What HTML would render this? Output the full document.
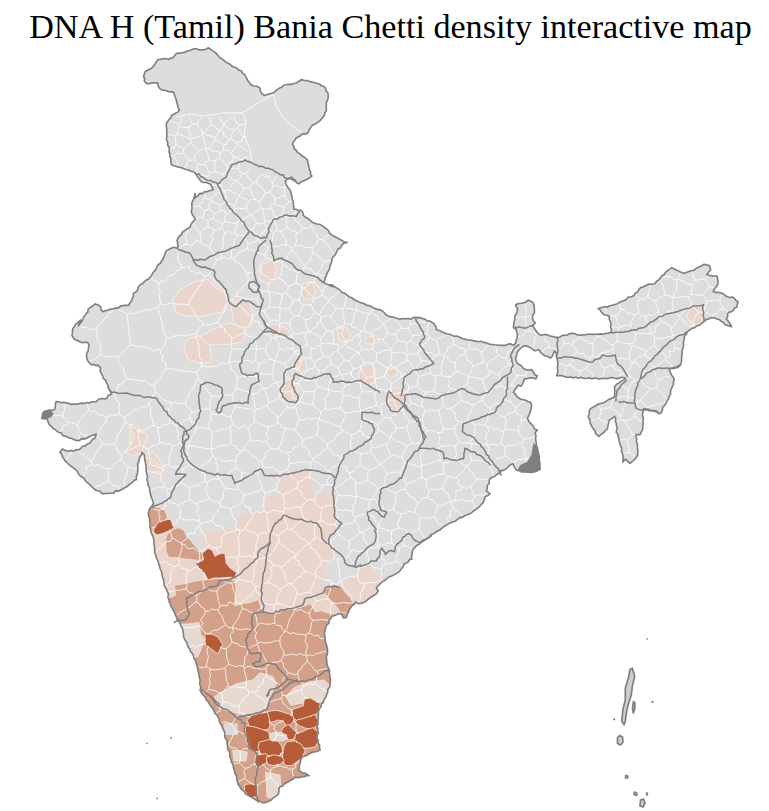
<!DOCTYPE html>
<html><head><meta charset="utf-8"><style>
html,body{margin:0;padding:0;background:#fff;width:769px;height:811px;overflow:hidden}
#t{position:absolute;left:29.2px;top:8.4px;font-family:"Liberation Serif",serif;font-size:34.13px;white-space:nowrap;color:#000;line-height:38px}
svg{position:absolute;left:0;top:0}
</style></head><body>
<div id="t">DNA H (Tamil) Bania Chetti density interactive map</div>
<svg width="769" height="811" viewBox="0 0 769 811">
<defs><clipPath id="ind"><path d="M143.5,76.4 145.1,71.7 150.3,69.1 154.7,64.7 158.1,59.5 162.5,58.7 168.5,59.5 172.9,57.7 176.3,53.5 181.5,53.0 189.8,50.4 195.5,48.6 199.7,49.9 205.9,49.4 208.0,47.8 212.7,50.9 219.7,57.7 230.1,64.2 241.3,70.7 245.7,76.4 250.9,84.7 256.9,86.3 260.0,88.1 260.6,92.0 263.9,95.1 272.5,93.3 279.5,88.1 286.0,84.7 296.4,82.9 301.7,79.5 309.5,81.6 319.9,84.2 325.6,88.1 328.2,95.9 326.4,105.0 324.5,115.4 317.3,122.7 312.1,125.3 308.2,132.3 300.4,135.7 295.9,138.3 292.5,144.0 296.4,150.5 301.7,155.7 306.9,159.1 308.9,167.4 311.9,176.1 307.6,179.0 302.6,181.3 298.7,183.9 295.3,180.0 291.4,177.1 287.5,179.0 285.2,181.0 287.5,186.8 290.5,190.7 292.0,196.6 293.4,204.4 294.0,209.2 298.3,210.6 300.6,210.2 305.1,217.0 311.9,221.9 319.7,224.3 327.1,229.3 329.9,233.6 336.3,237.5 347.0,242.4 341.6,245.3 336.9,251.2 333.0,257.0 330.4,264.8 328.5,271.1 325.2,277.5 323.6,282.4 328.5,284.7 334.3,286.7 330.0,284.7 337.8,288.6 345.6,293.8 353.4,299.0 361.2,302.9 371.6,306.8 382.0,310.7 388.5,315.9 397.6,318.5 408.0,318.5 415.8,317.2 422.3,318.5 430.1,321.1 434.0,323.7 436.6,329.7 444.4,332.8 452.2,335.4 458.7,336.7 465.2,339.3 475.6,341.1 486.0,342.7 492.5,344.5 499.1,345.3 505.6,345.4 510.3,343.8 513.4,345.4 515.7,343.1 516.9,338.4 517.3,333.7 515.7,329.0 513.4,327.5 513.8,323.5 514.6,319.6 515.0,315.7 516.9,312.6 517.7,308.7 516.1,306.8 515.7,304.8 521.2,303.3 525.1,302.5 528.2,300.1 532.9,302.5 534.1,305.6 534.5,309.5 532.5,315.7 533.7,321.2 535.3,322.8 532.9,325.1 533.7,327.5 536.8,332.1 540.7,335.3 544.6,334.5 550.0,336.0 557.0,337.4 565.3,335.3 571.6,333.2 579.9,335.3 590.3,334.3 602.8,334.3 611.1,332.2 610.6,325.4 609.3,316.3 602.8,313.7 598.1,308.5 602.8,307.2 614.5,304.6 623.6,300.7 631.4,296.8 637.9,291.6 640.5,287.7 647.0,285.1 654.8,283.8 658.7,279.9 663.9,274.7 667.8,270.3 671.7,267.7 678.2,270.8 684.7,273.4 691.2,270.8 699.0,266.9 704.2,264.3 709.4,265.6 710.7,269.5 706.8,274.7 713.3,276.0 717.2,276.0 717.8,283.8 713.3,291.6 721.1,292.9 727.6,296.8 734.1,298.1 738.1,302.0 736.8,307.2 727.6,313.7 726.3,318.9 731.5,326.7 727.6,325.4 723.7,322.8 717.2,318.9 710.7,317.6 704.2,321.5 699.0,325.4 692.5,328.0 687.3,331.9 684.7,335.8 683.4,343.6 682.1,354.0 681.6,361.8 678.3,367.3 671.1,368.2 669.2,370.0 674.3,379.1 672.0,387.3 668.9,396.4 664.7,405.5 660.1,413.7 653.8,410.6 643.7,408.8 642.8,412.8 643.4,418.3 642.8,429.2 640.1,434.6 636.1,434.6 637.4,443.7 637.9,454.7 635.6,458.3 632.8,461.0 630.1,463.4 625.5,459.2 622.8,461.9 622.8,454.7 620.1,443.7 617.9,436.5 616.4,425.5 614.6,416.4 609.2,420.1 607.3,429.2 603.7,432.8 599.1,436.5 595.5,433.7 593.7,429.2 590.0,422.8 588.2,416.4 590.0,409.2 594.6,406.4 599.1,403.7 603.7,402.8 609.2,399.1 613.7,397.3 614.6,392.8 614.6,386.4 617.3,383.7 621.9,380.9 625.5,378.2 621.9,377.3 614.6,378.2 605.5,378.6 596.4,378.2 587.3,378.2 578.2,378.2 569.1,377.3 560.0,375.5 556.6,375.8 557.6,369.5 557.6,361.2 556.6,353.9 554.5,350.8 552.4,356.0 550.3,358.1 545.1,356.0 541.0,352.9 538.9,349.8 534.7,350.8 531.6,348.7 528.5,346.6 524.3,345.6 520.2,348.7 517.0,352.9 515.5,358.1 516.5,362.2 521.2,365.4 525.4,369.5 531.6,369.5 533.7,372.7 534.7,374.7 537.3,375.8 535.8,378.9 529.5,377.9 524.3,378.9 521.2,386.2 518.1,385.1 515.0,389.3 513.4,392.4 517.0,396.6 523.3,399.7 530.0,401.8 531.6,406.0 531.0,409.2 529.2,414.6 527.4,418.3 529.2,421.9 531.9,424.6 534.6,429.2 537.4,430.1 535.0,432.8 535.6,438.3 536.5,445.6 538.3,452.8 539.2,458.3 540.1,469.2 536.5,471.1 532.8,472.0 527.4,471.4 521.9,472.0 516.4,470.1 514.6,467.4 512.8,463.8 505.5,469.2 500.1,471.1 494.6,476.5 489.1,480.2 487.3,485.6 486.4,491.1 490.0,493.8 485.5,496.5 483.4,502.4 478.2,507.6 473.0,511.5 465.2,515.4 457.4,519.3 449.6,523.2 441.8,528.4 434.0,533.6 428.8,537.5 421.0,542.7 413.2,549.2 411.9,559.1 406.4,562.8 402.8,567.3 399.1,571.9 394.6,574.6 387.3,578.2 381.8,581.9 378.2,585.5 376.4,588.3 378.2,591.0 376.4,593.7 373.7,595.5 364.9,602.1 358.7,603.7 355.5,602.1 352.4,605.3 349.3,609.9 346.2,617.7 343.1,617.7 341.5,613.8 336.8,614.6 332.1,616.2 329.0,620.9 325.9,627.1 324.3,633.3 325.1,639.6 326.7,645.8 327.5,653.6 326.7,659.9 327.5,666.1 329.0,669.2 329.8,673.9 330.6,680.0 330.1,685.8 326.2,696.2 321.0,704.0 318.4,714.4 317.1,735.2 320.2,750.1 301.9,757.4 298.3,770.1 309.2,775.6 294.7,777.4 280.1,786.5 278.3,793.8 269.2,801.1 263.7,802.9 254.6,799.2 245.5,793.8 238.2,784.7 234.6,771.9 230.9,759.2 227.3,744.6 223.7,730.1 218.2,717.3 210.9,706.4 203.6,695.5 200.0,690.0 200.2,680.0 197.6,667.3 193.7,656.9 189.8,649.1 185.9,641.2 183.3,633.4 180.7,625.6 176.8,617.8 172.9,610.0 169.0,599.6 166.4,589.2 163.8,581.4 161.2,571.0 158.6,563.2 156.0,555.4 154.7,547.6 153.4,537.2 150.8,532.0 149.5,521.6 148.2,513.8 149.5,508.6 153.4,503.4 150.8,495.6 149.5,487.8 146.9,480.0 147.0,474.4 145.7,464.0 144.4,454.9 141.8,452.3 139.2,458.8 137.9,469.2 136.6,479.6 128.8,484.8 121.0,490.0 110.6,493.2 102.8,493.9 92.4,487.4 82.0,477.0 71.6,466.6 63.8,458.8 59.9,452.3 62.5,448.9 66.4,451.0 74.2,451.0 80.7,448.4 89.8,443.2 95.0,438.0 96.3,434.1 92.4,435.4 87.2,438.0 79.4,440.6 69.0,438.0 57.3,431.5 49.5,425.0 46.9,418.5 41.7,418.5 42.5,413.3 46.9,410.7 54.7,409.4 56.0,401.6 66.4,402.9 76.8,404.2 89.8,402.9 96.3,401.6 98.9,399.0 105.4,399.0 111.9,392.5 108.0,387.3 111.0,392.8 108.9,388.7 105.8,380.3 101.1,373.1 100.6,367.9 98.5,365.3 91.2,364.7 87.6,360.6 86.5,355.4 88.1,351.2 89.1,345.0 87.6,342.4 79.8,341.8 73.5,338.2 72.0,335.6 73.0,328.3 75.6,324.2 80.8,320.0 78.2,326.0 84.7,315.6 89.9,307.8 95.1,303.9 99.0,305.2 102.9,311.7 112.0,309.1 125.0,305.2 130.2,302.6 135.4,292.2 140.6,284.4 148.4,279.2 156.2,268.8 161.4,261.0 166.6,250.6 171.8,248.0 178.3,246.7 177.0,240.2 182.2,232.4 190.0,227.2 192.6,222.0 195.2,219.4 191.3,211.6 192.6,201.2 195.2,193.4 193.7,198.6 200.2,193.4 213.2,189.5 210.6,184.3 200.2,180.4 195.0,172.6 171.6,164.8 169.0,151.8 166.4,138.8 166.4,123.2 171.6,115.4 179.4,110.2 176.8,102.4 174.3,94.3 173.3,91.7 167.6,91.2 162.4,90.2 159.8,88.6 158.2,86.0 157.7,82.9 151.4,82.9 147.8,83.9 144.2,80.8Z"/></clipPath></defs>
<path d="M143.5,76.4 145.1,71.7 150.3,69.1 154.7,64.7 158.1,59.5 162.5,58.7 168.5,59.5 172.9,57.7 176.3,53.5 181.5,53.0 189.8,50.4 195.5,48.6 199.7,49.9 205.9,49.4 208.0,47.8 212.7,50.9 219.7,57.7 230.1,64.2 241.3,70.7 245.7,76.4 250.9,84.7 256.9,86.3 260.0,88.1 260.6,92.0 263.9,95.1 272.5,93.3 279.5,88.1 286.0,84.7 296.4,82.9 301.7,79.5 309.5,81.6 319.9,84.2 325.6,88.1 328.2,95.9 326.4,105.0 324.5,115.4 317.3,122.7 312.1,125.3 308.2,132.3 300.4,135.7 295.9,138.3 292.5,144.0 296.4,150.5 301.7,155.7 306.9,159.1 308.9,167.4 311.9,176.1 307.6,179.0 302.6,181.3 298.7,183.9 295.3,180.0 291.4,177.1 287.5,179.0 285.2,181.0 287.5,186.8 290.5,190.7 292.0,196.6 293.4,204.4 294.0,209.2 298.3,210.6 300.6,210.2 305.1,217.0 311.9,221.9 319.7,224.3 327.1,229.3 329.9,233.6 336.3,237.5 347.0,242.4 341.6,245.3 336.9,251.2 333.0,257.0 330.4,264.8 328.5,271.1 325.2,277.5 323.6,282.4 328.5,284.7 334.3,286.7 330.0,284.7 337.8,288.6 345.6,293.8 353.4,299.0 361.2,302.9 371.6,306.8 382.0,310.7 388.5,315.9 397.6,318.5 408.0,318.5 415.8,317.2 422.3,318.5 430.1,321.1 434.0,323.7 436.6,329.7 444.4,332.8 452.2,335.4 458.7,336.7 465.2,339.3 475.6,341.1 486.0,342.7 492.5,344.5 499.1,345.3 505.6,345.4 510.3,343.8 513.4,345.4 515.7,343.1 516.9,338.4 517.3,333.7 515.7,329.0 513.4,327.5 513.8,323.5 514.6,319.6 515.0,315.7 516.9,312.6 517.7,308.7 516.1,306.8 515.7,304.8 521.2,303.3 525.1,302.5 528.2,300.1 532.9,302.5 534.1,305.6 534.5,309.5 532.5,315.7 533.7,321.2 535.3,322.8 532.9,325.1 533.7,327.5 536.8,332.1 540.7,335.3 544.6,334.5 550.0,336.0 557.0,337.4 565.3,335.3 571.6,333.2 579.9,335.3 590.3,334.3 602.8,334.3 611.1,332.2 610.6,325.4 609.3,316.3 602.8,313.7 598.1,308.5 602.8,307.2 614.5,304.6 623.6,300.7 631.4,296.8 637.9,291.6 640.5,287.7 647.0,285.1 654.8,283.8 658.7,279.9 663.9,274.7 667.8,270.3 671.7,267.7 678.2,270.8 684.7,273.4 691.2,270.8 699.0,266.9 704.2,264.3 709.4,265.6 710.7,269.5 706.8,274.7 713.3,276.0 717.2,276.0 717.8,283.8 713.3,291.6 721.1,292.9 727.6,296.8 734.1,298.1 738.1,302.0 736.8,307.2 727.6,313.7 726.3,318.9 731.5,326.7 727.6,325.4 723.7,322.8 717.2,318.9 710.7,317.6 704.2,321.5 699.0,325.4 692.5,328.0 687.3,331.9 684.7,335.8 683.4,343.6 682.1,354.0 681.6,361.8 678.3,367.3 671.1,368.2 669.2,370.0 674.3,379.1 672.0,387.3 668.9,396.4 664.7,405.5 660.1,413.7 653.8,410.6 643.7,408.8 642.8,412.8 643.4,418.3 642.8,429.2 640.1,434.6 636.1,434.6 637.4,443.7 637.9,454.7 635.6,458.3 632.8,461.0 630.1,463.4 625.5,459.2 622.8,461.9 622.8,454.7 620.1,443.7 617.9,436.5 616.4,425.5 614.6,416.4 609.2,420.1 607.3,429.2 603.7,432.8 599.1,436.5 595.5,433.7 593.7,429.2 590.0,422.8 588.2,416.4 590.0,409.2 594.6,406.4 599.1,403.7 603.7,402.8 609.2,399.1 613.7,397.3 614.6,392.8 614.6,386.4 617.3,383.7 621.9,380.9 625.5,378.2 621.9,377.3 614.6,378.2 605.5,378.6 596.4,378.2 587.3,378.2 578.2,378.2 569.1,377.3 560.0,375.5 556.6,375.8 557.6,369.5 557.6,361.2 556.6,353.9 554.5,350.8 552.4,356.0 550.3,358.1 545.1,356.0 541.0,352.9 538.9,349.8 534.7,350.8 531.6,348.7 528.5,346.6 524.3,345.6 520.2,348.7 517.0,352.9 515.5,358.1 516.5,362.2 521.2,365.4 525.4,369.5 531.6,369.5 533.7,372.7 534.7,374.7 537.3,375.8 535.8,378.9 529.5,377.9 524.3,378.9 521.2,386.2 518.1,385.1 515.0,389.3 513.4,392.4 517.0,396.6 523.3,399.7 530.0,401.8 531.6,406.0 531.0,409.2 529.2,414.6 527.4,418.3 529.2,421.9 531.9,424.6 534.6,429.2 537.4,430.1 535.0,432.8 535.6,438.3 536.5,445.6 538.3,452.8 539.2,458.3 540.1,469.2 536.5,471.1 532.8,472.0 527.4,471.4 521.9,472.0 516.4,470.1 514.6,467.4 512.8,463.8 505.5,469.2 500.1,471.1 494.6,476.5 489.1,480.2 487.3,485.6 486.4,491.1 490.0,493.8 485.5,496.5 483.4,502.4 478.2,507.6 473.0,511.5 465.2,515.4 457.4,519.3 449.6,523.2 441.8,528.4 434.0,533.6 428.8,537.5 421.0,542.7 413.2,549.2 411.9,559.1 406.4,562.8 402.8,567.3 399.1,571.9 394.6,574.6 387.3,578.2 381.8,581.9 378.2,585.5 376.4,588.3 378.2,591.0 376.4,593.7 373.7,595.5 364.9,602.1 358.7,603.7 355.5,602.1 352.4,605.3 349.3,609.9 346.2,617.7 343.1,617.7 341.5,613.8 336.8,614.6 332.1,616.2 329.0,620.9 325.9,627.1 324.3,633.3 325.1,639.6 326.7,645.8 327.5,653.6 326.7,659.9 327.5,666.1 329.0,669.2 329.8,673.9 330.6,680.0 330.1,685.8 326.2,696.2 321.0,704.0 318.4,714.4 317.1,735.2 320.2,750.1 301.9,757.4 298.3,770.1 309.2,775.6 294.7,777.4 280.1,786.5 278.3,793.8 269.2,801.1 263.7,802.9 254.6,799.2 245.5,793.8 238.2,784.7 234.6,771.9 230.9,759.2 227.3,744.6 223.7,730.1 218.2,717.3 210.9,706.4 203.6,695.5 200.0,690.0 200.2,680.0 197.6,667.3 193.7,656.9 189.8,649.1 185.9,641.2 183.3,633.4 180.7,625.6 176.8,617.8 172.9,610.0 169.0,599.6 166.4,589.2 163.8,581.4 161.2,571.0 158.6,563.2 156.0,555.4 154.7,547.6 153.4,537.2 150.8,532.0 149.5,521.6 148.2,513.8 149.5,508.6 153.4,503.4 150.8,495.6 149.5,487.8 146.9,480.0 147.0,474.4 145.7,464.0 144.4,454.9 141.8,452.3 139.2,458.8 137.9,469.2 136.6,479.6 128.8,484.8 121.0,490.0 110.6,493.2 102.8,493.9 92.4,487.4 82.0,477.0 71.6,466.6 63.8,458.8 59.9,452.3 62.5,448.9 66.4,451.0 74.2,451.0 80.7,448.4 89.8,443.2 95.0,438.0 96.3,434.1 92.4,435.4 87.2,438.0 79.4,440.6 69.0,438.0 57.3,431.5 49.5,425.0 46.9,418.5 41.7,418.5 42.5,413.3 46.9,410.7 54.7,409.4 56.0,401.6 66.4,402.9 76.8,404.2 89.8,402.9 96.3,401.6 98.9,399.0 105.4,399.0 111.9,392.5 108.0,387.3 111.0,392.8 108.9,388.7 105.8,380.3 101.1,373.1 100.6,367.9 98.5,365.3 91.2,364.7 87.6,360.6 86.5,355.4 88.1,351.2 89.1,345.0 87.6,342.4 79.8,341.8 73.5,338.2 72.0,335.6 73.0,328.3 75.6,324.2 80.8,320.0 78.2,326.0 84.7,315.6 89.9,307.8 95.1,303.9 99.0,305.2 102.9,311.7 112.0,309.1 125.0,305.2 130.2,302.6 135.4,292.2 140.6,284.4 148.4,279.2 156.2,268.8 161.4,261.0 166.6,250.6 171.8,248.0 178.3,246.7 177.0,240.2 182.2,232.4 190.0,227.2 192.6,222.0 195.2,219.4 191.3,211.6 192.6,201.2 195.2,193.4 193.7,198.6 200.2,193.4 213.2,189.5 210.6,184.3 200.2,180.4 195.0,172.6 171.6,164.8 169.0,151.8 166.4,138.8 166.4,123.2 171.6,115.4 179.4,110.2 176.8,102.4 174.3,94.3 173.3,91.7 167.6,91.2 162.4,90.2 159.8,88.6 158.2,86.0 157.7,82.9 151.4,82.9 147.8,83.9 144.2,80.8Z" fill="#dddddd"/>
<g clip-path="url(#ind)">
<path d="M140.0,508.0 150.0,508.0 156.8,507.5 165.2,512.6 166.9,517.6 173.7,524.4 179.6,529.5 186.3,534.5 191.4,541.3 199.0,549.7 205.8,549.7 202.4,537.9 200.7,534.5 210.9,531.1 219.3,529.5 232.5,529.3 236.6,522.0 240.8,515.8 245.0,513.7 254.3,511.6 259.5,511.6 265.8,504.3 266.8,496.0 274.1,496.0 280.3,493.9 278.3,482.5 276.7,478.3 282.4,476.2 297.1,471.1 305.5,468.6 310.6,473.7 312.3,494.0 320.7,494.0 330.9,492.3 335.1,494.8 334.2,500.7 333.4,514.2 337.6,519.3 342.7,524.4 337.6,529.5 330.9,532.8 329.2,541.3 329.4,544.6 334.6,549.8 336.6,556.0 331.4,560.2 326.2,565.4 324.2,572.7 326.2,578.9 323.1,582.0 326.2,586.2 331.4,584.1 336.6,585.1 343.9,584.1 350.2,578.9 356.4,575.8 359.5,569.5 363.7,565.4 368.9,564.3 369.1,566.4 371.8,570.0 378.2,573.7 382.8,577.3 386.0,580.0 395.0,578.0 460.0,620.0 460.0,811.0 100.0,811.0 100.0,508.0Z" fill="#e9d5cb"/>
<path d="M261.7,264.4 272.5,260.1 276.8,268.7 274.6,279.5 268.2,283.9 259.5,279.5 261.7,270.9Z" fill="#e9d5cb" stroke="#f8f0ea" stroke-width="0.9"/>
<path d="M302.7,283.9 311.3,281.7 315.7,290.3 313.5,299.0 304.9,299.0 300.6,292.5Z" fill="#e9d5cb" stroke="#f8f0ea" stroke-width="0.9"/>
<path d="M173.2,299.0 181.8,288.2 194.8,281.7 207.7,279.5 216.4,288.2 225.0,292.5 227.2,301.1 222.8,311.9 212.0,314.1 201.2,316.2 186.1,316.2 175.3,311.9Z" fill="#e9d5cb" stroke="#f8f0ea" stroke-width="0.9"/>
<path d="M231.5,307.6 240.1,299.0 248.7,301.1 253.1,314.1 250.9,327.0 240.1,327.0 233.6,322.7Z" fill="#e9d5cb" stroke="#f8f0ea" stroke-width="0.9"/>
<path d="M201.2,335.7 214.2,329.2 229.3,322.7 240.1,327.0 246.6,331.3 242.3,342.1 229.3,344.3 214.2,344.3 203.4,346.5Z" fill="#e9d5cb" stroke="#f8f0ea" stroke-width="0.9"/>
<path d="M186.1,340.0 199.1,335.7 209.9,346.5 212.0,361.6 201.2,363.7 188.3,359.4 184.0,348.6Z" fill="#e9d5cb" stroke="#f8f0ea" stroke-width="0.9"/>
<path d="M266.0,324.9 276.8,324.9 287.6,329.2 291.9,335.7 283.3,337.8 272.5,333.5 266.0,331.3Z" fill="#e9d5cb" stroke="#f8f0ea" stroke-width="0.9"/>
<path d="M337.3,329.2 345.9,327.0 350.2,335.7 345.9,342.1 339.4,340.0Z" fill="#e9d5cb" stroke="#f8f0ea" stroke-width="0.9"/>
<path d="M365.3,337.8 376.1,335.7 380.4,342.1 371.8,344.3 365.3,343.4Z" fill="#e9d5cb" stroke="#f8f0ea" stroke-width="0.9"/>
<path d="M361.0,365.9 371.8,363.7 376.1,372.4 374.0,383.2 365.3,385.3 358.8,376.7Z" fill="#e9d5cb" stroke="#f8f0ea" stroke-width="0.9"/>
<path d="M386.9,369.3 395.5,368.0 397.7,374.5 391.2,378.0 386.9,374.5Z" fill="#e9d5cb" stroke="#f8f0ea" stroke-width="0.9"/>
<path d="M386.9,389.6 397.7,387.5 406.3,394.0 402.0,409.1 393.4,411.2 389.1,404.7Z" fill="#e9d5cb" stroke="#f8f0ea" stroke-width="0.9"/>
<path d="M296.2,361.6 304.9,359.4 307.0,370.2 302.7,376.7 296.2,374.5Z" fill="#e9d5cb" stroke="#f8f0ea" stroke-width="0.9"/>
<path d="M281.1,383.2 289.8,378.8 296.2,385.3 298.4,398.3 291.9,404.7 283.3,400.4 279.0,391.8Z" fill="#e9d5cb" stroke="#f8f0ea" stroke-width="0.9"/>
<path d="M130.0,424.2 138.6,428.5 147.3,437.1 143.0,447.9 136.5,452.2 130.0,452.2Z" fill="#e9d5cb" stroke="#f8f0ea" stroke-width="0.9"/>
<path d="M145.1,454.4 153.7,452.2 164.5,467.4 160.2,473.8 149.4,471.7 145.1,463.0Z" fill="#e9d5cb" stroke="#f8f0ea" stroke-width="0.9"/>
<path d="M688.6,309.8 696.4,305.9 704.2,305.1 702.9,315.0 701.6,322.8 693.8,325.4 687.3,317.6Z" fill="#e9d5cb" stroke="#f8f0ea" stroke-width="0.9"/>
<path d="M130.1,425.0 136.6,423.7 139.2,431.5 148.3,435.4 144.4,443.2 141.8,452.3 134.0,456.2 124.9,452.3 131.4,443.2 134.0,435.4Z" fill="#e9d5cb" stroke="#f8f0ea" stroke-width="0.9"/>
<path d="M144.4,457.5 152.2,458.8 157.4,464.0 165.2,466.6 162.6,471.8 152.2,471.8 145.7,469.2Z" fill="#e9d5cb" stroke="#f8f0ea" stroke-width="0.9"/>
<path d="M140.0,506.0 149.1,508.2 154.3,506.9 159.5,507.6 164.7,510.2 166.7,514.7 167.3,518.6 155.6,526.4 152.4,531.6 140.0,531.0Z" fill="#d3a08a" stroke="#f5e4da" stroke-width="0.8"/>
<path d="M165.4,539.4 167.3,534.2 173.8,529.0 179.0,527.7 184.2,530.3 186.8,536.8 192.0,542.0 195.9,547.2 201.1,552.4 205.0,556.3 201.1,560.2 195.9,560.2 185.5,558.9 176.4,557.6 168.6,557.6 166.0,551.1Z" fill="#d3a08a" stroke="#f5e4da" stroke-width="0.8"/>
<path d="M325.8,588.6 333.4,584.4 341.0,586.9 346.1,593.7 354.5,602.1 360.0,610.0 344.4,620.0 339.3,610.6 334.2,603.8 327.5,597.0 324.1,592.0Z" fill="#d3a08a" stroke="#f5e4da" stroke-width="0.8"/>
<path d="M150.0,598.7 166.1,598.7 175.4,595.4 174.5,585.2 185.5,583.5 200.7,580.1 217.6,578.5 231.2,578.5 235.4,581.8 236.2,592.0 234.5,605.5 251.4,602.1 258.2,599.6 261.6,608.9 268.3,614.0 280.0,613.1 280.1,610.6 295.4,608.9 303.8,606.3 310.6,603.8 315.6,612.3 320.7,610.6 325.8,612.3 332.6,614.0 337.6,614.0 345.0,612.0 360.0,640.0 360.0,811.0 150.0,811.0Z" fill="#d3a08a" stroke="#f5e4da" stroke-width="0.8"/>
<path d="M160.0,622.0 178.7,624.1 187.2,624.1 199.0,622.4 200.7,634.2 204.9,639.3 201.6,647.8 198.2,656.2 194.0,657.9 188.9,649.5 184.7,639.3 181.3,632.6Z" fill="#e6d9d2" stroke="#f5e4da" stroke-width="0.8"/>
<path d="M214.6,696.4 223.7,690.9 236.4,683.7 252.8,680.0 260.1,672.7 272.8,676.4 276.5,683.7 271.0,694.6 267.4,707.3 254.6,712.8 241.9,714.6 227.3,711.0 218.2,707.3Z" fill="#e6d9d2" stroke="#f5e4da" stroke-width="0.8"/>
<path d="M285.6,696.4 294.7,687.3 309.2,681.8 323.8,680.0 332.0,687.3 330.0,701.9 318.3,707.3 309.2,701.9 298.3,703.7 291.0,705.5Z" fill="#e6d9d2" stroke="#f5e4da" stroke-width="0.8"/>
<path d="M265.5,772.0 280.0,775.0 281.0,790.0 276.0,799.0 267.0,797.0Z" fill="#e6d9d2" stroke="#f5e4da" stroke-width="0.8"/>
<path d="M232.8,750.0 247.3,752.0 246.0,761.0 234.0,761.0Z" fill="#e6d9d2" stroke="#f5e4da" stroke-width="0.8"/>
<path d="M223.6,723.0 237.9,723.5 238.0,735.0 224.0,735.0Z" fill="#dcd9d8"/>
<path d="M154.3,527.4 153.5,531.8 156.7,535.0 162.3,533.6 168.9,530.9 174.1,528.0 170.3,519.1 165.8,519.9 159.1,521.9 154.3,527.4Z" fill="#b65b38" stroke="#f3e2d8" stroke-width="0.9"/>
<path d="M202.0,553.5 203.8,559.6 200.7,561.2 195.3,563.4 198.7,567.8 204.9,574.1 208.0,580.0 213.8,578.0 222.8,578.0 230.1,577.1 235.2,578.1 236.4,572.5 230.6,568.6 226.2,563.4 225.2,554.0 220.9,553.0 214.9,556.3 212.4,550.4 208.2,548.3 202.0,553.5Z" fill="#b65b38" stroke="#f3e2d8" stroke-width="0.9"/>
<path d="M205.1,633.4 205.1,644.8 210.5,648.4 217.8,653.9 222.7,644.4 218.1,637.1 212.8,634.4 205.1,633.4Z" fill="#b65b38" stroke="#f3e2d8" stroke-width="0.9"/>
<path d="M292.0,709.4 292.6,717.2 297.2,721.2 303.4,720.0 310.5,717.5 315.3,715.2 318.4,711.4 320.4,703.6 310.3,698.1 304.4,698.8 303.2,705.9 297.2,708.0 292.0,709.4Z" fill="#b65b38" stroke="#f3e2d8" stroke-width="0.9"/>
<path d="M297.0,719.8 295.3,722.3 299.3,725.7 305.3,728.2 311.5,729.3 317.4,725.5 317.9,720.3 315.3,714.3 310.0,716.2 303.0,718.6 297.0,719.8Z" fill="#b65b38" stroke="#f3e2d8" stroke-width="0.9"/>
<path d="M267.3,711.6 268.0,719.7 271.5,722.4 277.6,720.0 282.9,721.0 286.5,725.9 290.7,724.5 294.0,720.6 293.3,716.5 289.5,714.0 284.7,712.7 280.0,711.0 275.1,710.4 267.3,711.6Z" fill="#b65b38" stroke="#f3e2d8" stroke-width="0.9"/>
<path d="M250.1,716.3 247.4,720.3 248.8,725.6 253.7,728.1 261.0,730.5 268.6,729.2 270.0,725.2 269.4,719.2 267.4,712.0 257.4,713.9 250.1,716.3Z" fill="#b65b38" stroke="#f3e2d8" stroke-width="0.9"/>
<path d="M245.1,725.5 245.7,734.6 246.3,741.7 250.0,749.0 255.0,751.6 260.5,751.6 261.7,745.5 267.4,743.3 270.0,739.4 268.7,731.6 261.3,729.1 254.2,726.8 245.1,725.5Z" fill="#b65b38" stroke="#f3e2d8" stroke-width="0.9"/>
<path d="M259.3,742.1 258.0,747.5 260.6,753.8 265.6,755.1 272.7,756.2 278.9,756.2 282.9,752.2 281.7,745.9 277.9,740.8 269.3,739.6 259.3,742.1Z" fill="#b65b38" stroke="#f3e2d8" stroke-width="0.9"/>
<path d="M282.7,728.2 281.3,732.2 284.0,737.3 289.1,739.9 295.6,738.6 297.0,733.1 292.0,728.1 288.1,724.2 282.7,728.2Z" fill="#b65b38" stroke="#f3e2d8" stroke-width="0.9"/>
<path d="M295.6,734.0 294.2,739.4 298.0,744.3 303.0,748.1 309.2,748.1 315.4,746.8 319.1,739.3 317.8,731.7 312.8,727.8 307.7,729.1 302.9,731.5 295.6,734.0Z" fill="#b65b38" stroke="#f3e2d8" stroke-width="0.9"/>
<path d="M286.3,742.1 283.8,747.2 282.6,753.1 282.6,760.4 285.2,765.6 291.7,765.6 301.5,758.4 305.2,750.9 301.4,744.5 295.1,740.8 286.3,742.1Z" fill="#b65b38" stroke="#f3e2d8" stroke-width="0.9"/>
<path d="M255.8,754.9 254.5,762.7 257.3,768.2 261.4,765.5 266.2,763.1 268.9,757.8 266.0,753.7 255.8,754.9Z" fill="#b65b38" stroke="#f3e2d8" stroke-width="0.9"/>
<path d="M266.1,757.4 267.5,764.3 272.8,765.6 280.1,764.4 284.2,760.3 281.4,756.1 273.8,754.8 266.1,757.4Z" fill="#b65b38" stroke="#f3e2d8" stroke-width="0.9"/>
<path d="M244.9,784.3 244.3,790.2 249.7,797.7 257.5,796.9 257.7,785.5 252.1,783.8 244.9,784.3Z" fill="#b65b38" stroke="#f3e2d8" stroke-width="0.9"/>
<path d="M269.3,733.3 275.1,731.5 281.0,732.1 286.8,734.5 288.0,739.2 283.3,741.5 277.5,741.5 271.6,741.5 269.8,738.0Z" fill="#e6d9d2"/>
<path d="M169.6,120.5 172.6,122.1 176.2,122.4 178.6,124.9M182.5,117.0 181.1,121.2 178.6,124.9M254.5,797.8 254.6,796.2M238.4,781.1 241.7,780.0 244.7,778.3M253.6,785.3 250.8,782.7 247.2,781.1 244.7,778.3M256.0,786.0 259.1,784.4 261.6,782.1 265.0,780.9 267.9,779.1 270.1,776.3M278.7,787.0 276.6,784.3 274.5,781.6 271.8,779.3 270.1,776.3M244.7,778.3 245.0,775.0 243.6,771.5 245.4,768.3M270.1,776.3 270.6,770.7M270.6,770.7 267.3,769.2 264.9,766.6 262.5,763.8M245.4,768.3 249.2,767.3 252.3,764.7 256.2,763.8M293.7,776.6 292.5,773.0 292.3,769.1M270.6,770.7 273.0,767.6 276.8,766.7M292.3,769.1 289.1,769.2 286.2,767.4 283.1,767.1 280.1,765.5 276.8,766.7M76.5,325.1 77.2,325.3M79.7,325.8 82.8,327.5 86.2,327.4 89.2,329.2 92.6,329.1 96.0,329.3M89.8,361.2 92.6,359.9 95.7,358.9 98.1,356.7 100.6,354.7M100.6,354.7 100.7,351.4 100.2,348.2 101.4,344.7 98.7,341.9 97.0,338.9 97.3,335.6 96.8,332.4 96.0,329.3M159.1,284.4 157.6,287.7 160.8,290.6 159.2,293.9 159.5,297.0 159.9,300.2 160.7,303.3M159.1,284.4 157.3,281.1 153.2,280.5 151.3,277.4M160.7,303.3 157.7,307.4M157.7,307.4 154.7,308.2 151.8,309.3 148.8,310.0 145.6,309.8 142.7,310.8 139.8,312.1 136.6,312.1 133.9,313.8 130.5,312.8 127.8,314.6M117.3,308.8 120.9,310.5 124.4,312.4 127.8,314.6M181.5,267.2 181.0,264.2 178.5,261.7 177.5,258.8 178.2,255.5 178.5,252.2 176.5,249.6M181.5,267.2 179.6,269.9 176.4,270.8 174.7,273.7 172.0,275.3 168.5,276.0 166.8,278.9 164.5,281.1 160.5,281.0 159.1,284.4M174.9,248.6 176.5,249.6M160.6,350.2 157.7,349.2 154.2,351.4 151.5,349.4 148.7,347.7 145.7,347.4 142.8,346.2 139.5,347.2 136.6,346.2 133.6,345.6 130.6,344.8M160.6,350.2 163.1,347.6 164.6,344.5 165.4,341.1 166.8,337.9M130.6,344.8 129.9,341.8 130.4,338.7 129.8,335.7 128.4,332.8 129.1,329.7 128.6,326.7 128.2,323.7 127.8,320.7 127.1,317.7 127.8,314.6M166.8,337.9 165.3,335.0 164.2,332.0 163.4,328.9 162.2,326.0 162.7,322.5 160.7,319.8 160.5,316.5 158.6,313.8 158.8,310.4 157.7,307.4M96.0,329.3 97.4,326.1 100.3,324.3 102.4,321.8 104.1,318.8 107.4,317.4 108.1,313.5 111.5,312.2 113.8,309.8M130.6,344.8 127.8,347.0 125.4,349.7 123.2,352.5 120.3,354.6 118.4,357.8M118.4,357.8 115.6,356.5 112.7,355.8 109.3,357.4 106.5,356.0 103.4,356.3 100.6,354.7M181.5,267.2 184.6,268.1 188.7,266.1 190.3,270.7 193.5,271.4 195.9,273.9 199.8,272.3 202.4,274.4 205.2,275.9M160.7,303.3 163.7,305.0 166.8,304.6 170.0,302.5 173.0,304.0 176.1,303.7 179.2,304.4 182.3,304.1 185.3,304.4 188.4,304.8M205.2,275.9 204.2,278.9 202.2,281.2 201.7,284.5 199.1,286.5 197.5,289.0 195.7,291.5 193.6,293.8 193.1,297.0 190.1,298.8 189.3,301.9 188.4,304.8M223.6,126.1 223.0,122.7 220.2,120.3 219.3,117.0M223.6,126.1 224.3,125.9M232.1,117.0 229.1,119.6 225.7,121.9 224.3,125.9M211.1,125.5 210.7,121.1 209.1,117.0M211.1,125.5 214.5,126.1 216.7,128.7 219.5,130.3M223.6,126.1 220.3,130.1M219.5,130.3 220.3,130.1M203.0,133.3 205.7,134.9 208.8,135.5 211.7,136.4 214.6,137.5M211.1,125.5 207.8,127.5 205.5,130.6 203.0,133.3M219.5,130.3 217.7,134.4 214.6,137.5M184.0,245.1 180.2,247.3 176.5,249.6M184.0,245.1 186.5,242.5 186.1,239.2 185.0,235.8 187.0,233.1 187.8,230.1M184.0,245.1 187.2,243.8 190.9,245.5 194.0,243.6 196.9,240.2 200.7,242.2M200.7,242.2 201.0,239.1 200.2,236.0 200.1,232.9M192.4,225.1 195.7,226.9 197.4,230.4 200.1,232.9M169.7,149.3 174.4,147.7 175.9,143.0M170.9,155.3 174.0,156.2M174.0,156.2 176.4,153.3 180.2,154.2 183.2,152.9M183.2,152.9 183.8,148.8M183.8,148.8 181.1,146.9 177.9,145.8 175.9,143.0M167.6,135.0 171.5,134.5 175.2,136.1M175.9,143.0 175.5,139.5 175.2,136.1M178.6,124.9 179.3,126.3M179.3,126.3 177.6,130.3 177.1,134.6M175.2,136.1 177.1,134.6M192.3,124.3 189.5,126.9M192.3,124.3 197.3,124.2M189.5,126.9 188.5,130.9 190.6,134.7 190.0,138.6M197.3,124.2 198.6,127.5 201.4,130.0 202.6,133.4M202.6,133.4 202.2,134.0M202.2,134.0 200.1,136.7 196.8,137.1 193.5,137.7 191.0,139.7M191.0,139.7 190.0,138.6M188.4,117.0 191.0,120.3 192.3,124.3M179.3,126.3 182.6,127.5 186.0,127.6 189.5,126.9M202.4,117.0 198.7,119.8 197.3,124.2M177.1,134.6 180.6,134.7 183.7,136.3 186.8,137.6 190.0,138.6M203.0,133.3 202.6,133.4M214.6,137.5 214.8,139.5M208.2,148.2 211.1,145.8 213.3,142.9 214.8,139.5M206.2,148.8 208.2,148.2M206.2,148.8 205.6,145.8 204.2,143.0 204.2,139.8 203.2,136.9 202.2,134.0M205.8,149.2 206.2,148.8M199.5,150.8 202.4,149.1 205.8,149.2M199.5,150.8 196.7,147.9 193.0,146.0 190.9,142.5M190.9,142.5 191.0,139.7M190.9,142.5 188.6,144.6 186.4,146.9 183.8,148.8M196.6,172.9 196.9,169.8 196.7,166.6 197.8,163.5M183.6,167.5 186.8,166.2 187.0,162.4 189.2,160.2M189.2,160.2 194.7,160.0M194.7,160.0 197.8,163.5M174.0,156.2 175.6,159.2 177.9,161.8 177.5,165.5M183.2,152.9 185.6,154.9 186.9,158.0 189.2,160.2M199.5,150.8 196.8,153.2 194.3,155.9 194.7,160.0M214.9,171.6 214.6,168.1 215.0,164.6 215.1,161.2M214.9,171.6 209.7,173.4M209.7,173.4 207.8,170.5 206.5,167.2 204.6,164.3M204.6,164.3 206.4,161.6 209.3,160.0M209.3,160.0 215.1,161.2M207.7,176.4 209.7,173.4M207.7,176.4 204.4,175.6 201.2,174.5 197.7,174.6M197.8,163.5 201.1,164.9 204.6,164.3M205.8,149.2 207.1,152.8 208.3,156.3 209.3,160.0M43.6,414.1 47.0,413.4 50.1,415.6 53.5,415.2 56.8,415.7 60.3,415.0 63.5,416.5M63.5,416.5 63.1,413.1 64.6,410.2 64.8,407.0 66.1,404.1M59.5,431.3 62.3,429.9 62.7,426.1 66.0,425.1 67.8,422.7M63.5,416.5 66.1,419.3 67.8,422.7M126.4,378.1 124.5,381.1 122.3,383.9 118.0,384.9 117.4,389.0 115.4,391.9M126.4,378.1 125.7,375.0 123.6,372.5 123.8,369.1 122.0,366.4 120.5,363.7 118.1,361.3 118.4,357.8M115.4,391.9 112.7,391.6M66.6,459.9 67.3,456.8 70.1,455.0 71.3,452.2M83.0,476.4 84.5,473.5 86.4,471.0 86.0,467.0 90.1,465.8 91.5,463.0M91.5,463.0 91.2,461.5M91.2,461.5 89.0,458.9 85.8,457.4 83.9,454.3 80.1,453.5 77.9,450.8M276.8,766.7 277.6,763.8M279.7,756.8 280.7,753.2M259.7,755.4 259.2,750.6M280.7,753.2 280.6,753.1M228.6,744.7 228.7,744.6M233.6,764.0 239.4,762.8M228.7,744.6 231.0,747.5 234.8,747.8 237.6,749.8 240.5,751.8M239.4,762.8 240.6,759.2 240.1,755.5 240.5,751.8M235.9,731.8 233.1,734.4 231.9,738.0 229.9,741.1 228.7,744.6M235.9,731.8 239.6,731.6 242.9,733.8 246.6,733.6M249.9,746.6 246.9,748.7 242.9,748.8 240.5,751.8M245.4,768.3 242.3,765.7 239.4,762.8M707.2,276.0 705.1,279.5M692.7,271.4 692.9,275.9 694.8,280.1M705.1,279.5 701.7,279.2 698.3,280.0 694.8,280.1M238.8,125.7 242.1,124.5 245.6,123.9M234.1,117.0 235.0,120.3 237.1,122.9 238.8,125.7M714.1,287.8 708.5,286.7M708.5,286.7 707.9,282.6 705.1,279.5M205.2,275.9 208.7,275.0M200.7,242.2 203.6,244.8 207.4,246.1 210.0,249.2M210.0,249.2 212.8,251.3 214.6,254.1 215.1,257.9 217.9,260.0M208.7,275.0 210.2,271.8 212.6,269.1 214.0,265.9 214.9,262.3 217.9,260.0M208.2,148.2 211.1,149.8 213.9,151.7 217.5,151.4 220.4,152.9M215.1,161.2 219.4,158.3M219.4,158.3 220.4,152.9M224.3,125.9 227.4,127.7 230.7,128.8 234.1,129.7M238.8,125.7 237.5,128.2M234.1,129.7 237.5,128.2M196.3,219.8 199.4,217.0 203.4,218.0M193.1,207.0 198.4,205.8M198.4,205.8 201.4,208.1 204.3,210.6M203.4,218.0 203.7,214.3 204.3,210.6M221.7,227.9 218.1,229.7 214.2,230.4M221.7,227.9 222.6,223.9M222.6,223.9 219.5,222.1 216.4,220.3 213.5,218.1M214.2,230.4 211.4,228.1 208.0,226.9M213.5,218.1 210.5,219.1 208.0,221.1M208.0,226.9 208.0,221.1M210.0,249.2 210.2,246.0 211.2,242.9 212.9,240.0 211.3,236.3 213.2,233.5 214.2,230.4M200.1,232.9 202.4,230.4 204.7,228.1 208.0,226.9M203.4,218.0 208.0,221.1M105.8,417.5 103.1,415.6 100.0,414.9 97.3,413.3 95.0,410.8 91.0,411.8 88.6,409.5M105.8,417.5 106.4,421.5 104.0,424.2 101.8,426.9 99.5,429.6 99.0,433.1 97.0,436.0M88.6,409.5 87.2,412.5 84.5,414.6 82.6,417.2 80.3,419.5 78.5,422.2 77.7,425.6M97.0,436.0 96.9,436.0M90.8,434.8 87.6,434.8 84.3,435.5 81.5,433.1M77.7,425.6 78.8,429.7 81.5,433.1M115.4,391.9 114.4,395.3 115.6,398.3 118.0,401.1 119.4,404.0 118.8,407.3 119.1,410.5 119.2,413.7M119.2,413.7 116.1,415.3 112.3,414.9 109.1,416.3 105.8,417.5M87.4,404.3 88.6,409.5M67.8,422.7 71.4,422.6 74.7,423.5 77.7,425.6M102.2,442.8 101.6,446.1 98.9,448.1 97.8,451.0 96.0,453.5 94.1,456.0 93.1,459.0 91.2,461.5M102.2,442.8 100.0,439.1 97.0,436.0M78.8,439.2 79.4,435.8 81.5,433.1M95.0,487.6 97.4,485.6 101.0,485.7 103.0,483.1 106.3,482.8 108.4,480.3M91.5,463.0 94.3,465.9 98.5,464.2 101.3,466.7 104.6,468.0 108.1,468.5M108.4,480.3 108.1,476.3 108.5,472.4 108.1,468.5M102.2,442.8 105.1,443.9 108.1,444.5 111.2,444.2 114.2,444.7M108.1,468.5 111.7,468.3 113.5,465.3 115.9,463.1 118.3,461.0 121.5,460.1M121.5,460.1 121.6,454.5M114.2,444.7 116.8,446.6 117.5,449.9 118.6,452.9 121.6,454.5M694.8,280.1 691.1,284.5M708.5,286.7 707.1,289.9 704.8,292.5 702.8,295.3M702.8,295.3 699.0,295.3 695.3,294.7 691.6,294.1M691.6,294.1 691.3,290.9 693.2,287.7 691.1,284.5M679.9,272.8 679.0,276.0 677.8,279.2M691.1,284.5 687.3,284.5 684.6,281.6 681.2,280.3 677.8,279.2M707.1,301.3 705.8,304.6 704.2,307.8 704.0,311.5M707.1,301.3 710.3,300.8 713.4,300.1 716.7,300.5 719.9,299.7M723.2,308.7 719.6,309.8 717.3,312.9 713.8,314.0 711.1,316.4M723.2,308.7 722.3,305.7 720.1,303.0 719.9,299.7M710.5,316.4 707.7,313.3 704.0,311.5M702.8,295.3 705.3,298.1 707.1,301.3M721.7,294.6 719.9,299.7M728.5,311.6 723.2,308.7M227.2,168.8 230.9,169.1 234.6,167.9 238.2,169.0M227.2,168.8 226.9,165.5M226.9,165.5 228.9,162.6 232.6,161.1 233.6,157.5M238.2,169.0 239.2,165.9 239.3,162.6 240.3,159.6M240.3,159.6 237.4,157.1 233.6,157.5M223.3,174.1 219.0,173.0 214.9,171.6M223.3,174.1 224.9,173.1M224.9,173.1 227.2,168.8M219.4,158.3 221.8,160.8 224.5,163.0 226.9,165.5M220.4,152.9 223.5,150.2M233.6,157.5 231.5,153.2M231.5,153.2 228.1,150.2 223.5,150.2M220.3,130.1 223.1,131.8 223.6,135.6 226.7,137.0 228.5,139.6M214.8,139.5 218.4,140.7 221.1,142.9 223.7,145.5M223.7,145.5 227.4,143.6 228.5,139.6M223.7,145.5 223.5,150.2M234.1,129.7 232.5,132.7 231.4,135.9 230.6,139.3M228.5,139.6 230.6,139.3M242.8,136.6 241.9,141.5 236.9,142.4M242.8,136.6 246.8,136.7M237.8,145.4 236.9,142.4M237.8,145.4 240.8,146.4 243.4,148.1 245.8,150.0 248.2,152.0M237.5,128.2 239.1,131.1 241.4,133.6 242.8,136.6M230.6,139.3 233.8,140.8 236.9,142.4M231.5,153.2 233.2,150.3 235.5,147.9 237.8,145.4M240.3,159.6 244.6,158.4 248.6,156.3M204.3,210.6 209.7,208.9M213.5,218.1 214.2,213.5M214.2,213.5 211.6,211.5 209.7,208.9M234.9,208.8 231.2,209.6 229.2,213.1 225.8,214.3M234.9,208.8 234.4,212.5 236.2,215.2 237.9,218.0 239.9,220.6M236.3,223.5 239.9,220.6M236.3,223.5 232.5,222.9 228.6,222.6 224.8,221.8M224.8,221.8 224.8,218.0 225.8,214.3M241.6,220.9 244.3,218.3 247.5,216.7 250.7,215.1M250.7,215.1 248.2,211.7 246.0,208.0M246.0,208.0 242.3,208.8 238.6,208.2 235.0,208.5M235.0,208.5 234.9,208.8M241.6,220.9 239.9,220.6M222.6,223.9 224.8,221.8M214.2,213.5 217.8,212.7 220.5,210.3M220.5,210.3 224.3,210.8 225.8,214.3M241.7,173.7 244.8,173.4M241.7,173.7 238.2,169.0M249.7,168.5 248.0,171.7 244.8,173.4M224.9,173.1 227.5,175.2 230.0,177.5 232.4,179.8 235.9,180.5M241.7,173.7 240.4,177.5 237.5,180.3M235.9,180.5 237.5,180.3M119.2,413.7 123.8,416.9M114.2,444.7 115.7,441.8 116.4,438.6 117.5,435.5 119.7,433.0 120.6,429.8 122.5,427.1 124.5,424.5 125.2,421.3M123.8,416.9 125.2,421.3M208.7,275.0 211.1,277.3 213.4,279.6 214.7,282.7 217.1,284.9 219.7,286.9 222.7,288.6 224.6,291.2 225.6,294.7 227.6,297.2 229.9,299.4M188.4,304.8 190.7,306.9 193.1,309.0 194.4,311.8 195.2,315.1 197.4,317.3 198.8,320.1 202.4,321.2 203.1,324.5M229.9,299.4 228.5,302.4 226.4,305.0 225.7,308.5 224.4,311.6 221.9,313.9 220.3,316.8 218.7,319.8 217.0,322.6M217.0,322.6 213.5,323.3 210.2,324.6 206.7,325.1 203.1,324.5M166.8,337.9 170.2,338.6 173.2,335.9 176.6,336.1 179.8,335.1 183.2,335.6 186.6,336.0 189.8,334.9 193.0,334.1 196.4,334.1M196.4,334.1 197.7,330.3 200.2,327.2 203.1,324.5M525.1,316.8 525.9,313.4 526.0,309.9 524.7,306.3 526.4,303.0M525.1,316.8 528.3,316.5 531.5,316.6M699.0,312.4 704.0,311.5M699.0,312.4 696.3,314.7 694.8,317.7 692.9,320.4 693.3,324.4 691.5,327.2M691.5,327.2 691.5,327.2M691.6,294.1 689.0,297.1M677.3,279.5 677.8,279.2M677.3,279.5 676.9,283.1 676.4,286.6 676.7,290.3 673.6,293.3 674.1,297.0M689.0,297.1 685.3,296.6 681.5,296.7 677.8,297.7 674.1,297.0M699.0,312.4 696.3,310.3 694.0,307.5 690.7,306.2M689.0,297.1 689.6,300.1 692.0,302.8 690.7,306.2M639.9,299.2 637.8,297.0 635.3,295.2M639.9,299.2 637.9,302.4 637.2,305.7 639.0,309.4 638.1,312.7M634.7,315.1 638.1,312.7M634.7,315.1 631.3,313.4 627.4,313.2 624.9,309.7 621.0,309.2M621.0,309.2 619.4,303.8M639.9,299.2 644.0,299.1 647.5,297.1M647.5,297.1 648.3,293.2 649.6,289.5 650.6,285.7M677.3,279.5 673.6,279.9 670.5,276.7 666.9,276.5 663.2,277.1M685.0,333.2 681.5,332.9 678.4,334.0 675.2,334.9 672.1,336.1M672.1,336.1 671.6,337.0M681.4,350.0 678.3,348.5 674.8,348.1M674.8,348.1 674.0,344.3 673.3,340.5 671.6,337.0M666.8,398.0 663.8,395.9 661.8,392.6 658.8,390.5 655.9,388.2M655.9,388.2 657.1,385.2 657.4,382.0 658.6,379.0M671.0,375.6 668.1,377.1 664.5,376.4 661.9,379.0 658.6,379.0M665.5,356.7 669.9,356.8 669.0,351.2 673.5,351.3 674.8,348.1M665.5,356.7 665.3,359.6M672.1,366.9 670.5,363.8 667.8,361.7 665.3,359.6M286.6,177.9 286.7,178.1M220.2,259.0 223.9,257.4 227.9,258.9 231.6,257.8M220.2,259.0 221.2,255.9 221.4,252.6 222.3,249.4 222.9,246.2 223.0,242.8 223.3,239.6 223.4,236.3 224.9,233.2M231.6,257.8 231.4,254.2 231.7,250.8 233.7,247.7 233.7,244.3 233.8,240.8 236.2,237.8 236.7,234.4M224.9,233.2 228.2,231.0 231.8,234.5 235.1,232.6M235.1,232.6 236.7,234.4M217.9,260.0 220.2,259.0M229.9,299.4 231.5,299.3M233.4,258.0 235.0,260.9 238.0,262.3 240.5,264.1 242.4,266.7 244.6,269.1 245.9,272.2 249.6,272.8M247.2,282.5 249.2,279.6 245.5,275.2 249.6,272.8M235.7,296.4 231.5,299.3M247.2,282.5 245.2,284.7 242.6,286.5 241.9,289.8 238.5,290.9 236.9,293.5 235.7,296.4M233.4,258.0 231.6,257.8M221.7,227.9 223.7,230.4 224.9,233.2M236.3,223.5 236.6,226.6 234.7,229.4 235.1,232.6M246.8,248.9 243.8,250.3 240.8,251.7 238.0,253.3 236.1,256.3 233.4,258.0M246.8,248.9 249.9,250.0 253.5,250.0 256.0,252.9 259.5,253.2 262.8,254.1 265.7,255.8M249.6,272.8 253.2,272.9 256.2,270.8 259.4,269.9M259.4,269.9 260.3,266.5 261.1,262.9 264.0,260.5 266.1,257.7M265.7,255.8 266.1,257.7M236.7,234.4 240.2,235.9 243.9,234.8M241.6,220.9 243.4,223.8 245.9,226.2 247.6,229.1M247.6,229.1 246.2,232.2 243.9,234.8M246.8,248.9 248.4,244.1M248.4,244.1 246.5,241.2 244.6,238.3 243.9,234.8M285.6,186.6 286.0,186.2M291.6,201.4 288.9,201.5M285.6,186.6 284.0,189.4 284.8,192.6 284.1,195.6M284.1,195.6 286.4,198.6 288.9,201.5M303.0,227.9 307.3,228.6 311.1,226.4M293.8,216.7 294.8,220.6 298.2,222.4 300.9,224.9 303.0,227.9M297.4,211.6 294.2,213.1 293.8,216.7M311.1,226.4 312.5,223.3M333.6,254.0 331.5,251.1 329.7,248.0 328.0,244.8 324.9,242.7 323.1,239.6M330.7,260.0 325.6,261.4M325.6,261.4 321.9,260.6 320.0,257.0 317.2,254.9 313.6,253.9M323.1,239.6 318.8,239.3M318.8,239.3 317.1,242.3 315.6,245.4 312.5,247.3M313.6,253.9 312.1,250.8 312.5,247.3M311.1,226.4 313.6,228.4 313.8,231.8 316.7,233.5 316.9,236.9 318.8,239.3M329.8,235.0 325.6,236.1 323.1,239.6M235.0,208.5 234.5,206.4M234.5,206.4 231.4,204.2 227.4,203.7 224.8,200.8M220.5,210.3 220.2,204.8M224.8,200.8 223.7,204.1 220.2,204.8M209.7,208.9 208.5,204.7 211.9,201.8M220.2,204.8 216.1,203.2 211.9,201.8M262.0,174.0 260.0,176.5 257.3,178.6 256.7,182.0M262.0,174.0 264.3,176.3 268.6,176.1 269.9,179.7 272.2,182.0M256.7,182.0 258.3,185.0 261.1,187.3 263.5,189.8 265.3,192.7M272.2,182.0 273.0,186.5M273.0,186.5 271.4,189.3 269.7,192.0M265.3,192.7 269.7,192.0M262.0,173.9 262.0,174.0M244.8,173.4 247.0,175.7 248.7,178.5 251.2,180.5 253.3,182.9M253.3,182.9 256.7,182.0M277.3,176.4 274.5,179.0 272.2,182.0M285.6,186.6 282.4,187.6 279.3,187.3 276.1,185.6 273.0,186.5M284.1,195.6 280.9,196.2 278.1,198.6 274.5,197.5M274.5,197.5 272.1,194.7 269.7,192.0M255.5,199.7 251.7,199.2 248.8,201.8M255.5,199.7 253.6,196.8 251.8,193.9 251.4,190.2 248.9,187.6M248.8,201.8 246.1,199.0 242.3,198.1 239.2,195.9M248.9,187.6 244.4,188.5M244.4,188.5 241.8,192.1 239.2,195.7M239.2,195.9 239.2,195.7M246.0,208.0 247.4,204.9 248.8,201.8M251.9,215.2 254.7,212.4 258.4,210.7 261.0,207.6M258.5,200.6 259.6,204.2 261.0,207.6M258.5,200.6 255.5,199.7M250.7,215.1 251.9,215.2M258.5,200.6 262.2,199.2 263.7,195.8 265.3,192.7M253.3,182.9 251.3,185.4 248.9,187.6M234.5,206.4 236.1,202.9 237.1,199.2 239.2,195.9M237.5,180.3 238.9,183.7 242.5,185.4 244.4,188.5M235.9,180.5 234.1,183.0 231.3,184.7 230.5,188.0 228.1,190.1M228.1,190.1 231.1,191.1 233.5,193.2 237.0,193.3 239.2,195.7M224.8,200.8 226.3,197.3 225.4,193.9 224.1,190.6M228.1,190.1 224.1,190.6M282.5,263.2 283.3,259.7 287.1,258.3 287.8,254.7 290.4,252.4 291.9,249.4M304.6,266.2 302.4,264.1 301.2,261.2 299.5,258.7 297.4,256.6 295.7,254.1 294.1,251.5 291.9,249.4M283.1,265.3 286.5,265.9 288.6,269.1 292.2,269.2 294.9,271.3 297.9,272.5M283.1,265.3 282.5,263.2M304.6,266.2 304.6,266.8M304.6,266.8 302.4,271.0 297.9,272.5M259.4,269.9 261.7,272.9 264.4,275.4 267.8,277.1 270.4,279.7M283.1,265.3 281.3,268.2 281.6,271.9 280.9,275.3 278.2,277.8M266.1,257.7 269.3,259.0 272.8,259.4 275.5,262.1 279.5,261.3 282.5,263.2M270.4,279.7 274.4,279.3 278.2,277.8M121.6,454.5 124.2,452.2 126.9,449.8 130.8,449.7 133.8,447.9 136.9,446.2 139.8,444.4M125.2,421.3 127.6,423.4 130.4,425.0 133.2,426.7 135.9,428.5 137.8,431.2M139.8,444.4 139.4,441.1 138.4,437.9 138.6,434.5 137.8,431.2M123.8,416.9 126.8,415.7 129.7,414.4 132.1,412.2 134.5,409.9 138.0,409.8 140.1,407.0 143.6,406.7 147.2,406.7 148.9,403.2M148.9,403.2 150.6,406.2 150.5,409.5 150.4,412.9 151.4,415.9 152.3,419.0 153.0,422.2 154.1,425.3M137.8,431.2 141.4,430.9 144.7,429.7 147.7,427.8 150.7,426.0 154.1,425.3M642.1,421.0 638.8,420.6 637.1,416.9 633.6,417.0M648.2,408.4 648.1,407.7M633.6,417.0 634.2,413.8 637.2,411.2 638.7,408.2 637.4,404.3 638.2,401.1M648.1,407.7 645.0,405.9 643.3,402.4 639.9,401.0M638.2,401.1 639.9,401.0M665.5,400.8 663.0,402.8 659.9,403.5 656.8,404.2 653.9,405.4 650.7,405.7 648.1,407.7M650.5,389.0 648.1,391.1 646.0,393.6 643.6,395.8 641.7,398.4 639.9,401.0M655.9,388.2 650.5,389.0M633.6,417.0 630.9,419.0 627.9,420.2 624.7,420.8M634.9,434.6 632.4,434.4M632.4,434.4 631.5,431.3 629.1,429.1 627.7,426.3 626.0,423.6 624.7,420.8M691.5,327.2 688.3,325.4 685.2,323.3 682.9,320.3 680.2,317.8M672.1,336.1 672.4,333.0 671.6,330.1 671.1,327.1M680.2,317.8 677.9,320.2 676.1,322.9 674.5,325.9 671.1,327.1M690.7,306.2 687.9,308.6 685.0,310.9 681.9,312.9 679.8,316.1M680.2,317.8 679.8,316.1M665.5,356.7 664.0,353.6 661.1,352.0 657.9,350.7 656.3,347.7 653.7,345.8M671.6,337.0 668.2,336.9 664.9,337.8 661.5,338.5 658.2,338.5 654.7,338.2M653.7,345.8 654.5,342.1 654.7,338.2M653.7,345.8 650.8,347.5 648.3,349.6 645.8,351.7M645.8,351.7 645.2,354.1M665.3,359.6 662.5,361.8 659.7,363.9 657.0,366.3 653.5,367.3M645.2,354.1 646.5,357.0 650.3,358.2 649.4,362.5 651.2,365.1 653.5,367.3M658.6,379.0 655.3,376.2 655.3,371.7 653.1,368.5M653.1,368.5 653.5,367.3M312.5,247.3 308.9,247.7 305.3,247.6 301.9,245.5 298.3,245.4 294.7,245.9M303.0,227.9 300.5,231.0 297.2,233.4M294.7,245.9 296.1,243.0 296.4,239.7 295.6,236.3 297.2,233.4M304.6,266.2 306.5,263.8 308.4,261.4 311.1,259.6 311.1,255.8 313.6,253.9M291.9,249.4 292.0,248.3M294.7,245.9 292.0,248.3M293.8,216.7 290.5,216.9 287.3,217.3M287.3,217.3 286.1,220.7 286.7,224.4 286.3,227.9M297.2,233.4 295.3,230.4 291.5,231.1 289.3,228.7 286.3,227.9M256.5,223.1 260.1,223.9 263.7,223.2M256.5,223.1 254.6,226.1 252.6,229.0M252.6,229.0 254.2,232.0 257.1,234.1 258.3,237.5M265.6,230.2 266.6,226.2 263.7,223.2M265.6,230.2 262.7,232.0 260.9,234.9 258.8,237.5M258.8,237.5 258.3,237.5M251.9,215.2 253.4,217.9 254.9,220.5 256.5,223.1M263.3,208.9 262.3,212.2 264.4,215.2 263.8,218.5 265.1,221.5M263.3,208.9 261.0,207.6M265.1,221.5 263.7,223.2M247.6,229.1 252.6,229.0M248.4,244.1 251.8,242.1 256.4,241.7 258.3,237.5M268.4,247.7 266.0,251.4 265.7,255.8M268.4,247.7 265.7,245.4 262.3,243.8 259.5,241.7 258.8,237.5M284.4,215.2 283.4,211.2 284.2,207.2M284.4,215.2 280.4,215.4 276.7,217.0M284.2,207.2 281.1,205.9 277.6,205.3 274.7,203.5M276.7,217.0 273.3,215.1 273.5,210.5 270.2,208.5M270.2,208.5 270.7,204.4 274.7,203.5M287.3,217.3 284.4,215.2M288.9,201.5 286.6,204.4 284.2,207.2M274.5,197.5 274.7,203.5M265.1,221.5 268.3,221.4 271.4,220.4 274.6,220.3M274.6,220.3 276.7,217.0M263.3,208.9 266.8,209.2 270.2,208.5M221.0,186.2 216.5,185.7 212.2,184.7M221.0,186.2 223.6,190.3M223.6,190.3 220.9,191.8 217.9,192.9 215.2,194.5 213.1,197.2 210.3,198.6M210.3,198.6 206.7,198.7 204.8,195.5M204.0,193.5 204.8,195.5M207.7,176.4 208.2,182.1M223.3,174.1 224.0,177.3 221.4,180.0 220.8,183.0 221.0,186.2M224.1,190.6 223.6,190.3M211.9,201.8 210.3,198.6M198.4,205.8 200.8,203.7 202.5,201.2 203.7,198.4 204.8,195.5M231.4,723.8 228.2,722.9 225.1,721.7 221.7,722.4M231.4,723.8 232.6,726.6 234.7,728.9 235.9,731.8M247.2,282.5 249.9,283.9 251.8,286.6 254.7,287.6 257.4,289.1 260.4,289.9 262.9,291.6M270.4,279.7 268.8,283.2 269.0,287.2 267.6,290.7M262.9,291.6 267.6,290.7M235.7,296.4 238.8,296.2 241.8,297.3 244.7,298.3 247.7,298.9 250.9,298.7 253.8,299.4 257.0,299.1M262.9,291.6 260.6,293.8 258.0,295.9 257.0,299.1M297.9,272.5 296.4,275.9 296.6,279.7 296.0,283.3M278.2,277.8 281.0,279.6 284.1,281.0 285.9,283.9 288.5,286.0M288.5,286.0 292.2,284.6 296.0,283.3M255.2,421.7 252.7,424.0 249.8,425.9 247.7,428.8M255.2,421.7 258.7,422.7 261.9,424.5 265.0,426.4 268.6,426.9M268.6,426.9 268.4,430.6 266.1,434.1 268.5,438.2 266.3,441.7M266.3,441.7 263.0,441.7 259.8,440.9 256.6,440.5 253.2,441.3 250.2,439.5M250.2,439.5 250.1,435.7 249.3,432.2 247.7,428.8M201.4,366.9 204.4,365.8 207.7,367.3 210.7,366.8 213.8,366.3 216.9,366.5 219.6,364.0 222.5,362.7 225.9,364.2 228.8,362.8M201.4,366.9 200.8,363.9 202.3,360.6 199.5,358.0 199.1,355.0 199.8,351.9 197.9,349.1 199.6,345.8 197.4,343.1 198.2,340.0 195.6,337.3 196.4,334.1M231.9,338.1 230.1,335.4 227.3,334.0 224.9,331.9 224.5,328.1 221.0,327.2 220.1,323.8 217.0,322.6M231.9,338.1 231.6,341.9 231.0,345.7 232.2,349.5M232.2,349.5 230.9,352.6 230.7,356.0 229.3,359.1 228.9,362.5M228.8,362.8 228.9,362.5M256.7,349.6 257.0,349.8M232.2,349.5 235.3,348.7 238.4,349.2 241.4,349.3 244.5,349.3 247.5,349.8 250.6,348.1 253.7,348.7 256.7,349.6M257.0,349.8 255.4,353.3 256.2,357.1 255.4,360.6M228.9,362.5 232.2,362.1 235.5,361.2 238.8,361.7 242.2,361.3 245.4,360.6 248.8,360.6 252.2,362.7 255.4,360.6M272.3,359.7 268.5,359.4 265.9,362.4 262.2,362.2 259.3,364.3M272.3,359.7 269.7,356.6 266.4,354.0 265.6,349.8M265.6,349.8 261.3,348.1 257.0,349.8M255.4,360.6 259.3,364.3M236.6,377.9 239.9,377.6 243.0,375.9 246.4,376.7 249.6,376.5 252.9,376.5 256.1,376.0M236.6,377.9 236.0,374.4 234.0,371.6 231.1,369.2 230.6,365.7 228.8,362.8M259.3,364.3 258.3,367.4 257.4,370.6 258.0,373.9M258.0,373.9 256.1,376.0M621.0,309.2 619.1,313.2 615.7,316.2M630.7,325.9 631.0,321.9 633.2,318.6 634.7,315.1M630.7,325.9 626.9,325.1 623.3,326.2 619.7,327.2M619.7,327.2 618.4,323.5 616.5,320.0 615.7,316.2M605.9,307.7 606.0,313.7M615.7,316.2 610.2,315.6M563.6,344.0 563.7,340.4 561.4,337.5M578.9,336.3 578.9,337.4M563.6,344.0 568.0,343.3 572.0,345.0M572.0,345.0 573.6,341.8 576.9,340.2 578.9,337.4M563.6,344.0 561.6,347.6 558.0,349.7M543.9,335.9 545.0,338.7 545.5,341.8 549.4,343.4 548.5,347.1M558.0,349.7 554.8,348.9 551.7,347.9 548.5,347.1M629.0,452.3 629.8,448.9 628.1,446.0 627.5,442.9 626.5,439.9M629.0,452.3 623.7,453.4M626.5,439.9 623.3,439.0 620.0,439.3M635.6,456.1 632.1,454.6 629.0,452.3M632.4,434.4 629.8,437.5 626.5,439.9M624.7,420.8 620.6,419.6M617.0,422.4 620.6,419.6M614.9,397.2 618.3,398.0 621.5,396.7 624.8,396.7 628.0,395.8M612.9,398.9 611.9,403.0 610.7,407.0M620.0,416.6 618.4,413.6 616.4,410.8 613.1,409.3 610.7,407.0M620.0,416.6 621.3,413.8 623.3,411.2 623.0,407.7 625.7,405.4 624.7,401.6 628.0,399.5 628.4,396.3M628.4,396.3 628.0,395.8M607.1,424.1 604.9,421.4 601.1,420.6 598.9,417.8M598.9,417.8 600.6,414.1 601.0,410.0M601.0,410.0 604.0,408.0 607.5,408.2 610.7,407.0M620.6,419.6 620.0,416.6M638.2,401.1 635.4,398.5 631.6,398.0 628.4,396.3M654.7,338.2 651.6,333.2M671.1,327.1 668.4,324.8 665.3,323.0 662.1,321.4M662.1,321.4 659.3,323.2 656.7,325.1 655.1,327.9 655.2,332.2 651.6,333.2M630.7,325.9 632.5,328.6 633.7,331.6 636.0,333.9M636.0,333.9 639.7,333.1 643.5,333.5 647.2,334.0 650.9,332.8M638.1,312.7 641.4,315.8 645.9,316.2M645.9,316.2 645.9,319.8 647.8,322.9 649.0,326.2 650.3,329.4 650.9,332.8M645.8,351.7 643.6,349.4 640.6,348.1 637.0,347.6 634.3,346.0 633.0,342.5M636.0,333.9 634.7,336.6 635.3,340.1 633.0,342.5M651.6,333.2 650.9,332.8M656.2,300.3 658.8,297.8 662.3,297.0 665.1,295.0M656.2,300.3 655.6,303.5 656.8,306.4 658.7,309.2 658.1,312.3M658.1,312.3 661.2,314.6M661.2,314.6 664.8,315.2 666.9,311.6 670.1,311.0 673.1,310.0M673.1,310.0 673.3,306.8 672.1,303.5 672.7,300.4 673.7,297.2M673.7,297.2 669.5,295.9 665.1,295.0M647.5,297.1 650.4,298.3 653.0,300.2 656.2,300.3M660.3,280.0 661.3,283.0 663.6,285.6 663.6,288.9 664.6,291.9 665.1,295.0M645.9,316.2 648.8,314.7 652.4,315.6 655.2,313.7 658.1,312.3M662.1,321.4 659.2,318.3 661.2,314.6M679.8,316.1 677.1,314.7 675.2,312.2 673.1,310.0M674.1,297.0 673.7,297.2M643.9,371.8 641.9,368.7 639.1,366.6 637.0,363.7 633.5,362.3M643.9,371.8 642.0,375.7 640.5,379.8M640.5,379.8 637.3,380.1 634.4,381.4M634.4,381.4 632.7,377.9 629.3,375.9 627.4,372.5M627.4,372.5 629.1,369.1 631.0,365.8 632.6,362.3M632.6,362.3 633.5,362.3M645.2,354.1 642.0,355.8 638.3,356.8 635.7,359.3 633.5,362.3M653.1,368.5 649.8,368.8 647.2,371.3 643.9,371.8M650.5,389.0 647.9,386.8 644.5,385.5 642.5,382.5 640.5,379.8M628.0,392.4 628.0,395.8M628.0,392.4 628.8,389.2 629.8,386.1 631.2,383.2 634.4,381.4M628.0,392.4 627.0,389.3 624.2,387.8 622.4,385.4 620.0,383.4M621.0,373.7 619.8,376.3M621.0,373.7 624.3,373.7 627.4,372.5M628.7,358.5 629.7,355.0 629.6,351.4 631.5,348.0 630.2,344.3M630.2,344.3 633.0,342.5M628.7,358.5 632.6,362.3M325.6,261.4 323.3,264.2 321.5,267.4 319.6,270.6 317.2,273.3M304.6,266.8 307.5,268.6 311.3,268.7 313.1,272.5 316.3,273.6M317.2,273.3 316.3,273.6M271.3,245.7 275.0,246.5 278.6,246.6 282.3,244.2 286.0,245.4M271.3,245.7 271.4,242.4 272.5,239.3 273.1,236.0 273.4,232.8M286.0,245.4 286.3,242.0 285.9,238.9 283.1,236.6 282.3,233.7 280.6,231.0M273.4,232.8 277.2,230.4M280.6,231.0 277.2,230.4M268.4,247.7 271.3,245.7M292.0,248.3 289.2,246.4 286.0,245.4M265.6,230.2 270.0,230.0 273.4,232.8M286.3,227.9 283.8,230.0 280.6,231.0M274.6,220.3 275.6,223.7 276.7,226.9 277.2,230.4M272.8,741.1 275.5,738.3 276.7,734.5M254.1,727.8 254.3,727.4M276.7,734.5 276.3,731.5 273.7,729.0 274.8,725.7M274.8,725.7 271.3,724.0 268.6,721.2M231.4,723.8 233.9,721.2 235.6,717.9 237.9,715.1 239.9,712.1M250.7,717.2 246.8,716.1 243.6,713.6 239.9,712.1M216.4,712.5 220.2,711.2 219.6,707.1 221.7,704.7 223.3,702.0M223.3,702.0 226.7,701.9 229.7,703.0 232.2,705.9 235.6,705.8 238.7,706.8M239.9,712.1 238.7,706.8M292.3,769.1 295.5,767.5 295.9,763.2 299.4,761.8M280.7,753.2 283.8,752.4M276.7,734.5 280.4,735.6 284.3,735.7M294.8,737.4 295.7,737.6M296.4,742.7 296.6,740.8M274.8,725.7 277.2,723.0 280.8,722.3 283.6,720.3M290.7,715.9 290.9,715.7M290.9,715.7 291.1,716.2M292.9,720.4 296.2,723.0 295.9,727.1 296.1,731.1 298.6,734.0M290.9,715.7 291.6,713.3M316.6,723.8 316.5,723.7M311.7,716.7 311.2,716.1M291.6,713.3 293.3,712.9M176.9,615.3 179.3,612.9 182.1,611.0 185.3,609.8 187.9,607.7 191.0,606.4 193.2,603.7 196.2,602.1M168.3,591.8 171.4,591.9 174.3,590.8 177.3,590.3 180.3,590.3 183.2,588.9 186.2,588.8M186.2,588.8 188.7,592.1 192.6,593.3 195.8,595.5M196.2,602.1 197.0,598.7 195.8,595.5M167.2,587.7 167.1,584.4 170.5,582.1 170.5,578.8 170.8,575.6 170.6,572.2 172.9,569.6 174.1,566.6M159.4,561.8 162.4,562.6 166.0,561.4 168.3,564.3 171.3,565.2 174.1,566.6M187.7,569.9 187.5,573.1 185.5,576.1 187.0,579.4 186.3,582.5 187.0,585.7 186.2,588.8M187.7,569.9 184.3,568.8 181.0,567.6 178.5,565.1M174.1,566.6 178.5,565.1M108.4,480.3 110.7,483.0 113.2,485.7 117.9,485.6 119.5,489.2M121.5,460.1 123.3,462.6 125.6,464.6 127.8,466.6M123.8,486.7 124.6,483.4 124.2,479.8 125.7,476.6 126.9,473.4 127.9,470.1 127.8,466.6M187.7,569.9 191.3,570.6 194.1,567.2 197.8,567.9M203.9,588.7 201.2,591.0 199.2,594.1 195.8,595.5M203.9,588.7 203.9,585.4 202.6,582.1 205.6,579.0 203.9,575.7 204.7,572.4M202.7,570.4 197.8,567.9M250.2,439.5 248.7,442.1 246.6,444.3 244.7,446.7 244.1,449.9M271.2,448.3 269.1,450.7 265.9,452.4 265.4,455.9 263.6,458.5 262.3,461.5M271.2,448.3 268.4,445.2 266.3,441.7M262.3,461.5 258.7,461.4 257.0,458.2 254.2,457.0 251.8,455.1 249.4,453.0 247.2,450.7 244.1,449.9M212.0,413.4 210.3,416.3 211.6,419.6 209.4,422.4 208.6,425.4 209.5,428.7M212.0,413.4 215.1,414.5 218.4,414.2 221.8,414.1 224.7,415.7 227.9,416.4 231.0,417.1M231.0,417.1 231.8,420.9 232.6,424.7M212.4,432.1 209.5,428.7M212.4,432.1 215.6,431.7 218.7,430.5 221.5,428.6 225.3,430.0 228.1,427.9 231.1,426.7M231.1,426.7 232.6,424.7M247.7,428.8 245.3,425.8 241.8,426.7 238.0,428.7 235.6,425.9 232.6,424.7M235.3,406.2 238.5,407.5 241.9,407.6 245.2,408.7 248.7,408.5 251.9,409.5 255.2,410.6M235.3,406.2 233.7,409.8 232.1,413.4 231.0,417.1M255.2,410.6 254.8,414.3 253.9,418.0 255.2,421.7M232.2,394.6 232.8,397.6 233.3,400.5 235.5,403.1 235.3,406.2M232.2,394.6 228.9,395.1 225.6,395.4 222.2,394.4 219.0,396.7 215.6,396.0 212.3,396.5M212.0,413.4 208.8,408.5M212.3,396.5 210.1,399.1 209.8,402.3 210.9,405.8 208.8,408.5M281.7,472.2 284.5,470.8 287.4,469.7M281.7,472.2 279.6,474.8 278.6,477.9 279.2,481.5 276.2,483.8 277.4,487.7 274.7,490.1M287.4,469.7 290.0,471.9 290.7,475.7 293.1,478.0 295.5,480.3 298.2,482.4M274.7,490.1 277.6,491.4 280.4,492.7 282.7,494.9M282.7,494.9 285.5,493.2 289.0,493.0 291.3,490.3 294.3,489.2 297.3,488.0M298.2,482.4 297.3,488.0M289.6,463.6 288.4,466.6 287.4,469.7M311.9,462.1 308.7,462.5 305.4,461.2 302.3,462.8 299.1,461.3 296.0,463.0 292.8,463.5 289.6,463.6M311.9,462.1 310.3,464.9 311.5,468.2 311.4,471.3 309.7,474.1 309.5,477.2M309.5,477.2 306.2,477.3 303.8,479.6 301.0,481.0 298.2,482.4M297.3,488.0 299.4,490.3 301.8,492.4 302.3,495.9 304.7,498.0 306.5,500.5M285.0,508.2 288.3,508.0 291.5,508.4 294.7,506.8 298.0,507.1 301.3,507.9M285.0,508.2 283.1,505.1 284.8,501.4 283.1,498.3 282.7,494.9M301.3,507.9 302.5,505.0 305.0,503.1 306.5,500.5M335.6,505.4 336.0,501.9 336.8,498.5 338.0,495.2M338.0,495.2 337.5,491.5 335.0,488.6M335.0,488.6 331.9,485.2 327.3,484.2M322.5,485.7 327.3,484.2M322.5,485.7 321.6,489.1 318.9,491.3 316.2,493.5 316.1,497.3 313.9,499.9M335.6,505.4 332.0,505.7 328.3,505.2 324.9,506.5 321.4,507.5M321.4,507.5 317.8,506.1 315.9,502.9 313.9,499.9M322.5,485.7 319.9,484.1 317.1,482.6 314.9,480.3 312.3,478.5 309.5,477.2M313.9,499.9 310.2,499.4 306.5,500.5M256.7,349.6 256.6,345.8 255.5,342.0 255.6,338.2M265.6,349.8 266.6,346.6 267.6,343.5 270.7,341.4 271.1,337.9M271.1,337.9 269.4,335.0 266.0,334.2M266.0,334.2 262.1,334.2 258.7,335.9 255.6,338.2M231.9,338.1 234.9,337.1 237.4,334.8 240.7,334.4 243.5,332.9M243.5,332.9 246.3,334.7 249.2,336.3 252.8,336.2 255.6,338.2M277.4,422.5 275.2,425.5 271.6,425.6 268.6,426.9M271.2,448.3 275.0,449.6 278.8,448.1M277.4,422.5 280.3,424.2 281.9,427.4 285.2,428.6M285.2,428.6 284.3,432.0 283.1,435.1 282.8,438.7 281.5,441.8 280.6,445.1 278.8,448.1M262.3,461.5 262.5,466.1M262.5,466.1 265.7,467.0 269.0,467.8 272.8,467.0 275.5,469.5 278.3,471.8 281.7,472.2M289.6,463.6 288.5,460.2 289.3,456.3 287.1,453.2M287.1,453.2 284.4,451.5 280.9,451.0 278.8,448.1M271.7,374.4 268.3,373.7 264.8,374.3 261.4,373.8 258.0,373.9M271.7,374.4 273.1,377.1 273.7,380.4 276.5,382.3M276.5,382.3 276.3,383.1M256.1,376.0 256.6,379.6 257.3,383.2 261.0,385.2 262.4,388.4M276.3,383.1 272.8,383.9 270.2,386.9 266.9,388.4 263.2,388.6M262.4,388.4 263.2,388.6M236.1,388.0 237.0,384.6 237.5,381.3 236.6,377.9M236.1,388.0 239.5,389.1 242.9,390.2 246.2,391.5 249.6,392.5 252.9,394.0M262.4,388.4 259.5,390.8 256.8,393.3 252.9,394.0M232.2,394.6 234.6,391.5 236.1,388.0M255.2,410.6 256.6,409.0M252.9,394.0 253.3,397.1 254.3,400.0 254.3,403.2 254.7,406.3 256.6,409.0M278.6,398.2 275.3,399.6 272.2,401.5 268.7,402.4M278.6,398.2 281.2,400.1 283.6,402.2 285.9,404.5 287.5,407.4M277.6,418.6 280.3,416.0 282.4,412.8 285.0,410.1 287.5,407.4M277.6,418.6 276.3,415.3 273.6,413.2 270.7,411.4 269.2,408.3 266.7,406.0M266.7,406.0 268.7,402.4M280.2,391.3 279.4,388.3 278.5,385.4 276.3,383.1M280.2,391.3 279.6,394.8 278.6,398.2M263.2,388.6 265.8,391.6 267.0,395.1 268.5,398.5 268.7,402.4M290.1,391.3 286.8,392.1 283.5,391.9 280.2,391.3M297.0,403.8 295.0,406.6M295.0,406.6 291.4,408.1 287.5,407.4M290.1,391.3 292.3,394.2 293.1,397.8 297.1,399.6 297.0,403.8M256.6,409.0 260.3,408.9 263.4,407.3 266.7,406.0M277.4,422.5 277.6,418.6M619.7,327.2 618.3,328.7M630.2,344.3 626.9,343.3 623.5,343.8 620.4,341.7 616.9,342.3M616.9,342.3 617.2,338.9 617.2,335.5 617.5,332.0 618.3,328.7M618.3,328.7 615.3,326.6 612.0,328.2M568.2,365.2 570.6,363.2 572.9,361.1 573.2,357.7 573.8,354.5 576.4,352.6M572.0,345.0 575.7,347.9 576.4,352.6M558.0,349.7 558.9,352.7 558.1,355.7M568.2,365.2 565.2,365.8M565.2,365.8 562.1,364.2 558.8,363.1M302.8,288.0 299.8,285.0 296.0,283.3M302.8,288.0 304.1,288.0M316.3,273.6 315.3,277.9 313.8,282.0M304.1,288.0 307.6,286.3 309.5,282.2 313.8,282.0M280.2,322.9 279.2,325.9 280.3,329.6 277.9,332.1 276.2,334.9 275.4,337.9M275.7,338.1 275.4,337.9M290.0,323.8 286.8,323.0 283.5,322.6 280.2,322.9M290.0,323.8 289.9,327.5 292.3,330.2 293.7,333.3M275.7,338.1 278.8,336.3 282.2,337.3 285.6,337.7 289.0,338.1 292.0,335.8M293.7,333.3 292.0,335.8M308.1,633.2 311.4,633.9 314.2,636.0 318.0,635.0 320.4,638.4 323.8,638.7M308.1,633.2 310.4,630.4 310.9,626.9 311.5,623.5 312.5,620.2M312.5,620.2 315.6,620.2 318.7,619.9 321.9,619.4 325.0,620.0 328.2,620.0M203.0,692.3 206.4,691.8 208.8,689.4M223.3,702.0 222.4,699.1 222.6,695.9 220.9,693.1M220.9,693.1 217.9,692.2 215.0,690.5 211.9,690.1 208.8,689.4M238.7,706.8 239.5,703.7 242.2,701.8 243.1,698.8 245.4,696.6 248.5,695.0 248.6,691.4M245.5,687.9 248.6,691.4M245.5,687.9 241.9,687.6 238.4,687.5 234.9,686.6 231.3,687.1 227.8,686.4M220.9,693.1 223.7,691.4 225.5,688.6 227.8,686.4M263.8,713.7 264.6,710.3 265.7,706.9 266.3,703.4M248.6,691.4 254.2,692.2M254.2,692.2 256.5,694.5 258.9,696.8 262.4,697.9 263.9,701.1 266.3,703.4M291.6,713.3 291.7,709.6 288.0,708.4 286.3,705.9 283.5,704.1 282.5,701.1 281.3,698.2M266.3,703.4 269.2,702.0 272.3,701.4 275.2,700.0 278.3,699.4 281.3,698.2M308.1,633.2 305.8,635.0M326.1,651.7 322.7,651.9 319.6,653.1 316.3,653.5 313.4,655.9 309.8,654.8 306.6,655.8M306.6,655.8 305.8,654.9M305.8,635.0 306.0,638.3 304.9,641.6 307.3,644.9 307.0,648.3 306.1,651.6 305.8,654.9M453.3,507.2 452.0,502.3M453.3,507.2 451.0,509.6 450.5,512.7 450.6,516.1 446.6,517.7 448.5,521.9 446.0,524.2M452.0,502.3 448.4,502.2 445.2,504.2 441.9,505.4 438.3,505.7M438.3,505.7 437.2,508.5 435.4,511.1 435.7,514.5 433.9,517.1M443.3,526.0 440.4,524.3 437.3,522.8 436.7,518.8 433.9,517.1M418.8,529.4 421.2,532.2 422.6,535.8 425.6,538.2M419.7,518.5 423.2,517.9 426.8,518.3 430.3,517.7 433.9,517.1M419.7,518.5 419.0,522.1 420.2,525.8 418.8,529.4M419.7,518.5 417.8,515.0 415.1,512.1M415.1,512.1 415.2,508.8 417.0,506.1 417.6,503.0M438.3,505.7 435.4,503.7 433.4,500.4 429.8,499.3 427.0,497.1M427.0,497.1 423.3,498.1 421.0,501.4 417.6,503.0M254.2,692.2 257.8,690.8 258.4,686.9 261.4,685.0 263.3,682.2 263.7,678.2 266.7,676.2M266.7,676.2 269.2,678.5 272.6,679.5 275.0,682.2 278.2,683.4 280.8,685.7M281.3,698.2 282.9,694.9M280.8,685.7 281.1,688.8 281.7,692.0 282.9,694.9M327.2,668.3 323.9,669.3 320.3,669.8 317.1,671.3M306.6,655.8 307.3,661.6M317.1,671.3 313.9,669.7 312.1,666.6 309.9,663.8 307.3,661.6M284.0,654.6 287.1,655.2 290.2,654.6 293.3,654.1 296.4,655.3 299.5,653.4 302.6,655.1 305.8,654.9M288.2,673.0 291.3,673.4 294.3,674.6 297.5,674.0M281.0,660.5 283.4,663.3 283.8,667.2 286.2,670.0 288.2,673.0M281.0,660.5 282.7,657.7 284.0,654.6M307.3,661.6 305.1,663.9 302.3,665.7 301.6,669.2 298.4,670.6 297.5,674.0M139.8,444.4 142.7,446.5 145.8,448.3 149.0,449.8M127.8,466.6 130.8,467.5 133.5,469.1 136.8,468.4M147.2,465.9 150.4,463.6M150.4,463.6 150.2,460.1 149.2,456.7 148.8,453.3 149.0,449.8M154.1,425.3 157.8,427.3M157.8,427.3 157.9,430.4 158.5,433.5 159.8,436.4 159.4,439.6 160.0,442.7M149.0,449.8 150.9,446.7 154.1,445.6 157.6,444.9 160.0,442.7M257.5,473.3 258.6,476.5 258.8,479.9 261.3,482.8 261.9,486.1 261.4,489.6M262.5,466.1 260.6,470.1 257.5,473.3M274.7,490.1 271.2,490.7 267.9,492.4 264.3,491.6M264.3,491.6 261.4,489.6M288.5,286.0 287.8,289.3 286.1,292.1M302.8,288.0 301.9,291.1 301.3,294.4 299.7,297.4 299.3,300.7M299.3,300.7 296.0,299.4 293.0,301.3M286.1,292.1 287.9,295.5 291.6,297.5 293.0,301.3M267.6,290.7 268.8,292.1M268.8,292.1 272.3,291.7 275.3,293.5 278.8,293.4 282.0,294.7M286.1,292.1 282.0,294.7M299.3,300.7 300.7,303.5 303.5,305.0M297.7,315.7 299.2,313.0 301.0,310.6 301.9,307.6 303.5,305.0M294.1,316.4 292.9,313.5 290.4,311.6 288.6,309.1M294.1,316.4 297.7,315.7M293.0,301.3 290.9,305.3 288.6,309.1M268.8,292.1 269.6,295.7 270.4,299.4 269.7,303.1 269.7,306.8M282.0,294.7 282.1,298.1 281.3,301.4 280.2,304.6 279.2,307.9M269.7,306.8 272.8,307.4 276.0,307.7 279.2,307.9M280.2,322.9 278.8,321.5M288.6,309.1 285.5,308.7 282.5,308.0 279.4,308.1M294.1,316.4 290.6,319.3 290.0,323.8M278.8,321.5 280.1,318.2 279.2,314.8 281.2,311.5 279.4,308.1M279.4,308.1 279.2,307.9M201.4,366.9 199.4,369.8 196.6,371.9M212.3,396.5 210.5,393.9 207.7,392.0 206.7,388.5 203.7,386.8 202.0,384.0 201.1,380.5 197.9,379.0M196.6,371.9 197.9,375.3 197.9,379.0M160.6,350.2 160.4,353.7 163.2,356.2 161.5,360.2 165.0,362.5 165.8,365.6 166.2,368.9M196.6,371.9 193.5,372.6 190.6,371.2 187.4,371.9 184.5,370.8 181.4,370.9 178.4,369.9 175.3,369.9 172.4,368.3 169.3,368.9 166.2,368.9M126.4,378.1 129.3,379.4 132.7,379.1 135.7,380.5 139.1,379.9 142.0,381.2 145.4,381.2 148.2,383.1 151.0,384.9 154.3,385.1M166.2,368.9 164.0,371.4 162.4,374.4 160.8,377.4 158.5,379.9 155.9,382.1 154.3,385.1M148.9,403.2 151.1,400.8 152.7,398.0 153.2,394.5 155.4,392.1M154.3,385.1 154.7,388.6 155.4,392.1M190.6,418.5 189.3,415.0 191.9,412.3M190.6,418.5 187.4,419.4 184.5,420.8 181.6,422.2 179.2,424.6 176.1,425.5M191.9,412.3 190.2,408.9 186.5,406.7 185.4,402.8M185.4,402.8 182.1,404.0 178.9,403.4 175.7,402.7 172.4,402.9 169.2,402.4M169.2,402.4 172.0,405.6 168.1,409.1 169.3,412.4 169.3,415.7 169.5,419.0 170.3,422.3M176.1,425.5 173.3,423.8 170.3,422.3M196.3,427.6 199.6,428.1 203.0,427.6 206.2,428.9 209.5,428.7M196.3,427.6 196.7,423.1 191.5,422.2 190.6,418.5M208.8,408.5 205.4,409.1 201.9,409.3 198.6,410.3 195.4,411.7 191.9,412.3M196.3,427.6 195.4,430.8 194.2,433.8 192.1,436.5 190.4,439.4 189.5,442.5 188.9,445.9M188.9,445.9 188.4,446.1M188.4,446.1 185.1,446.2 182.6,443.9 179.4,443.5M179.4,443.5 179.0,440.5 177.4,437.7 178.9,434.3 177.4,431.5 176.5,428.6 176.1,425.5M197.9,379.0 195.7,381.7 194.8,385.0 193.4,388.0 191.8,391.0 189.0,393.3 188.5,396.9 186.2,399.5 185.4,402.8M155.4,392.1 158.4,393.9 160.6,396.7 162.8,399.5 166.1,400.8 169.2,402.4M157.8,427.3 161.5,427.4 163.9,424.3 167.5,424.2 170.3,422.3M179.4,443.5 175.8,445.0 172.3,446.5M160.0,442.7 163.3,443.0 166.1,444.7 169.8,443.5 172.3,446.5M311.9,462.1 313.4,460.5M327.3,484.2 326.6,480.7 328.8,477.8 331.1,474.8 329.8,471.2M329.8,471.2 326.6,470.2 324.6,467.1 321.8,465.5 319.4,463.3 316.2,462.1 313.4,460.5M287.1,453.2 290.1,452.1 292.8,450.6 294.2,447.3 297.6,446.7 299.8,444.5 302.0,442.3M302.0,442.3 302.3,446.2 305.9,447.9 308.6,450.2 308.9,454.1 311.2,456.7 313.6,459.2M313.4,460.5 313.6,459.2M285.2,428.6 288.4,428.6 291.7,429.9 294.9,428.7M302.0,442.3 302.4,440.4M302.4,440.4 301.4,436.9 298.7,434.5 296.4,431.9 294.9,428.7M295.0,406.6 296.4,409.8 297.0,413.3 298.6,416.5 300.3,419.6M294.9,428.7 297.1,425.9 297.3,422.0 300.3,419.6M565.2,365.8 566.3,369.0 564.9,372.1 565.1,375.3M568.2,365.2 571.5,365.8 574.1,367.7 576.6,369.9 579.7,370.9M579.7,370.9 581.1,374.4 578.4,377.0M601.0,410.0 598.4,405.5M621.0,373.7 619.3,370.2 614.6,369.5 613.5,365.5M628.7,358.5 624.9,359.4 621.0,358.1 617.2,358.4M613.5,365.5 616.5,362.6 617.2,358.4M313.8,282.0 316.1,284.2 318.4,286.3 319.9,289.2 322.2,291.3M317.2,273.3 320.8,274.9 324.2,276.8M322.2,291.3 324.2,287.8 327.5,285.5M524.7,317.2 525.1,316.8M524.7,317.2 520.3,317.0 516.0,318.1M304.9,319.5 308.7,319.7 311.2,318.0 312.9,314.8 315.4,313.0M297.7,315.7 301.8,316.6 304.9,319.5M303.5,305.0 307.2,304.8 311.0,305.1M315.4,313.0 313.1,309.1 311.0,305.1M339.9,291.5 336.7,293.1 334.6,296.4 330.9,297.4 328.4,300.1M322.2,291.3 322.1,295.1M328.4,300.1 325.6,297.2 322.1,295.1M304.1,288.0 306.7,290.6 308.5,293.8 311.6,295.8 314.0,298.5M322.1,295.1 318.2,297.2 314.0,298.5M314.0,298.5 313.0,302.0 311.0,305.1M548.5,347.1 544.9,349.2 542.1,352.2M381.0,581.0 381.0,581.0M381.0,581.0 381.3,577.2 381.4,573.4 381.2,569.5M396.7,561.6 399.7,563.5 402.2,566.2M396.7,561.6 393.3,562.5 390.0,563.8 386.3,563.7M381.2,569.5 382.6,565.6 386.3,563.7M364.2,583.5 363.9,586.9 363.0,590.0 360.4,592.6 360.4,596.0 360.2,599.4 358.6,602.3M364.2,583.5 367.5,582.8 370.9,582.6 374.3,582.6 377.6,581.1 381.0,581.0M462.7,515.3 460.0,513.7 457.7,511.6 454.9,510.2 453.3,507.2M412.1,548.7 409.3,547.5 406.6,546.0 403.4,546.2M396.7,561.6 396.0,557.9 397.7,554.7 399.2,551.5 399.6,548.1M399.6,548.1 403.4,546.2M418.8,529.4 415.9,530.3 412.9,531.2 410.5,533.6 407.2,533.4M403.4,546.2 402.6,542.5 404.4,539.5 406.1,536.5 407.2,533.4M400.9,513.6 400.6,517.1 399.0,520.4 397.5,523.8 398.9,527.5M415.1,512.1 411.5,512.1 407.8,511.0 404.5,513.6 400.9,513.6M398.9,527.5 402.2,528.7 405.5,529.9 407.2,533.4M266.7,676.2 266.5,672.0 265.7,667.9M245.5,687.9 246.2,684.5 246.6,681.1 246.4,677.8 245.4,674.5 244.2,671.2 244.4,667.8M265.7,667.9 262.7,669.4 259.6,668.8 256.6,668.2 253.5,668.2 250.5,666.4 247.5,666.5 244.4,667.8M281.0,660.5 277.6,662.1 273.6,662.0 270.4,663.7 267.2,665.7M288.2,673.0 285.6,675.7 283.2,678.5 283.2,682.8 280.8,685.7M265.7,667.9 267.2,665.7M227.8,686.4 228.0,683.2 226.0,680.4 226.3,677.2 225.5,674.2 225.9,671.0 224.4,668.1M208.8,689.4 208.9,686.0 210.2,682.7 209.3,679.3 210.7,675.9 209.9,672.5 210.0,669.1M224.4,668.1 220.9,669.2 217.3,669.5 213.7,670.0 210.0,669.1M244.4,667.8 243.1,666.4M243.1,666.4 239.5,665.5 235.7,666.7 232.2,665.6 228.7,664.4M224.4,668.1 228.7,664.4M198.8,667.0 202.5,667.9 206.2,666.5M206.2,666.5 210.0,669.1M301.5,690.0 303.7,686.5M301.5,690.0 302.2,693.5 304.9,696.1 305.4,699.7M303.7,686.5 306.4,685.1 309.2,683.6 312.5,684.7 315.4,683.6M315.9,702.3 319.3,700.5 322.9,699.1M326.5,692.0 324.3,689.2 320.6,688.3 318.3,685.5 315.4,683.6M282.9,694.9 286.5,696.1 289.3,694.1 292.5,693.5 295.3,691.9 298.3,690.5 301.5,690.0M297.5,674.0 298.5,677.4 299.5,680.8 302.8,683.0 303.7,686.5M317.1,671.3 318.3,674.6 316.5,677.5 316.6,680.7 315.4,683.6M236.8,468.0 233.7,469.6 230.4,471.0 228.5,474.4 224.8,475.2 221.5,476.4 219.1,479.3M219.1,479.3 221.9,481.9 222.7,485.9 225.8,488.3M241.8,472.8 241.2,476.0 241.2,479.3 240.5,482.4 237.3,485.0 238.3,488.5M241.8,472.8 239.6,470.2 236.8,468.0M225.8,488.3 228.9,488.5 232.0,488.8 235.1,490.5 238.3,488.5M261.4,489.6 258.6,491.0 255.5,491.5 252.9,493.3 249.7,493.3 246.8,494.4 243.8,495.2M257.5,473.3 254.4,473.3 251.2,474.5 248.0,474.3 244.9,472.5 241.8,472.8M238.3,488.5 241.6,491.4 243.8,495.2M172.3,446.5 171.8,449.6 170.9,452.6 170.0,455.6 169.2,458.6 169.3,461.8 168.1,464.7M188.4,446.1 187.8,449.4 187.3,452.6 188.4,455.9 188.8,459.1 188.3,462.4 188.5,465.7M188.5,465.7 185.3,467.2 182.9,469.9M182.9,469.9 180.2,468.1 177.5,466.4 173.7,467.8 170.8,466.6 168.1,464.7M150.4,463.6 152.9,465.3 156.0,465.9 158.7,467.3 161.7,468.0M161.7,468.0 164.5,465.5 168.1,464.7M182.9,469.9 181.9,473.1 181.8,476.4 182.9,479.7 182.0,482.9M182.0,482.9 185.0,484.1 186.9,486.8 189.6,488.3M188.5,465.7 191.9,467.0 195.4,468.2 199.0,469.0M199.0,469.0 201.0,471.9 204.5,474.1 205.0,477.8 205.0,481.7M189.6,488.3 192.5,486.6 195.8,485.7 199.1,484.9 201.8,482.7 205.0,481.7M161.7,468.0 162.8,471.0 161.1,474.3 160.9,477.5 160.8,480.6 164.9,483.4 163.4,486.7M150.9,489.0 154.2,489.4 156.9,486.5 160.4,488.1 163.4,486.7M182.0,482.9 179.2,484.6 176.3,486.0 173.2,486.9 170.4,488.5 167.2,489.3M163.4,486.7 167.2,489.3M309.4,613.8 306.6,612.6 303.7,611.4 301.1,609.4 297.6,610.8 294.7,609.6M312.5,620.2 310.1,617.4 309.4,613.8M305.8,635.0 302.8,634.5 299.7,634.3 296.7,634.1 293.8,632.6 290.5,634.0 287.7,632.2 284.8,631.1M284.8,631.1 287.1,628.5 287.8,625.1 288.8,621.8 289.9,618.6 292.1,615.9 293.6,612.8 294.7,609.6M212.8,455.2 211.3,452.2 211.5,449.0M212.8,455.2 215.5,458.0M215.5,458.0 218.9,458.2 221.8,461.3 225.4,461.1 228.9,460.8 232.6,460.0 235.7,462.2M211.8,448.5 211.5,449.0M211.8,448.5 215.1,448.3 217.9,446.1 221.1,445.3 224.4,445.2 227.8,445.3 230.6,443.3M230.6,443.3 232.9,445.6 236.4,446.4 237.8,449.8 240.8,451.2M240.8,451.2 239.6,454.0 236.4,455.8 236.5,459.3 235.7,462.2M188.9,445.9 192.2,446.2 195.5,445.9 198.6,447.4 201.8,447.6 205.0,448.7 208.3,448.4 211.5,449.0M199.0,469.0 200.7,466.1 204.1,464.9 205.9,462.1 209.8,461.3 210.9,457.9 212.8,455.2M205.0,481.7 206.6,482.3M218.0,479.0 213.8,478.7 210.1,480.1 206.6,482.3M218.0,479.0 217.8,475.9 218.2,472.9 217.1,469.9 218.1,466.8 216.4,464.0 216.1,460.9 215.5,458.0M236.8,468.0 235.7,462.2M219.1,479.3 218.0,479.0M212.4,432.1 211.5,435.4 212.2,438.7 211.4,441.9 211.4,445.2 211.8,448.5M231.1,426.7 229.8,430.0 231.4,433.4 230.6,436.7 230.9,440.0 230.6,443.3M244.1,449.9 240.8,451.2M242.2,501.6 243.0,498.4 243.8,495.2M242.2,501.6 244.5,503.8 245.8,507.1 249.9,507.7 250.1,511.9 252.9,513.7M264.3,491.6 265.2,494.8 263.7,497.9 263.7,501.1 263.6,504.2 263.9,507.4 264.0,510.6M252.9,513.7 256.3,511.7 260.6,512.8 264.0,510.6M261.9,311.0 263.6,310.9M261.9,311.0 257.7,311.3 255.3,314.6 252.3,316.9M263.6,310.9 265.1,313.7 267.6,315.7 269.4,318.3 270.5,321.3M252.3,316.9 252.1,319.2M252.1,319.2 255.0,321.1 258.8,321.8 259.8,326.0 262.9,327.7 265.3,330.2M265.3,330.2 268.6,328.2 267.7,323.6 270.5,321.3M257.0,299.1 257.6,302.4 259.2,305.2 259.7,308.4 261.9,311.0M269.7,306.8 266.9,309.2 263.6,310.9M231.5,299.3 233.9,301.0 235.5,303.9 237.8,305.8 241.3,306.4 242.9,309.3 245.4,311.0 246.8,314.0 250.6,314.1 252.3,316.9M278.8,321.5 274.7,319.9 270.5,321.3M243.5,332.9 245.1,330.1 247.7,327.9 248.8,324.8 250.4,322.0 252.1,319.2M266.0,334.2 265.3,330.2M271.1,337.9 275.4,337.9M319.6,521.3 323.0,520.9 325.9,522.5 328.5,525.0 332.0,524.0 335.1,524.8M321.4,507.5 322.1,511.1 320.4,514.4 321.4,518.0 319.6,521.3M335.6,505.4 338.2,509.1M335.1,524.8 336.4,521.8 337.8,518.8 337.7,515.6 335.6,511.9 338.2,509.1M356.2,496.3 356.4,496.6M356.4,496.6 355.5,499.6 355.4,502.8 352.9,505.2 353.9,508.7 352.2,511.5M338.0,495.2 341.0,495.8 344.0,495.7 347.1,495.5 350.1,495.7 353.1,497.1 356.2,496.3M338.2,509.1 341.6,510.6 345.2,510.1 348.8,510.0 352.2,511.5M394.0,509.3 393.2,505.9 395.8,502.9 395.3,499.5 396.6,496.4 396.1,493.0M400.9,513.6 396.7,512.7 394.0,509.3M417.6,503.0 416.0,500.2 414.0,497.8 410.4,496.9 408.0,494.8 407.0,491.5 405.1,489.1M396.1,493.0 398.9,491.3 401.7,489.6 405.1,489.1M377.8,489.1 376.4,492.5 373.9,495.3 372.8,498.9M377.8,489.1 380.7,487.4 383.9,486.6M394.0,509.3 390.8,510.0 387.7,511.1M383.9,486.6 386.6,488.9 389.6,490.6 392.8,491.9 396.1,493.0M372.8,498.9 376.0,500.1 377.2,503.6 379.8,505.6 383.0,506.7 384.1,510.4 387.7,511.1M340.1,463.7 340.8,460.3 340.4,456.9M340.1,463.7 337.5,465.5 334.2,466.4 331.6,468.3 329.8,471.2M313.6,459.2 315.5,456.7 318.2,455.3 320.9,453.7 322.3,450.8 325.4,449.7 327.5,447.6M340.4,456.9 337.9,454.9 334.0,454.9 331.9,452.4 330.6,448.8 327.5,447.6M302.4,440.4 305.3,439.0 308.1,437.8 311.3,437.2 314.5,436.7 317.0,434.4M317.0,434.4 319.4,437.0 322.3,439.1 324.7,441.8 327.2,444.3M327.2,444.3 327.5,447.6M340.4,456.9 342.4,454.1 346.0,453.4 348.5,451.2 351.2,449.2M351.2,449.2 350.3,445.6 350.7,441.9 352.1,438.2 350.7,434.6M327.2,444.3 329.9,442.1 333.4,440.6 335.6,437.8 336.7,434.0 340.7,433.1 342.0,429.4M342.0,429.4 344.5,431.7 347.8,432.7 350.7,434.6M576.4,352.6 579.9,353.5 583.8,353.6 586.5,357.2 590.4,357.0M579.7,370.9 583.0,370.5 585.4,368.2M590.4,357.0 590.1,360.2 589.1,363.1 588.1,366.0 585.4,368.2M585.4,368.2 588.1,371.1 591.7,373.2 593.4,377.0M613.5,365.5 609.3,366.3 605.4,368.1M602.6,377.3 603.8,374.3 604.3,371.1 605.4,368.1M344.5,306.8 347.1,308.6 350.3,308.4 353.2,309.4 356.1,310.0M344.5,306.8 342.6,308.3M342.6,308.3 342.3,311.6 343.4,314.8 343.8,318.0 344.7,321.2 344.7,324.5M356.7,310.7 356.1,310.0M356.7,310.7 354.4,313.8 353.7,317.5 353.1,321.3 350.9,324.4M350.9,324.4 347.8,323.8 344.7,324.5M345.9,295.4 346.3,299.3 344.8,303.0 344.5,306.8M357.7,302.5 356.6,306.2 356.1,310.0M369.3,313.6 371.1,312.5M373.0,308.6 371.1,312.5M369.3,313.6 366.1,312.9 362.6,313.7 360.0,310.7 356.7,310.7M369.3,313.6 367.5,316.1 366.9,319.1 366.0,322.0 364.6,324.7 365.0,328.0 363.3,330.6M363.3,330.6 361.1,331.3M361.1,331.3 358.4,329.7 356.1,327.7 352.7,327.3 350.9,324.4M428.0,321.7 424.5,322.0 420.8,321.6 417.9,325.1 414.1,323.6 410.7,324.6M410.1,319.4 410.7,324.6M293.7,333.3 296.9,333.6 300.0,333.6 303.1,332.5 306.2,333.0M304.9,319.5 305.8,322.6 306.4,325.7 307.8,328.7 307.3,332.1M306.2,333.0 307.3,332.1M331.0,316.9 332.5,313.8 334.9,311.3 336.5,308.3M331.0,316.9 327.7,315.7 324.4,316.3 321.2,317.3M321.2,317.3 319.5,314.9M319.5,314.9 321.0,311.8 322.8,308.9 324.0,305.7 327.2,303.7 328.5,300.4M336.5,308.3 333.7,305.9 330.6,303.6 328.5,300.4M315.4,313.0 319.5,314.9M328.4,300.1 328.5,300.4M342.6,308.3 339.6,308.5 336.5,308.3M293.0,349.4 294.6,351.3M293.0,349.4 289.9,348.4 286.9,347.9 283.8,350.4 280.7,349.1M280.7,349.1 277.7,351.1 277.4,354.7 276.1,357.7 274.2,360.4M294.6,351.3 294.8,353.0M294.8,353.0 293.0,355.4 290.8,357.4 289.5,360.3 286.5,361.7 285.1,364.5M285.1,364.5 281.7,362.6 277.8,362.0 274.2,360.4M274.2,360.4 274.2,360.4M292.0,335.8 292.8,339.1 292.5,342.6 293.7,345.9 293.0,349.4M307.3,344.8 304.1,346.5 301.2,348.6 298.3,350.8 294.6,351.3M306.2,333.0 304.5,337.1 306.9,340.9 307.3,344.8M275.7,338.1 276.7,341.0 278.9,343.3 279.2,346.5 280.7,349.1M272.3,359.7 274.2,360.4M271.7,374.4 273.4,371.1 273.1,367.5 273.9,364.0 274.2,360.4M344.7,324.5 341.1,326.7M331.0,316.9 332.3,320.1 335.0,322.1 337.3,324.5 339.8,326.7M339.8,326.7 341.1,326.7M360.8,367.3 363.6,362.5M360.8,367.3 362.0,371.2 364.4,374.4 366.7,377.6M366.7,377.6 369.8,376.8 373.1,376.9M373.1,376.9 374.1,373.4 373.6,369.8 373.1,366.2 374.5,362.7M363.6,362.5 367.2,362.3 370.9,362.9 374.5,362.7M518.2,337.3 521.1,336.1 523.8,334.7 525.6,331.7 528.9,331.2M517.1,342.5 521.2,346.4M532.5,347.8 534.1,344.6 534.5,340.9 535.0,337.2 537.6,334.3M528.9,331.2 533.0,332.4 537.1,333.9M524.7,317.2 525.5,320.8 526.3,324.3 530.2,327.0 528.9,331.2M529.3,470.4 528.4,466.5 526.4,463.0 526.2,458.9M537.8,456.9 533.8,456.7 530.0,458.0 526.2,458.9M427.0,497.1 428.5,494.0 429.0,490.6M406.9,484.7 405.1,489.1M422.9,477.5 424.4,478.6M422.9,477.5 419.2,477.8 416.6,480.5 413.3,481.7 410.0,483.0 406.9,484.7M429.0,490.6 426.7,488.0 426.5,484.7 426.3,481.3 424.4,478.6M377.5,546.6 374.1,547.9 370.5,547.9M370.5,547.9 367.8,550.9M377.5,546.6 378.8,549.5 381.9,551.5 381.9,555.2 381.7,558.9 385.4,560.6 386.3,563.7M381.2,569.5 377.9,568.0 374.0,567.9 371.2,564.9 367.6,564.1M367.8,550.9 366.5,554.2 368.5,557.5 368.8,560.8 367.6,564.1M357.4,574.9 358.7,569.5M364.2,583.5 359.4,582.6 358.2,579.0 357.4,574.9M367.6,564.1 364.9,566.3 361.4,567.2 358.7,569.5M360.4,532.6 357.2,534.3 355.2,537.4 352.0,538.9 349.5,541.4M370.5,547.9 368.6,545.5 366.5,543.2 364.5,540.9 363.7,537.7 363.9,534.0 360.4,532.6M367.8,550.9 364.4,551.0 360.9,550.9 357.6,552.0 354.1,549.6 350.7,551.5M349.5,541.4 349.9,544.7 348.7,548.3 350.7,551.5M358.7,569.5 356.1,567.2 354.1,564.3 352.0,561.6 350.1,558.8 347.9,556.2M350.7,551.5 347.9,556.2M349.5,541.4 346.1,540.3 343.3,538.2 340.8,535.6 337.4,534.5M330.9,540.9 333.8,539.5 335.5,536.9 337.4,534.5M347.9,556.2 344.9,558.4 341.2,558.0 337.9,559.3M330.9,540.9 330.8,544.4 333.0,547.5 332.5,551.1 334.4,554.3 334.1,557.8M334.1,557.8 337.9,559.3M398.9,527.5 395.3,529.6 391.4,531.0M399.6,548.1 396.1,547.8 394.2,545.1 392.0,543.0M391.4,531.0 391.6,535.0 391.4,539.0 392.0,543.0M377.5,546.6 377.6,546.5M377.6,546.5 380.9,544.4 384.6,544.2 388.2,543.0 392.0,543.0M243.1,666.4 244.5,663.6 244.4,660.2 244.8,657.0 247.2,654.5 247.5,651.3 249.2,648.6M267.2,665.7 266.7,662.2 265.1,659.2 263.7,656.2 262.1,653.2 259.3,650.8 258.8,647.3 257.2,644.3M257.2,644.3 254.5,645.6 251.4,646.4 249.2,648.6M252.9,513.7 252.5,517.3 250.5,520.0 248.2,522.5 246.3,525.3 245.1,528.5M239.0,529.7 242.4,530.6 245.1,528.5M239.0,529.7 238.0,529.4M242.2,501.6 239.3,503.4 237.1,506.4 233.3,506.8 230.6,508.9M230.6,508.9 231.4,511.9 232.5,514.8 232.9,518.0 235.8,520.2 236.8,523.2 234.6,527.3 238.0,529.4M177.8,505.8 175.3,503.5 171.8,503.1 169.2,501.1M177.8,505.8 180.5,509.3 180.3,513.4 180.1,517.5M169.2,501.1 165.8,502.5 165.2,507.0 162.3,509.0 158.8,510.3M158.8,510.3 158.7,513.4 160.0,516.3 159.2,519.6 161.0,522.4M180.1,517.5 177.4,520.3 175.1,523.4 172.1,525.9M190.3,499.4 189.2,495.7 189.8,492.0 189.6,488.3M190.3,499.4 187.0,500.6 183.8,502.1 180.9,504.1 177.8,505.8M167.2,489.3 168.0,493.2 167.9,497.2 169.2,501.1M151.7,507.6 154.9,509.7 158.8,510.3M151.5,528.2 156.2,526.8M156.6,551.4 158.7,548.7 161.3,546.4 164.0,544.3 166.2,541.6 170.5,541.3 172.0,537.8M172.0,537.8 171.1,533.5 169.0,529.7M303.6,518.8 307.1,519.0 309.3,522.1 312.7,522.6 315.4,524.5M303.6,518.8 301.3,521.1 298.0,522.4 295.9,525.0 293.8,527.5 291.0,529.3M291.0,529.3 293.6,531.2 296.0,533.4 298.4,535.6 300.6,538.0 303.9,539.2 306.3,541.4 308.5,543.8M315.4,524.5 314.4,527.4 314.6,530.4 314.4,533.4 314.3,536.4 313.9,539.4M313.9,539.4 309.6,543.6M309.6,543.6 308.5,543.8M301.3,507.9 301.2,511.7 302.7,515.1 303.6,518.8M319.6,521.3 315.4,524.5M335.1,524.8 337.3,527.9M337.3,527.9 337.6,531.2 337.4,534.5M330.9,540.9 327.3,542.9 324.1,540.1 320.6,540.2 317.5,537.2 313.9,539.4M321.5,561.8 324.5,560.2 328.4,561.7 331.3,559.8 334.1,557.8M321.5,561.8 320.0,559.1 319.5,555.7 316.6,553.9 315.9,550.6 312.2,549.3 310.8,546.5 309.6,543.6M321.5,561.8 320.6,565.3 317.7,567.6 315.9,570.6 315.2,574.1M305.4,571.8 309.0,571.3 311.7,574.4 315.2,574.1M305.4,571.8 303.6,569.4 302.0,566.7 299.0,565.2 299.3,561.2 295.9,559.9 294.8,556.9M294.9,556.5 294.8,556.9M294.9,556.5 297.4,554.6 298.7,551.5 301.9,550.4 303.3,547.3 305.9,545.5 308.5,543.8M238.6,578.9 241.6,580.2 244.8,580.3 247.8,581.7 251.1,581.3M238.6,578.9 238.0,575.9 238.7,572.8 238.0,569.8 239.1,566.6 237.0,563.7 237.6,560.6 236.7,557.6M251.1,581.3 253.2,578.7 253.8,575.8 254.1,572.7 253.8,569.5 254.0,566.4 256.6,564.0 256.0,560.7 257.6,558.0M236.7,557.6 239.8,555.7M239.8,555.7 243.0,556.9 246.3,556.4 249.5,555.8 252.7,557.1 255.9,556.7M257.6,558.0 255.9,556.7M239.0,529.7 240.0,532.9 238.7,536.2 237.8,539.5 239.2,542.7 239.4,545.9 238.3,549.2 239.4,552.4 239.8,555.7M217.0,547.7 221.2,546.1 221.9,542.3 221.2,537.8 223.9,535.3 226.0,532.4M220.7,554.2 217.5,551.8 217.0,547.7M238.0,529.4 235.2,530.6 232.2,531.4 229.3,532.6 226.0,532.4M224.5,556.7 227.5,557.8 230.6,557.2 233.6,557.2 236.7,557.6M245.1,528.5 247.8,530.8 251.3,531.7 254.4,533.1 257.2,535.2M257.2,535.2 258.3,538.3 257.5,541.4 255.7,544.3 256.2,547.4 255.9,550.5 254.1,553.5 255.9,556.7M220.0,606.7 223.0,604.9 226.9,606.1 229.0,601.5 233.3,603.9 236.2,601.7M220.0,606.7 219.6,603.5 218.1,600.6 218.1,597.4 217.1,594.4 217.1,591.1M236.2,601.7 235.1,598.7 235.7,595.2 234.6,592.2 233.0,589.3 233.0,586.0 231.3,583.1M217.1,591.1 218.5,588.1 221.4,586.6 224.1,584.9 226.2,582.6M226.2,582.6 231.3,583.1M255.8,589.5 256.0,586.6M256.0,586.6 253.1,584.3 251.1,581.3M240.7,603.9 236.2,601.7M240.7,603.9 242.8,601.1 246.1,599.5 247.8,596.2 251.6,595.2 253.1,591.7 255.8,589.5M238.6,578.9 235.7,582.3 231.3,583.1M222.1,577.0 223.8,580.0 226.2,582.6M203.9,588.7 207.4,588.1 210.3,591.0 213.7,591.0 217.1,591.1M267.4,582.3 270.6,583.6 273.5,585.4 276.9,586.2 279.5,588.6M267.4,582.3 269.6,579.3 270.9,576.0 272.2,572.7 270.8,568.5 273.0,565.5M273.0,565.5 277.3,565.0 281.3,566.6M281.3,566.6 282.2,569.6 284.4,572.0 285.1,575.1 285.1,578.5 286.8,581.2 289.0,583.6M289.0,583.6 285.9,585.5 283.1,587.7 279.5,588.6M264.8,603.6 267.9,604.3 271.0,604.4 274.1,605.1M264.8,603.6 262.5,601.1 260.6,598.4 260.0,594.8 257.0,592.7 255.8,589.5M276.7,603.4 274.1,605.1M256.0,586.6 259.1,586.1 261.5,584.0 264.6,583.5 267.4,582.3M276.7,603.4 276.6,600.4 276.7,597.3 278.5,594.6 280.6,591.9 279.5,588.6M266.8,559.2 263.9,556.9 260.5,559.3 257.6,558.0M266.8,559.2 271.0,561.2 273.0,565.5M294.9,556.5 294.4,552.5 290.8,551.5 287.9,549.8 285.6,547.6 283.0,545.6 280.3,543.8 279.0,540.5M266.8,559.2 268.3,556.3 271.0,554.3 272.9,551.7 274.9,549.2 276.3,546.3 277.1,543.0 279.0,540.5M294.8,556.9 291.3,557.7 289.5,560.9 286.2,562.0 284.6,565.5 281.3,566.6M290.3,583.9 293.6,582.8 295.6,580.2 297.4,577.3 300.9,576.5 302.6,573.4 305.4,571.8M290.3,583.9 289.0,583.6M297.4,593.5 295.6,589.9 293.9,586.2 290.3,583.9M293.3,607.4 289.9,607.2 286.6,606.1 283.5,604.6 280.1,604.1 276.7,603.4M297.4,593.5 296.0,596.8 295.2,600.4 293.2,603.6 293.3,607.4M199.6,526.3 196.7,527.7 195.2,530.6 193.9,533.8 189.2,533.2 187.7,536.2 186.3,539.2 183.5,540.8 181.3,543.0M199.6,526.3 200.9,529.1 201.5,532.2 204.3,534.3 205.9,536.9 205.5,540.6 207.6,543.0 209.1,545.7M199.2,551.5 202.8,550.1 206.0,547.9 209.1,545.7M199.2,551.5 196.3,550.3 193.9,548.0 190.3,548.4 186.9,548.2 185.0,544.7 181.8,544.1M181.8,544.1 181.3,543.0M197.8,567.9 198.0,565.3M198.2,563.3 199.7,559.4 199.7,555.5 199.2,551.5M217.0,547.7 212.7,547.9 209.1,545.7M178.5,565.1 180.0,562.3 177.8,558.9 179.6,556.1 180.7,553.2 181.2,550.2 182.2,547.2 181.8,544.1M172.0,537.8 175.1,539.5 178.1,541.4 181.3,543.0M278.6,536.0 280.7,532.8 284.0,531.0 287.2,529.2M278.6,536.0 275.4,534.6 272.3,533.3 269.1,531.9M269.1,531.9 268.3,528.8 267.3,525.6 268.3,522.2 267.2,519.0 266.5,515.8 266.6,512.5M287.2,529.2 287.6,525.9 285.6,523.1 285.5,520.0 284.2,517.1 284.0,513.9 283.1,510.9M283.1,510.9 279.9,512.2 276.4,510.4 273.0,510.5 269.9,512.3 266.6,512.5M279.0,540.5 278.6,536.0M291.0,529.3 287.2,529.2M257.2,535.2 260.0,533.7 262.9,532.6 266.3,533.1 269.1,531.9M264.0,510.6 266.6,512.5M285.0,508.2 283.1,510.9M380.6,464.7 382.9,462.1 385.7,460.2 388.1,457.8 391.1,456.1M380.6,464.7 383.3,467.5 385.7,470.5 386.7,474.4M386.7,474.4 390.0,473.1 393.4,472.5 396.9,472.0 400.4,472.3M391.1,456.1 395.0,454.7 398.4,457.1 402.2,457.3M400.4,472.3 402.1,469.1 403.6,465.8 404.6,462.3M404.6,462.3 402.2,457.3M386.4,444.1 382.8,444.7 379.3,445.9 376.1,448.1 372.1,447.0M370.6,450.2 372.1,447.0M386.4,444.1 386.6,447.5 388.4,450.2 389.7,453.2 391.1,456.1M370.6,450.2 371.8,453.4 374.1,455.9 375.7,458.9 378.1,461.3 379.5,464.4M379.5,464.4 380.6,464.7M383.9,486.6 385.4,483.8 384.8,480.4 385.1,477.3 386.7,474.4M406.9,484.7 404.8,481.8 405.2,477.7 401.7,475.5 400.4,472.3M386.4,444.1 389.3,441.2 390.1,437.3M391.0,436.9 390.1,437.3M391.0,436.9 393.4,438.9 395.7,441.1 398.8,441.8 401.8,442.8 404.0,445.1 407.0,445.9M407.0,445.9 406.2,449.0 404.3,451.5 402.7,454.2 402.2,457.3M421.1,466.3 417.6,466.4 414.5,465.0 411.2,464.2 407.8,463.7 404.6,462.3M422.9,477.5 421.4,473.9 421.7,470.0 421.1,466.3M379.0,523.9 376.3,522.2 374.5,519.6 373.5,516.0 369.6,515.7 367.4,513.4M379.0,523.9 379.0,525.0M379.0,525.0 378.5,525.7M378.5,525.7 375.7,527.2 372.5,527.9 369.2,528.2 366.4,529.7 363.7,531.7 360.5,532.1M367.4,513.4 364.3,513.6 361.5,515.2 358.4,515.3 355.7,517.0M360.5,532.1 358.2,529.9 358.7,526.2 357.2,523.5 354.9,521.3M355.7,517.0 354.9,521.3M371.5,499.5 372.8,498.9M371.5,499.5 368.9,502.5 369.4,506.4 369.0,510.1 367.4,513.4M387.7,511.1 386.1,513.7 383.8,515.9 382.5,518.8 380.6,521.2 379.0,523.9M391.4,531.0 387.7,530.7 384.7,529.1 381.1,528.6 379.0,525.0M377.6,546.5 378.0,543.0 377.8,539.6 377.8,536.1 377.8,532.6 378.0,529.1 378.5,525.7M360.4,532.6 360.5,532.1M356.4,496.6 359.5,496.8 362.4,498.4 365.4,498.6 368.3,499.8 371.5,499.5M352.2,511.5 352.9,514.9 355.7,517.0M337.3,527.9 340.0,526.0 343.4,526.3 345.6,523.3 349.3,524.1 352.0,522.5 354.9,521.3M367.7,480.1 364.0,481.6 360.4,483.4 356.3,483.0M367.7,480.1 367.8,476.7 367.6,473.2 369.5,470.1M369.5,470.1 366.4,468.8 363.1,467.7 360.4,465.5M360.4,465.5 357.3,466.8 355.3,469.5 353.0,471.9 349.8,472.8M356.3,483.0 354.4,479.2 350.5,477.7M350.5,477.7 349.8,472.8M356.2,496.3 356.1,493.0 355.4,489.6 355.0,486.3 356.3,483.0M377.8,489.1 375.8,486.3 373.2,484.1 370.1,482.6 367.7,480.1M379.5,464.4 376.6,467.1 373.1,468.7 369.5,470.1M360.0,453.2 361.1,456.3 359.9,459.4 360.0,462.5 360.4,465.5M360.0,453.2 363.9,453.6 367.5,452.8 370.6,450.2M360.0,453.2 356.9,452.2 353.8,451.2 351.2,449.2M340.1,463.7 342.6,465.9 346.2,466.9 346.7,471.3 349.8,472.8M335.0,488.6 337.4,486.6 340.5,485.4 343.0,483.6 344.8,480.6 347.9,479.5 350.5,477.7M366.7,377.6 364.7,381.5 360.7,383.3M353.4,368.5 351.5,372.2M353.4,368.5 357.1,368.0 360.8,367.3M360.7,383.3 356.0,381.8M351.5,372.2 351.6,376.0 354.8,378.5 356.0,381.8M342.0,429.4 341.4,428.0M317.0,434.4 317.2,431.3 318.8,428.4 317.9,425.1 317.6,422.0 319.5,419.2M341.4,428.0 338.4,426.4 335.1,425.7 332.2,423.7 329.3,422.0 325.7,422.0 322.5,420.9 319.5,419.2M343.3,394.4 346.1,396.1 349.5,395.0 352.2,397.3 355.2,397.8 358.4,397.7M343.3,394.4 342.5,397.7 342.5,401.2 340.9,404.4 340.9,407.9M361.5,410.5 358.3,411.5 354.8,410.6 351.9,413.0 348.5,412.5 345.2,413.1M358.4,397.7 359.9,400.7 358.9,404.4 359.6,407.6 361.5,410.5M340.9,407.9 342.7,410.8 345.2,413.1M300.3,419.6 303.5,420.4 306.6,417.4 309.8,419.3 313.0,418.9 316.2,417.9 319.4,418.9M319.5,419.2 319.4,418.9M357.9,431.6 360.7,428.9 360.7,424.8 362.8,421.8 364.1,418.3M357.9,431.6 361.9,431.2 363.5,435.5 366.6,436.7 369.9,437.6M364.1,418.3 366.7,420.0 369.4,421.3 372.9,421.0 375.1,423.4 377.9,424.6M369.9,437.6 373.0,435.0 376.6,433.0 378.3,429.1M377.9,424.6 378.3,429.1M362.2,411.0 363.1,414.7 364.1,418.3M362.2,411.0 361.5,410.5M350.7,434.6 354.6,434.0 357.9,431.6M341.4,428.0 340.7,424.7 343.2,422.2 343.2,419.0 345.7,416.4 345.2,413.1M372.1,447.0 371.1,444.0 371.3,440.6 369.9,437.6M390.1,437.3 387.0,435.4 384.2,433.2 381.2,431.2 378.3,429.1M396.1,428.3 395.6,431.9 391.6,433.4 391.0,436.9M390.7,418.4 387.5,417.2 384.1,417.7M390.7,418.4 392.4,421.8 394.7,424.8 396.1,428.3M384.1,417.7 382.6,420.5 379.7,422.1 377.9,424.6M290.1,391.3 293.4,389.9 293.0,386.0 295.2,383.8M276.5,382.3 280.2,382.2 282.5,379.6 284.9,377.4M284.9,377.4 288.3,377.7 290.3,380.2 292.1,383.0 295.2,383.8M285.1,364.5 287.6,369.1M284.9,377.4 286.2,373.2 287.6,369.1M297.0,403.8 299.0,402.7M299.0,402.7 300.7,399.3 302.2,395.9 303.7,392.4M303.7,392.4 302.1,389.3 299.5,386.7 298.7,383.2M295.2,383.8 298.7,383.2M591.9,356.2 595.9,357.4M591.9,356.2 593.8,353.2 592.6,350.0 593.4,346.9 592.8,343.7M595.9,357.4 598.6,355.9 600.6,352.8 604.0,352.7 607.0,351.7 610.0,350.8 612.6,349.0M592.8,343.7 593.7,340.3 595.7,337.7 599.2,336.6M599.2,336.6 602.3,337.7 604.7,340.1 607.9,341.2 609.8,344.4 613.2,345.1M613.2,345.1 612.6,349.0M590.4,357.0 591.9,356.2M605.4,368.1 601.8,366.5 600.2,363.2 599.4,359.2 595.9,357.4M578.9,337.4 581.9,338.0 584.2,340.5 587.4,340.7 589.7,343.2 592.8,343.7M617.2,358.4 614.8,355.7 613.3,352.5 612.6,349.0M599.2,335.5 599.2,336.6M616.9,342.3 613.2,345.1M376.6,353.3 372.8,348.8M374.5,340.1 373.2,344.4 372.8,348.8M390.5,350.3 386.8,350.2 383.3,350.6 380.1,352.4 376.6,353.3M390.5,350.3 390.6,349.7M374.5,340.1 378.9,339.3 383.4,338.9M383.4,338.9 384.2,342.3 386.2,344.8 388.7,347.1 390.6,349.7M395.7,319.2 397.1,322.4 400.2,324.5 401.1,328.0M391.0,317.9 388.5,319.9 386.0,321.9 383.2,323.6M383.2,323.6 383.1,324.3M383.1,324.3 385.3,326.6 386.3,329.6 387.3,332.6M387.3,332.6 391.5,334.7 396.2,334.0M401.1,328.0 398.1,330.6 396.2,334.0M408.4,328.0 410.7,324.6M408.4,328.0 404.7,328.4 401.1,328.0M371.1,312.5 373.7,314.6 377.0,315.8 378.6,318.9 381.1,321.1 383.2,323.6M363.3,330.6 366.3,332.4 369.7,333.2M369.7,333.2 372.6,331.8 374.9,329.3 378.5,329.0 380.5,326.1 383.1,324.3M383.4,338.9 386.5,336.5 387.3,332.6M369.7,333.2 372.9,336.2 374.5,340.1M397.6,340.2 395.1,343.2 392.7,346.3 390.6,349.7M397.6,340.2 396.6,337.2 396.2,334.0M294.8,353.0 299.0,354.5 300.4,358.6M310.8,347.6 307.3,344.8M310.8,347.6 311.5,351.2 310.2,354.9 310.8,358.5M300.4,358.6 303.9,357.0 307.3,358.1 310.8,358.5M287.6,369.1 291.4,369.0 295.2,368.4 298.8,369.9M300.4,358.6 300.9,362.5 299.6,366.2 298.8,369.9M323.4,355.6 321.1,358.6 317.6,360.0 314.7,362.2M323.4,355.6 321.8,352.5 320.4,349.2 320.0,345.6M320.0,345.6 316.9,346.1 314.3,349.2 310.8,347.6M314.7,362.2 310.8,358.5M320.0,345.6 321.6,343.1M329.8,356.6 326.4,357.1 323.4,355.6M329.8,356.6 332.0,353.8 334.8,351.7 337.9,350.0M321.6,343.1 324.5,344.1 327.7,343.1 330.7,343.7 333.7,344.2M333.7,344.2 338.0,344.4 338.2,348.7M337.9,350.0 338.2,348.7M337.9,350.0 339.6,353.7 342.5,356.5 344.5,360.0M344.5,360.0 342.2,362.6 339.7,365.0 338.6,368.4M329.8,356.6 330.3,360.6 331.1,364.4M331.1,364.4 335.1,366.0 338.6,368.4M512.5,346.3 512.1,350.0 507.6,351.4 507.3,355.2 505.6,358.1M494.3,345.9 496.9,348.5 496.4,352.6 498.7,355.4M505.6,358.1 501.9,357.4 498.7,355.4M362.4,391.6 360.5,387.7 360.7,383.3M373.1,376.9 375.5,378.4M362.4,391.6 365.4,392.1 368.6,391.7 371.9,391.3 374.7,393.4M375.5,378.4 375.6,381.5 376.1,384.6 376.3,387.8 377.0,390.8M374.7,393.4 377.0,390.8M362.4,391.6 360.3,394.6 358.4,397.7M362.2,411.0 365.3,408.8 368.8,407.7 372.7,407.2 375.9,405.3M374.7,393.4 375.0,396.3 375.0,399.4 376.5,402.2 375.9,405.3M384.1,417.7 381.8,414.4 381.4,410.5 379.8,406.9M375.9,405.3 379.8,406.9M375.7,361.7 374.5,362.7M375.7,361.7 379.4,362.3 382.4,364.9 385.4,367.3 389.5,367.0M375.5,378.4 378.6,378.4 381.5,377.0 384.5,376.6M389.5,367.0 386.8,369.7 385.0,372.8 384.5,376.6M485.9,494.8 482.2,495.1 478.5,494.8 475.0,496.6M474.6,508.8 474.0,504.7 472.5,500.8M475.0,496.6 472.5,500.8M526.2,458.9 525.2,458.2M513.1,462.6 513.1,462.5M525.2,458.2 522.4,459.9 518.8,459.3 516.0,460.9 513.1,462.5M379.8,406.9 382.2,403.9 385.7,402.7 388.5,400.3 392.4,399.9M390.7,418.4 392.0,415.5 395.6,414.8 396.1,411.0 399.3,409.9M399.3,409.9 397.4,407.5 395.2,405.3 394.9,401.9 392.4,399.9M429.4,322.1 427.7,325.7 427.7,329.5 427.7,333.4M408.4,328.0 409.6,332.2 412.5,335.4M412.5,335.4 415.6,335.5 418.7,335.4 421.5,333.5 424.7,334.2 427.7,333.4M447.3,335.0 444.4,336.2 441.7,337.6 438.7,338.3 436.3,340.4M436.3,340.4 432.3,339.3 429.1,336.6M427.7,333.4 429.1,336.6M297.4,593.5 300.7,594.3 303.8,593.0 307.0,592.3 310.3,592.5M315.2,574.1 315.6,574.9M315.6,574.9 315.9,578.2 313.9,580.8 313.7,584.0 312.3,586.7 310.4,589.4 310.3,592.5M309.4,613.8 310.6,610.2 312.7,607.2 313.9,603.7 316.0,600.6M294.7,609.6 293.3,607.4M310.3,592.5 313.1,594.5 314.4,597.7 316.0,600.6M257.2,644.3 257.7,643.4M284.0,654.6 283.6,651.1 281.6,648.0 280.2,644.7 279.9,641.1M257.7,643.4 260.8,642.0 264.1,643.1 267.3,642.7 270.5,642.7 273.5,641.2 276.7,640.7 279.9,641.1M284.8,631.1 284.6,631.2M274.1,605.1 273.8,608.7 274.6,612.2 275.1,615.7 274.6,619.3 274.8,622.9M274.8,622.9 276.9,625.4 281.0,625.5 282.3,629.0 284.6,631.2M279.9,641.1 280.2,637.2 282.7,634.4 284.6,631.2M228.7,664.4 228.3,661.2 226.8,658.2 226.6,654.9 226.3,651.7 226.3,648.4M206.2,666.5 206.8,663.1 207.7,659.8 208.4,656.4 207.2,652.8 207.1,649.3 208.8,646.1M226.3,648.4 223.1,648.5 220.1,647.2M249.2,648.6 246.5,647.1 243.4,646.7 240.3,646.1 237.9,644.0 234.9,643.2 232.0,642.2M226.3,648.4 229.7,645.8 232.0,642.2M190.2,647.3 193.2,645.7 196.9,647.3 199.7,645.0 202.9,644.3 206.1,643.8M255.1,614.3 256.4,617.6 256.8,621.2 257.6,624.7M255.1,614.3 252.1,612.7 248.9,611.4 246.1,609.2 242.6,608.6M242.6,608.6 241.0,611.2 239.8,614.0 238.9,617.1 237.2,619.7 235.7,622.3 233.7,624.7 232.5,627.6M232.5,627.6 235.6,628.6 238.7,629.2 241.9,629.8 245.2,628.6 248.3,629.2 251.5,629.5 254.7,629.9M257.6,624.7 254.7,629.9M264.8,603.6 262.9,606.7 259.7,608.7 257.4,611.5 255.1,614.3M274.8,622.9 271.4,623.9 268.0,624.2 264.5,624.0 260.9,622.9 257.6,624.7M240.7,603.9 242.6,608.6M232.4,627.6 233.3,631.3 230.2,634.9 231.0,638.5 232.0,642.2M257.7,643.4 256.5,640.1 254.8,637.0 256.6,633.0 254.7,629.9M232.4,627.6 232.5,627.6M220.2,504.5 221.0,506.1M220.2,504.5 217.6,502.3 214.3,501.6 211.4,499.8 208.5,498.2M221.0,506.1 218.8,508.7 217.4,511.9 214.9,514.4 213.1,517.3 211.8,520.5M208.5,498.2 205.8,500.0 202.7,500.9 199.6,501.9 197.1,504.1M197.1,504.1 198.5,507.5 196.2,511.3 197.5,514.7 200.2,518.0 199.0,521.7M211.8,520.5 208.0,521.5 204.1,522.3 200.3,523.1M199.0,521.7 200.3,523.1M225.8,488.3 223.8,491.2 222.9,494.5 223.2,498.3 219.7,500.7 220.2,504.5M230.6,508.9 227.4,507.9 224.2,506.9 221.0,506.1M206.6,482.3 207.7,485.4 205.0,488.9 206.4,492.0 207.9,495.0 208.5,498.2M226.0,532.4 223.7,530.3 222.3,527.2 219.1,526.1 215.8,525.3 213.8,522.9 211.8,520.5M190.3,499.4 193.3,502.3 197.1,504.1M180.1,517.5 183.0,519.3 186.1,520.2 189.5,519.7 192.8,519.7 196.0,520.2 199.0,521.7M199.6,526.3 200.3,523.1M303.7,392.4 307.2,391.4 310.8,391.8 314.3,391.0M299.0,402.7 302.2,402.2 305.2,403.1 308.2,404.0 311.2,404.3 314.2,405.2M314.3,391.0 313.8,394.5 314.2,398.1 312.7,401.6 314.2,405.2M319.4,418.9 320.0,415.4 320.9,411.8M314.2,405.2 316.0,407.8 318.5,409.7 320.9,411.8M340.9,407.9 337.7,408.0 334.5,408.1 331.3,408.8 328.2,409.8 324.9,408.6M320.9,411.8 324.9,408.6M315.7,382.3 316.7,379.4 318.7,376.8 318.6,373.6 319.0,370.5M315.7,382.3 312.6,380.3 308.9,380.6 305.2,380.6 302.2,378.4M302.2,378.4 301.8,373.1M301.8,373.1 304.1,371.0 307.6,371.0 309.7,368.6 313.1,368.4 315.0,365.7M319.0,370.5 316.7,368.4 315.0,365.7M317.9,387.2 314.3,391.0M298.7,383.2 302.2,378.4M317.9,387.2 315.7,382.3M298.8,369.9 301.8,373.1M314.7,362.2 315.0,365.7M331.1,364.4 328.2,365.9 326.2,368.4 324.0,370.7M324.0,370.7 319.0,370.5M308.9,331.9 312.0,333.1 315.1,334.0 318.0,335.5 320.6,337.6M308.9,331.9 311.6,330.2 314.0,328.2 317.1,327.1 317.3,322.5 320.7,321.6M320.6,337.6 323.3,336.1 324.8,333.3 326.7,330.9M320.7,321.6 322.6,324.8 324.5,327.9 326.7,330.9M307.3,332.1 308.9,331.9M321.6,343.1 320.6,337.6M321.2,317.3 320.7,321.6M332.5,331.6 332.2,334.8 334.1,337.8 332.8,341.1 333.7,344.2M332.5,331.6 326.7,330.9M339.8,326.7 335.5,328.2 332.5,331.6M345.8,342.9 345.3,344.2M345.8,342.9 348.3,340.8 351.8,340.4 353.5,336.9 356.2,335.1 359.6,334.3M345.3,344.2 347.3,346.6 349.7,348.4 353.0,348.9 355.3,351.0 357.8,352.6M359.6,334.3 360.0,337.5 361.5,340.7 358.6,344.2 361.2,347.2 361.3,350.4M361.3,350.4 359.3,352.5M359.3,352.5 357.8,352.6M341.1,326.7 343.6,329.5 341.3,333.6 343.1,336.6 344.7,339.7 345.8,342.9M338.2,348.7 341.8,346.6 345.3,344.2M361.1,331.3 359.6,334.3M344.5,360.0 348.9,360.7M348.9,360.7 351.0,358.6 352.6,355.8 355.9,354.9 357.8,352.6M372.8,348.8 369.2,350.7 365.0,348.6 361.3,350.4M363.6,362.5 363.0,358.8 359.8,356.2 359.3,352.5M375.7,361.7 376.6,357.5 376.6,353.3M353.4,368.5 351.6,366.1 350.4,363.3 348.9,360.7M331.1,378.1 333.7,376.0 337.6,376.4 339.9,373.6M331.1,378.1 330.2,381.9 328.5,385.5 328.2,389.5M341.3,374.5 343.1,377.3 342.5,380.8 343.6,383.8 344.8,386.7M341.3,374.5 339.9,373.6M328.3,389.6 328.2,389.5M328.3,389.6 331.6,390.8 335.1,391.5 338.7,391.5 342.2,392.3M342.2,392.3 343.0,389.3 344.8,386.7M324.0,370.7 326.5,373.0 330.5,374.0 331.1,378.1M338.6,368.4 339.9,373.6M317.9,387.2 321.5,387.2 324.7,388.8 328.2,389.5M351.5,372.2 348.3,374.0 344.8,374.2 341.3,374.5M356.0,381.8 352.1,380.7 350.3,384.2 347.2,384.7 344.8,386.7M324.9,408.6 325.8,405.5 325.6,402.2 324.0,398.6 327.3,395.9 328.8,393.0 328.3,389.6M343.3,394.4 342.2,392.3M470.7,341.5 469.3,344.4 469.7,347.7M489.4,344.9 486.1,346.4 484.4,350.1 481.2,351.8M481.2,351.8 478.6,350.0 475.8,348.7 472.2,349.7 469.7,347.7M499.1,375.0 500.7,371.4 502.7,368.2 506.5,366.6 509.3,364.2M499.1,375.0 500.1,378.6 500.7,382.3 501.8,385.9M511.9,385.9 512.2,381.7 515.9,379.2 516.9,375.3M511.9,385.9 508.1,386.0 504.9,388.0M516.9,375.3 514.4,373.0 512.7,370.1 511.4,367.1 509.7,364.3M501.8,385.9 504.9,388.0M509.7,364.3 509.3,364.2M528.0,370.7 525.3,375.3M515.3,362.2 509.7,364.3M525.3,375.3 521.1,375.6 516.9,375.3M505.6,358.1 508.1,360.7 509.3,364.2M525.3,375.3 526.3,377.3M511.9,385.9 514.9,387.4M390.5,350.3 391.4,351.5M389.5,367.0 391.3,366.2M391.4,351.5 392.0,355.2 391.1,358.9 390.2,362.5 391.3,366.2M439.9,460.1 440.3,456.5 438.8,453.3 438.1,450.0M439.9,460.1 443.4,463.2M443.4,463.2 446.5,462.2 449.9,461.9 452.7,460.1 455.4,458.3M440.8,446.0 438.1,450.0M440.8,446.0 443.8,446.2 446.9,445.7 449.9,444.9 453.0,446.2 456.0,445.1M456.0,445.1 455.0,448.4 456.3,451.8 456.4,455.1 455.4,458.3M421.5,465.8 421.3,462.8 420.6,459.7 420.5,456.7 420.8,453.7 424.1,450.9 422.3,447.8M421.5,465.8 424.6,464.9 427.7,464.0 430.8,463.1 433.7,461.7 436.8,460.8 439.9,460.1M422.3,447.8 425.7,447.1 428.6,448.9 431.8,449.2 434.9,449.9 438.1,450.0M421.1,466.3 421.5,465.8M424.4,478.6 428.1,479.1 431.0,476.6 434.3,475.5 437.6,474.7 441.1,474.4 444.4,473.7M444.4,473.7 443.0,470.3 444.0,466.7 443.4,463.2M429.0,490.6 432.4,489.0 436.2,490.1 439.7,489.1 443.3,488.8M444.4,473.7 447.0,476.5M447.0,476.5 446.4,479.7 444.1,482.3 443.0,485.4 443.3,488.8M452.0,502.3 452.2,501.8M443.3,488.8 444.2,492.0 448.1,493.1 448.8,496.5 450.0,499.5 452.2,501.8M472.5,500.8 469.4,501.0 466.3,501.3 463.2,499.6 460.1,499.7 457.1,500.3 454.0,500.6M452.2,501.8 454.0,500.6M504.9,455.9 508.2,457.5 510.5,460.2 513.1,462.5M504.9,455.9 502.2,457.7 498.7,458.0 496.0,459.8 493.8,462.5 490.8,463.7M493.3,475.9 492.9,472.8 491.2,470.0 490.3,467.0 490.8,463.7M504.9,455.9 505.1,451.5 505.0,447.2M525.2,458.2 524.7,455.1 525.3,451.8 524.0,448.8 521.8,446.0 522.6,442.6M522.6,442.6 519.3,441.9 516.9,444.7 513.9,445.1 510.8,445.5 507.7,445.3 505.0,447.2M456.0,445.1 459.1,442.0M440.8,446.0 437.9,443.1 439.8,439.2 439.3,435.8 437.9,432.6M437.9,432.6 442.1,432.5 443.0,428.4M443.0,428.4 446.8,429.2 450.7,429.2 454.5,428.4M459.1,442.0 457.5,438.7 456.4,435.3 455.1,432.0 454.5,428.4M377.0,390.8 380.7,388.5 384.3,390.2 387.8,391.5 391.5,391.4M392.4,399.9 392.5,396.8 393.3,393.9M391.5,391.4 393.3,393.9M384.5,376.6 386.2,379.8 390.4,381.1 391.3,384.9M391.5,391.4 390.7,388.2 391.3,384.9M332.0,583.5 330.1,586.4 330.6,589.9 329.2,593.0 327.8,596.1 328.2,599.6M332.0,583.5 337.0,584.3 340.3,580.5M340.6,580.5 340.3,580.5M340.6,580.5 341.9,583.5 342.9,586.6 345.0,589.0 347.7,591.1 348.6,594.2 352.2,595.8 351.4,600.0 353.5,602.5M353.3,602.7 350.1,603.1 347.0,603.1 343.8,602.4 340.7,602.9 337.6,603.4 334.4,603.1 331.3,602.8M331.3,602.8 328.2,599.6M315.6,574.9 317.8,577.5 320.9,578.0 323.4,579.9 327.0,579.8 330.1,580.3 332.0,583.5M316.0,600.6 319.1,600.9 322.1,599.6 325.1,598.8 328.2,599.6M337.9,559.3 337.3,562.5 339.0,565.3 338.7,568.4 339.4,571.4 339.5,574.4 339.9,577.4 340.3,580.5M357.4,574.9 354.4,577.1 350.2,575.8 347.2,577.8 343.8,578.9 340.6,580.5M330.6,616.3 330.6,612.9 329.8,609.5 331.5,606.2 331.3,602.8M225.9,624.7 223.0,626.5 220.1,628.4 217.2,630.2 213.3,630.1 210.9,632.8 207.8,634.1M225.9,624.7 223.9,621.9 223.2,618.5 221.5,615.5 219.1,612.9 218.2,609.6M205.2,610.9 208.5,611.4 211.5,609.0 214.9,609.9 218.2,609.6M205.2,610.9 204.8,614.1 203.0,616.9 200.4,619.4 203.1,623.6 200.6,626.1M200.6,626.1 202.2,629.5 204.6,632.2 207.8,634.1M232.4,627.6 228.4,627.8 225.9,624.7M207.8,634.8 207.8,634.1M220.0,606.7 218.2,609.6M196.2,602.1 199.1,603.5 200.6,606.6 203.5,608.1 205.2,610.9M182.8,628.0 186.4,627.8 189.9,627.7 193.5,627.1 197.0,626.1 200.6,626.1M521.2,420.3 526.6,419.3M521.2,420.3 521.5,424.1 517.8,427.0 518.7,430.9M524.0,439.4 521.7,436.9 519.5,434.4 518.7,430.9M524.0,439.4 527.5,438.8 530.9,438.2 534.3,437.0M522.6,442.6 524.0,439.4M598.9,417.8 595.0,419.9 590.6,420.5M461.0,486.0 458.2,483.8 458.7,479.7 455.9,477.5M461.0,486.0 464.1,487.7 467.3,488.5 470.6,486.3M455.9,477.5 458.2,475.2 460.8,473.2 463.5,471.2 464.8,468.0 467.0,465.6M470.6,486.3 472.5,483.9 475.1,482.0 476.0,478.8M476.0,478.8 474.1,476.3 473.3,473.1 469.9,471.5 468.8,468.4 467.5,465.6M467.0,465.6 467.5,465.6M447.0,476.5 450.0,476.6 452.9,477.8 455.9,477.5M454.0,500.6 455.8,497.9 456.1,494.5 455.8,490.7 461.6,489.9 461.0,486.0M475.0,496.6 473.0,493.4 471.9,489.8 470.6,486.3M455.4,458.3 458.1,460.5 460.8,462.6 463.6,464.5 467.0,465.6M488.6,479.1 485.4,479.2 482.3,479.8 479.1,478.9 476.0,478.8M488.1,461.1 484.8,460.6 481.5,461.0 478.1,460.1 474.8,460.1 471.5,461.4M471.5,461.4 467.5,465.6M490.8,463.7 488.1,461.1M470.8,444.1 472.0,447.5 471.2,451.0 470.0,454.6 471.2,458.0 471.5,461.4M459.1,442.0 462.7,443.2 466.6,442.7 470.3,443.6M470.8,444.1 470.3,443.6M470.3,443.6 470.9,440.5 472.8,437.7 474.9,435.0 474.6,431.6 474.6,428.3 475.5,425.3M454.5,428.4 456.6,424.8 459.4,421.7M475.5,425.3 473.0,423.6 470.5,421.8 467.8,420.2M467.8,420.2 463.9,422.2 459.4,421.7M396.1,428.3 399.6,428.1 403.1,427.9 406.5,426.6M407.0,445.9 412.1,442.8M406.5,426.6 407.3,429.9 408.4,433.2 409.7,436.4 410.6,439.7 412.1,442.8M437.9,432.6 434.4,431.1 430.8,430.1 426.9,431.2M422.3,447.8 420.1,445.7 418.6,443.1M426.9,431.2 424.5,433.9 422.0,436.6 420.6,440.0 418.6,443.1M412.1,442.8 415.3,444.0 418.6,443.1M472.6,365.8 476.5,365.5 479.7,363.5 483.2,362.2M472.6,365.8 471.8,369.6 470.7,373.2 468.2,376.3M468.2,376.3 468.4,376.6M468.4,376.6 471.3,377.2 474.3,377.5 477.3,377.7 480.2,379.2 483.3,378.8M483.3,378.8 486.0,376.8 489.0,375.2 489.7,371.5M489.7,371.5 487.1,368.3 487.2,364.3M487.2,364.3 483.2,362.2M487.0,390.5 486.1,393.6 484.2,396.0 482.2,398.3M487.0,390.5 484.4,388.1 484.6,384.8 482.9,382.1 483.3,378.8M482.2,398.3 480.8,394.8 476.9,394.1 475.2,390.8 472.3,389.1 469.1,387.5 467.3,384.4M467.3,384.4 467.9,380.5 468.4,376.6M501.8,385.9 498.8,386.6 495.8,387.5 492.4,387.0 490.9,392.5 487.0,390.5M499.1,375.0 495.9,373.9 493.2,371.7 489.7,371.5M498.7,355.4 495.7,357.5 492.6,359.4 489.3,361.1 487.2,364.3M481.2,351.8 481.6,355.3 483.4,358.6 483.2,362.2M504.2,416.7 500.8,415.6 497.8,413.6 494.5,412.3 491.1,411.2M504.2,416.7 506.9,415.3 508.9,412.5 512.5,412.9 515.1,411.1M505.2,398.2 503.0,401.2 500.2,403.5 495.6,403.2 492.8,405.5 490.5,408.5M505.2,398.2 507.3,401.0 511.3,401.8 512.9,405.2 515.8,407.2M490.5,408.5 491.1,411.2M515.8,407.2 515.1,411.1M505.0,429.7 505.1,426.4 505.8,423.1 506.3,419.8 504.2,416.7M505.0,429.7 508.4,429.8 511.9,429.7 515.2,431.0 518.7,430.9M521.2,420.3 521.5,415.7 517.0,414.2 515.1,411.1M482.2,400.3 482.2,398.3M504.9,388.0 505.1,391.4 505.3,394.8 505.2,398.2M482.2,400.3 484.7,403.2 486.9,406.6 490.5,408.5M524.0,401.2 521.0,402.8 518.8,405.6 515.8,407.2M485.1,424.5 486.8,421.2 488.0,417.8 488.2,413.9 491.1,411.2M475.5,425.3 478.6,423.8 481.9,425.3 485.1,424.5M482.2,400.3 478.5,401.5 475.5,403.9 471.9,405.3M471.9,405.3 472.2,408.6 471.0,411.5 468.8,414.1 468.1,417.1 467.8,420.2M501.3,443.5 502.0,440.5 501.9,437.4 503.7,434.6 502.9,431.4M501.3,443.5 498.0,445.0 494.5,444.7 491.0,444.4 487.7,445.4M502.9,431.4 499.8,430.3 497.0,428.2 493.3,429.8 490.8,426.6 487.3,427.5M487.3,427.5 489.2,430.9 486.6,434.3 485.5,437.7 487.3,441.1 486.8,444.6M487.7,445.4 486.8,444.6M505.0,447.2 501.3,443.5M505.0,429.7 502.9,431.4M488.1,461.1 488.7,457.9 487.8,454.8 488.4,451.7 489.1,448.5 487.7,445.4M485.1,424.5 487.3,427.5M470.8,444.1 474.0,444.0 477.2,444.1 480.4,444.9 483.6,444.3 486.8,444.6M395.5,367.5 397.4,370.2 400.5,372.1 401.1,375.7M391.3,366.2 395.5,367.5M391.3,384.9 393.8,382.7 396.0,380.3 399.1,378.9 401.0,376.2M401.1,375.7 401.0,376.2M456.8,371.9 455.5,368.6 455.0,365.1 455.2,361.6M456.8,371.9 460.2,371.6 462.3,374.6 465.6,374.5 468.2,376.3M472.6,365.8 471.2,362.5 467.5,360.5 466.6,356.8 465.0,353.5M455.2,361.6 457.4,359.3 459.1,356.4 462.0,354.9 465.0,353.5M469.7,347.7 465.4,351.4M451.7,336.5 453.9,340.0 453.0,344.1M453.0,344.1 456.4,345.5 459.1,348.0 463.1,348.2 465.4,351.4M465.4,351.4 465.0,353.5M391.4,351.5 394.8,353.1 398.6,352.3 402.4,351.9 405.8,353.9M395.5,367.5 398.2,365.5 400.8,363.4 404.4,362.7 406.6,360.1M406.6,360.1 407.0,355.6M405.8,353.9 407.0,355.6M397.6,340.2 400.7,341.5 404.3,341.2 407.1,343.5M405.8,353.9 407.5,350.6 406.1,346.9 407.1,343.5M412.5,335.4 411.2,340.6M407.1,343.5 411.2,340.6M436.3,340.4 437.4,343.7 438.2,347.2 439.1,350.6 439.3,354.1M453.0,344.1 451.2,346.6 447.7,347.5 447.2,351.2 444.9,353.2 442.8,355.5M439.3,354.1 442.8,355.5M455.2,361.6 451.2,362.3 448.7,360.1 446.8,356.4 443.3,356.2M448.2,376.8 451.7,376.2 453.4,372.6 456.8,371.9M448.2,376.8 444.3,376.3 440.8,374.4M440.8,374.4 442.0,371.4 440.9,368.2 441.8,365.2 442.3,362.2 443.9,359.4 443.3,356.2M442.8,355.5 443.3,356.2M460.4,390.9 456.8,391.1 453.7,389.2 450.3,388.6M460.4,390.9 459.2,394.4 460.9,397.4 461.7,400.6M461.7,400.6 458.9,402.2 456.8,404.8 454.1,406.5 451.2,408.0M450.3,388.6 448.4,391.9 445.5,394.0 442.3,395.9M442.3,395.9 442.6,399.2 442.8,402.6 443.3,405.9M443.3,405.9 446.8,408.7 451.2,408.0M467.3,384.4 464.6,386.1 461.6,387.6 460.4,390.9M448.2,376.8 448.0,379.9 450.8,382.4 447.8,386.0 450.3,388.6M471.9,405.3 468.9,402.9 465.3,401.7 461.7,400.6M459.4,421.7 456.1,420.0 455.3,416.7 455.3,413.0 452.3,411.1 451.2,408.0M438.1,410.2 439.7,413.0 439.7,416.3 441.0,419.2 441.0,422.4 443.1,425.1 443.0,428.4M438.1,410.2 440.8,408.2 443.3,405.9M399.3,409.9 402.1,410.4M406.5,426.6 409.4,422.2M402.1,410.4 404.0,413.3 405.2,416.6 408.1,418.9 409.4,422.2M426.9,431.2 425.7,428.3 422.9,426.1 423.3,422.5 421.8,419.8M409.4,422.2 412.5,421.8 415.7,421.4 418.6,419.9 421.8,419.8M438.1,410.2 435.0,411.2 431.7,409.8 428.6,411.0 425.5,411.5M425.5,411.5 423.8,414.0 423.1,417.0 421.8,419.8M442.3,395.9 439.7,393.9 436.0,393.3 434.1,390.1M440.8,374.4 436.2,375.8M434.1,390.1 435.2,386.6 435.2,382.9 435.1,379.3 436.2,375.8M406.6,360.1 409.6,361.5 411.0,364.2 412.8,366.7 414.3,369.3M401.1,375.7 404.4,374.4 408.3,374.8 411.3,372.6 414.4,370.9M414.3,369.3 414.4,370.9M418.1,353.5 421.0,348.6M418.1,353.5 419.9,357.1 421.1,360.9M421.1,360.9 425.2,360.7 429.1,362.0M422.4,348.0 421.0,348.6M422.4,348.0 424.8,350.9 427.8,352.8 432.2,352.5 434.5,355.6M434.5,355.6 432.6,359.5 429.1,362.0M407.0,355.6 410.4,353.4 414.4,354.4 418.1,353.5M411.2,340.6 413.3,343.0 415.5,345.2 419.4,345.4 421.0,348.6M414.3,369.3 417.0,366.8 419.3,364.0 421.1,360.9M414.4,370.9 417.0,373.6 419.2,376.6M419.2,376.6 423.0,375.3 426.8,374.2 430.7,373.3M430.7,373.3 430.3,369.5 430.5,365.7 429.1,362.0M429.1,336.6 428.4,340.0 426.8,342.9 422.8,344.4 422.4,348.0M439.3,354.1 434.5,355.6M436.2,375.8 433.2,375.2 430.7,373.3M421.9,405.9 418.0,406.2 414.8,403.7 411.1,403.4M421.9,405.9 422.2,402.4 422.6,398.9 424.1,395.6 424.9,392.1M411.1,403.4 410.0,400.4 409.8,397.1 408.5,394.2 406.8,391.4M424.9,392.1 422.3,390.0 418.9,388.7 417.6,385.2M417.6,385.2 414.9,387.1 411.1,386.5 408.6,388.9M406.8,391.4 408.6,388.9M402.1,410.4 405.8,409.0 408.2,405.8 411.1,403.4M425.5,411.5 424.2,408.4 421.9,405.9M434.1,390.1 431.1,391.1 428.2,392.2 424.9,392.1M393.3,393.9 396.7,393.5 400.0,392.5 403.5,392.5 406.8,391.4M419.2,376.6 417.2,380.7 417.6,385.2M401.0,376.2 404.5,378.5 405.2,382.3 408.4,384.7 408.6,388.9M175.8,117.0 190.0,114.0 205.0,116.0 222.0,113.0 242.4,112.8 258.0,103.0 273.6,94.1M273.6,94.1 276.0,105.0 282.0,116.0 288.1,123.2 298.0,130.0 308.9,135.7 313.0,150.0 318.0,162.0M242.4,112.8 246.0,122.0 244.0,135.0 250.0,150.0 252.0,165.0" fill="none" stroke="#ffffff" stroke-opacity="0.9" stroke-width="0.9"/>
</g>
<g fill="none" stroke="#7f7f7f" stroke-width="1.5" stroke-linejoin="round"><path d="M194.9,172.6 196.4,174.6 199.4,174.1 200.6,176.5 202.8,177.3 204.8,178.6 206.6,180.0 208.7,180.6 211.1,180.5 213.0,181.9 215.2,182.3 217.2,183.3 219.9,183.2 221.0,180.7 222.7,179.2 224.6,177.8 226.5,176.6 227.2,174.2 228.1,171.8 229.3,169.6 230.7,167.4 231.5,165.0 233.7,164.1 236.1,163.7 238.1,162.4 240.4,161.7 242.8,161.5 244.8,160.0 247.0,161.2 249.6,161.8 251.9,162.9 254.1,164.2 256.5,165.0 258.6,166.5 261.3,166.3 263.6,167.0 265.9,168.3 268.5,168.2 270.8,169.2 273.1,170.0 274.8,171.5 276.8,172.6 278.8,173.6 280.6,175.0 283.3,174.8 284.3,177.5 286.5,178.3 289.1,178.7 291.7,179.2 293.9,180.9 296.4,181.6"/><path d="M217.2,183.3 217.9,185.6 219.4,187.7 220.6,189.8 221.2,192.2 222.2,194.4 223.2,196.6 223.8,198.9 225.1,200.7 226.5,202.5 227.2,204.6 228.9,206.3 229.9,208.3 231.9,209.7 233.0,211.8 234.7,213.5 236.6,214.9 238.2,216.6 240.1,218.5 241.4,220.8 244.0,222.1 244.8,224.9 246.2,227.6 248.2,229.9 249.7,231.7 252.1,232.7 253.2,234.9 255.3,235.8 257.5,236.1 259.3,237.7 261.5,238.2 264.0,237.3 266.5,238.2"/><path d="M266.5,238.2 266.8,235.8 268.1,233.6 269.0,231.4 268.2,228.7 269.8,226.6 270.7,224.3 272.1,222.2 273.1,219.9 275.2,218.8 277.8,218.9 279.6,216.9 282.1,216.7 284.1,215.3 286.5,214.9 288.9,215.9 291.5,215.7 294.0,216.0 296.4,216.6 297.5,213.7 299.8,211.6"/><path d="M176.6,248.2 178.6,249.7 180.9,250.2 183.1,251.0 185.3,252.0 187.6,252.5 189.9,253.2 191.3,255.3 192.4,257.5 193.2,259.9 195.5,259.5 197.9,260.5 200.2,259.2 202.6,259.6 204.9,259.9 207.3,258.1 209.9,256.5 212.2,255.8 214.4,255.1 216.4,253.5 218.5,252.4 221.0,252.3 223.2,251.5 225.5,251.2 227.5,250.2 229.5,249.1 231.5,248.1 233.7,247.5 235.7,246.4 237.9,246.1 239.9,244.9 240.8,242.8 242.3,241.1 243.4,239.2 244.9,237.4 245.9,235.5 248.0,234.1 248.2,231.6"/><path d="M193.2,259.9 194.9,263.2 197.0,265.4 199.9,266.5 202.0,267.7 204.6,266.7 206.6,268.0 208.8,268.4 210.9,269.5 213.2,269.8 215.0,272.0 214.4,275.0 215.3,277.5 216.6,279.8 218.7,281.1 220.2,282.8 221.8,284.5 223.2,286.5 224.6,288.3 226.5,289.8 226.2,292.2 227.7,294.2 227.9,296.5 228.7,298.7 228.6,301.1 229.9,303.1 231.9,304.5 234.0,305.9 236.5,306.5 237.8,304.5 239.8,303.1 241.3,301.2 243.2,299.8 245.2,301.0 247.5,301.2 249.8,301.5 252.1,303.1 254.4,304.7 256.5,306.5 259.0,306.7 261.5,306.5"/><path d="M269.9,240.0 270.9,242.5 271.6,245.1 271.6,247.9 272.5,250.4 271.7,253.1 273.3,255.6 273.7,258.2 273.8,260.8 276.2,259.4 278.8,258.5 281.6,258.2 283.6,259.5 285.6,260.6 287.8,261.3 289.9,262.5 292.0,263.4 293.9,266.0 295.9,268.6 298.1,270.0 300.8,270.6 302.8,272.3 305.0,273.8 307.2,274.5 309.4,274.8 311.6,275.5 313.8,276.0 315.9,276.9 318.0,277.7 319.5,279.7 321.6,281.0 323.2,282.9"/><path d="M266.0,240.0 264.5,241.6 262.6,242.9 261.1,244.5 259.2,245.7 258.2,247.8 258.3,250.2 256.3,251.8 256.1,254.1 255.0,256.1 254.3,258.2 253.9,260.8 253.8,263.4 253.8,266.0 254.3,268.6 254.6,271.2 254.2,273.9 255.4,276.4 255.6,279.0 256.5,281.1 257.0,283.5 258.2,285.5 258.9,287.6 258.1,290.0 259.5,292.0 260.4,294.8 261.2,297.6 263.4,299.8 262.5,302.4 261.8,305.1 260.8,307.6 260.3,310.2 259.6,312.7 259.5,315.4"/><path d="M249.1,282.9 251.6,282.0 254.3,281.6 256.8,283.7 259.5,285.5 259.1,287.7 257.9,289.7 258.2,292.0 255.6,292.3 253.0,292.0 251.4,289.7 249.1,288.1 248.8,285.5 249.1,282.9"/><path d="M259.5,315.4 261.2,317.3 262.4,319.4 263.9,321.4 264.6,323.8 266.0,325.8 267.7,327.5 269.9,328.5 271.7,329.9 273.8,331.0 277.7,332.6"/><path d="M415.6,318.0 416.2,320.9 418.1,323.3 419.5,325.8 420.5,327.9 421.7,329.9 423.3,331.7 423.4,334.3 424.7,336.2 424.1,338.6 421.9,339.9 420.8,342.1 419.5,344.0 420.4,346.3 422.1,348.1 423.7,350.0 424.6,352.4 426.0,354.4 427.8,356.1 429.2,358.0 430.7,359.9 432.3,361.6 433.8,363.5 431.6,364.6 429.4,365.8 427.0,366.5 424.7,367.4 422.8,369.0 420.4,368.8 418.4,369.9 415.9,369.5 413.7,370.1 411.7,371.3 410.3,373.6 407.7,374.5 405.8,376.2 403.8,377.8 404.0,380.2 403.0,382.5 403.2,384.8 403.6,387.2 402.5,389.5 402.2,391.7 401.7,393.8 401.2,396.0"/><path d="M388.2,390.8 389.7,392.4 391.7,393.5 392.7,395.7 394.2,397.3 396.0,398.6 398.4,399.7 400.3,401.5 402.3,403.3 404.5,404.6 406.4,406.4 407.1,408.9 409.0,410.6 410.7,412.5 412.0,414.6 413.0,416.9 415.2,418.6 416.7,421.2 419.5,422.1 420.2,424.7 420.7,427.3 421.2,430.0 422.1,432.5 423.0,435.0 422.9,437.8 424.7,440.0"/><path d="M263.2,320.0 264.7,322.5 265.5,325.3 267.1,327.8 265.1,329.7 263.2,331.7 265.8,332.0 268.4,331.2 271.0,331.7 273.4,333.1 276.2,332.9 278.8,333.7 281.4,334.3 283.7,335.0 285.7,336.1 287.5,337.6 289.5,338.9 291.8,339.5 293.7,341.4 295.7,343.2 297.9,344.6 300.2,346.0 300.7,348.6 300.8,351.3 301.7,353.8 299.9,355.8 298.6,358.2 297.0,360.3 295.8,362.3 294.7,364.4 294.4,366.8 291.8,367.6 289.3,368.7 286.6,369.4 285.4,371.4 284.1,373.4 284.0,375.9 284.1,378.5 284.0,381.1 284.0,383.7 282.1,386.3 280.1,388.9 280.4,391.7 282.6,393.8 282.7,396.7 284.8,398.6 286.7,400.6 289.2,401.9 292.5,401.9 295.7,402.7 297.6,400.0 298.3,396.7 297.2,394.4 295.5,392.5 294.4,390.2 293.8,387.9 292.4,385.8 292.2,383.4 291.8,381.1 293.8,378.9 294.0,375.7 295.7,373.3 297.9,375.3 300.9,375.9 303.5,377.2 306.0,378.3 308.7,378.6 311.3,379.3 313.6,377.5 316.5,377.7 318.6,376.4 320.9,375.7 323.0,374.6 325.4,373.9 327.8,373.7 330.3,374.1 330.9,376.2 332.1,378.1 333.3,380.1 333.4,382.4 335.6,381.8 338.0,382.1 340.2,381.2 342.5,381.1 344.7,381.8 347.0,382.4 349.4,382.1 351.7,382.4 353.9,381.4 356.1,380.8 358.5,380.8 360.8,380.3 362.5,381.9 364.6,383.0 366.5,384.4 368.7,385.3 370.5,386.9 372.5,388.1 374.5,389.1 376.3,390.3 378.4,391.1 380.0,392.8"/><path d="M263.2,331.7 262.1,333.8 260.2,335.0 258.9,336.7 257.3,338.2 255.4,339.5 253.7,341.0 252.5,342.9 250.0,343.6 249.1,345.9 248.2,348.0 246.2,349.3 245.0,351.2 244.0,353.3 243.6,355.6 241.9,357.5 241.9,360.0 241.9,362.5 239.8,364.2 239.9,366.9 240.9,369.4 241.1,372.0 242.9,373.9 245.6,374.3 247.6,375.9 250.1,374.7 253.0,375.3 255.3,373.5 258.0,373.3 258.3,375.9 258.2,378.6 259.3,381.1 256.7,382.4 254.1,383.7 251.5,385.0 250.8,387.6 249.8,390.1 249.9,392.9 248.9,395.4 248.4,398.0 248.1,400.6 248.1,403.2 245.9,402.1 243.6,403.2 241.3,403.4 239.1,402.5 236.8,403.0 234.6,402.7 232.2,403.2 229.9,403.9 227.4,404.1 225.3,405.5 222.9,405.8 221.6,408.3 221.3,411.2 219.0,413.1 217.2,411.7 215.9,409.7 217.5,408.0 217.6,405.5 218.6,403.4 219.4,401.3 221.1,399.6 222.0,397.5 222.9,395.4 221.9,392.9 222.3,390.2 221.6,387.6 219.4,386.5 217.2,385.3 214.7,384.9 212.5,383.7 208.6,382.4 205.8,382.5 203.3,384.0 200.8,385.0 200.4,387.6 200.2,390.2 199.6,392.8 198.7,395.3 198.7,398.0 199.2,400.6 199.1,403.3 199.7,405.8 199.8,408.5 200.8,411.0 199.6,413.0 199.1,415.3 199.0,417.8 197.2,419.6 196.1,421.7 195.6,424.0 193.8,425.7 192.0,427.3 190.4,429.2 188.3,430.3 186.1,431.1 183.9,431.8 184.0,434.5 182.6,436.9 182.9,439.6 182.6,442.2 183.3,444.3 184.1,446.4 184.0,448.7 183.7,451.0 184.6,453.1 185.2,455.2 186.8,456.8 187.3,459.2 188.6,461.0 190.0,462.7 191.7,464.3 193.6,465.9 195.6,467.3 197.8,468.4 199.8,469.8 202.1,470.8 204.8,471.3 207.1,473.0 209.9,473.3 212.5,474.0 214.9,475.1 217.4,473.5 219.8,474.9 222.2,475.2 224.7,474.8 227.1,475.3 229.5,475.6 232.0,475.5 232.6,478.2 234.0,480.6 234.6,483.3 236.9,482.0 239.5,481.3 241.9,480.2 244.0,478.5 246.3,477.3 248.4,476.1 250.4,474.9 252.7,474.1 254.2,472.0 256.2,470.7 258.6,470.1 260.6,468.8 262.3,470.8 263.4,473.1 264.5,475.5 266.9,475.6 269.3,475.9 271.7,475.3 274.0,476.2 276.4,475.1 278.8,476.0 281.1,475.8 283.1,474.4 285.4,474.1 287.8,474.5 289.9,473.6 292.1,473.0 294.4,472.9 296.7,472.0 299.1,471.7 301.4,470.8 303.8,470.2 306.1,469.5 308.6,470.3 311.3,469.9 313.9,470.4 316.5,470.8 319.1,471.4 321.3,472.4 323.7,472.9 326.0,473.5 328.5,473.5 330.8,474.0 332.6,475.3 334.0,477.0 336.0,478.1 336.5,475.6 337.7,473.2 338.3,470.8 338.6,468.2 339.2,465.9 340.3,463.9 341.2,461.7 342.8,459.8 344.0,457.8 343.8,455.2 345.9,454.1 348.0,453.1 349.6,451.2 352.2,451.1 354.3,450.0 356.6,448.6 358.6,446.7 361.3,446.0 363.4,444.3 364.9,442.2 367.2,441.2 369.3,439.8 371.2,438.3 371.5,435.8 373.2,433.9 374.1,431.6 374.5,429.2 372.9,426.8 372.5,424.0 370.2,423.6 368.5,421.9 366.3,421.2 364.0,420.7 362.1,419.3 362.0,417.0 362.1,414.6 362.1,412.3 364.7,412.2 367.3,412.7 369.9,412.5 372.5,412.3 374.9,413.5 377.4,413.8 380.0,413.6"/><path d="M388.1,392.4 387.5,395.0 387.0,397.5 386.5,400.1 386.8,402.8 387.8,405.5 389.9,407.8 390.7,410.6 392.8,411.4 395.0,411.5 397.2,411.9 399.3,410.8 400.5,408.7 402.2,407.2 403.7,405.4 404.2,402.8 405.1,400.3 404.8,397.6 405.0,395.0"/><path d="M405.0,395.0 407.6,394.6 410.2,394.5 412.8,393.8 415.4,393.7 417.5,394.5 419.6,395.3 421.6,396.2 423.4,397.6 425.8,397.6 428.4,397.7 431.0,398.3 433.6,398.5 436.2,398.9 438.9,397.9 441.2,395.8 444.0,395.0 446.5,394.0 449.2,393.7 451.9,393.3 454.4,392.4 457.0,391.1 459.5,389.6 462.2,388.5 464.5,389.2 466.3,390.8 468.1,392.2 470.5,392.8 472.6,393.7 475.2,394.2 477.8,394.8 480.4,395.0 482.9,393.7 485.6,393.1 488.2,392.4 489.7,390.5 491.4,388.8 492.9,386.9 494.0,384.8 496.0,383.3 498.3,382.1 500.4,380.6 501.8,378.3 503.8,376.8 506.1,375.7 508.3,374.3 510.4,372.9 511.4,370.7 511.1,368.2 513.0,366.3 513.0,363.8 511.9,361.3 511.8,358.4 510.4,356.0 511.7,353.4 512.8,350.7 514.3,348.2 516.9,346.2 519.5,344.3"/><path d="M507.8,376.8 507.2,379.0 507.8,381.4 507.4,383.6 507.3,385.9 507.7,388.2 506.2,390.4 506.3,392.7 506.4,395.0 505.1,397.1 503.4,398.9 502.9,401.5 501.2,403.3 499.9,405.4 497.8,406.4 496.5,408.2 495.9,410.8 494.7,412.7 492.1,413.2 490.2,414.4 487.7,414.4 485.8,415.8 483.7,416.5 481.4,417.0 479.6,418.4 477.3,418.8 475.2,419.7 472.7,420.1 470.5,421.1 468.1,421.9 465.9,423.1 463.5,423.6 462.8,426.2 462.8,428.8 462.2,431.4 464.5,433.2 466.9,435.0 470.0,435.3 472.0,436.6 474.1,437.6 475.3,439.7 476.8,441.5 478.4,443.2 480.4,444.4 481.3,446.6 483.3,448.1 484.6,450.1 485.6,452.2 486.4,454.5 488.6,455.8 489.1,458.3 490.8,460.0 492.4,461.8 493.7,463.9 495.2,465.7 496.8,467.5 498.6,469.1 499.1,471.4 500.7,473.3 501.2,475.6"/><path d="M403.7,405.4 405.5,408.1 407.6,410.6 409.7,412.2 411.7,413.8 413.5,415.7 416.0,416.7 418.0,418.4 418.7,420.9 419.2,423.5 419.3,426.2 420.7,428.2 421.6,430.5 423.5,432.2 424.1,434.8 425.8,436.6 424.6,438.5 423.7,440.5 423.1,442.7 421.4,444.3 420.1,446.2 419.3,448.3 418.2,450.5 415.7,451.2 413.9,452.7 412.8,454.8 411.4,456.8 410.0,458.8 408.0,460.5 407.1,462.8 406.3,465.2 405.9,467.4 404.7,469.4 404.0,471.5 403.2,473.5 402.4,475.6 401.6,477.9 399.0,478.5 397.9,480.5 396.1,481.8 394.6,483.4 392.5,484.3 390.1,484.8 388.1,486.1 386.1,487.2 383.7,487.5 381.6,488.6 380.5,490.7 380.9,493.0 379.7,495.0 379.8,497.3 379.7,499.6 379.0,501.7 378.8,504.4 380.2,506.8 380.3,509.5 382.3,510.8 384.7,511.0 386.8,512.1 385.3,514.6 384.2,517.3 381.8,516.2 379.8,514.5 378.2,512.2 375.9,511.0 373.8,509.5 371.6,510.4 369.5,511.4 367.3,512.1 367.5,514.7 368.8,517.2 368.6,519.9 370.6,521.6 371.8,523.9 373.6,525.7 375.1,527.8 376.4,530.0"/><path d="M419.3,448.3 421.7,448.3 424.1,448.2 426.5,448.2 428.8,449.0 431.2,448.8 433.6,448.3 435.7,449.8 438.2,450.2 440.5,451.0 442.7,452.2 443.8,454.2 443.7,456.5 444.0,458.7 446.7,458.1 449.2,459.1 451.8,460.0 454.4,460.0 456.8,460.4 459.0,459.8 461.2,458.6 463.5,458.7 464.0,456.1 463.8,453.5 464.8,450.9 464.8,448.3 466.9,449.0 468.8,450.2 470.6,451.7 473.0,451.8 475.2,452.2 476.6,454.4 479.1,454.9 481.1,456.0 483.0,457.4 484.1,459.4 485.6,461.1 487.9,461.9 489.2,463.7 490.8,465.2"/><path d="M111.9,392.5 114.4,392.0 116.7,392.8 119.1,393.5 121.6,393.2 124.0,393.2 126.4,393.0 128.8,393.8 130.9,394.4 133.1,395.0 135.2,395.4 137.4,395.6 139.7,395.4 141.8,396.4 144.3,397.4 147.0,396.9 149.6,397.1 152.2,397.8 154.8,397.7 157.1,398.9 157.9,401.3 159.5,403.1 160.9,405.1 162.6,406.8 163.4,409.1 165.0,410.8 167.2,412.2 167.8,414.6 169.5,416.1 170.9,417.8 172.4,419.3 174.4,420.4 175.6,422.4 178.0,423.1 179.4,425.2 181.4,426.4 183.4,427.6 184.7,429.5 186.6,431.1 186.6,433.9 188.6,435.4 188.7,438.1 186.7,439.6 184.6,441.2 184.5,443.8 183.4,445.8 182.0,448.4 180.8,451.0 182.0,453.5 181.5,456.3 183.3,458.7 183.4,461.4 182.0,463.3 180.7,465.3 179.9,467.5 178.2,469.2 176.5,471.6 175.6,474.4 178.2,473.8 180.8,474.1 183.4,474.4 186.0,474.4 184.4,476.3 182.4,477.7 180.8,479.6 178.8,481.0 177.4,483.2 175.6,484.8 174.5,487.5 173.2,490.1 171.7,492.6 171.2,495.2 170.4,497.8 168.2,498.8 166.6,500.5 164.4,501.5 162.6,503.0 160.0,503.9 157.5,505.1 154.8,505.6 152.2,508.2"/><path d="M335.2,479.0 334.4,481.1 334.8,483.4 333.9,485.5 332.8,487.5 333.5,489.9 332.6,492.0 332.9,494.6 333.8,497.1 333.6,499.8 334.3,502.3 333.9,505.0 334.3,507.6 334.7,510.2 334.6,512.8 334.2,515.5 335.2,518.0 337.3,519.8 339.3,521.7 341.7,523.2 339.8,525.8 337.8,528.4 336.3,530.0 334.9,531.8 333.7,533.7 331.5,534.6 330.0,536.2 328.8,538.7 328.9,541.4 328.7,544.0 330.5,545.5 331.4,547.8 333.7,548.7 335.2,550.5 337.3,551.9 339.4,553.3 341.3,555.0 343.0,557.0 344.4,559.6 344.8,562.6 346.9,564.8 349.2,565.4 351.6,565.7 353.8,566.5 356.0,567.4 358.6,566.0 361.2,564.8"/><path d="M283.2,515.4 286.0,515.5 288.4,517.2 291.0,518.0 293.1,518.7 295.3,519.0 297.4,519.6 299.8,519.2 302.0,519.4 304.0,520.6 306.1,521.6 308.2,521.9 310.6,521.2 312.6,522.4 314.8,522.8 317.0,523.2 318.8,525.9 320.9,528.4 321.1,531.0 321.8,533.6 321.8,536.2 322.2,538.8 323.9,540.6 325.7,542.3 327.4,544.0"/><path d="M283.2,515.4 282.2,517.5 281.0,519.5 278.8,520.3 277.5,522.2 275.4,523.2 274.3,525.2 273.0,527.2 272.2,529.4 271.4,531.6 270.2,533.6 270.2,536.2 269.7,538.8 270.2,541.4"/><path d="M270.2,541.4 270.0,543.6 268.7,545.6 268.2,547.8 268.0,550.0 267.3,552.5 266.3,554.9 266.7,557.6 265.8,560.0"/><path d="M354.3,566.4 355.5,564.5 355.6,562.1 356.5,560.0 357.2,557.9 358.5,556.0 360.4,554.8 361.7,552.9 363.7,551.8 365.4,550.1 366.8,548.0 368.9,546.6 371.3,545.2 373.6,543.8 375.1,541.4 375.7,538.8 376.2,536.2 375.9,532.9 374.1,530.0"/><path d="M360.0,566.4 362.8,565.7 365.5,564.6 368.8,563.6 370.9,560.9 373.6,560.9 376.4,560.9 377.2,558.7 379.1,557.3 380.2,554.2 380.0,550.9 381.8,548.2 383.1,550.3 384.7,552.2 385.5,554.6 387.1,552.5 389.1,550.9 392.0,550.6 394.6,551.8 395.0,549.1 395.5,546.4 397.5,543.8 400.1,541.8 402.0,539.9 402.8,537.3 405.1,536.3 406.7,534.2 409.2,533.6 411.5,535.5 412.8,538.2 415.5,540.9 417.9,541.6 420.1,542.7 422.4,540.6 425.5,540.0 427.6,538.5 429.8,537.0 432.0,535.5"/><path d="M270.2,541.4 268.6,543.7 266.5,545.5 264.8,547.0 262.7,548.0 260.6,549.0 259.2,550.9 257.9,553.2 258.0,555.8 257.4,558.2 255.1,559.7 253.5,562.1 251.1,563.5 249.2,565.5 247.3,567.6 244.7,568.8 242.8,570.9 241.4,572.9 239.5,574.4 237.4,575.7 235.6,577.3 232.8,578.0 230.1,579.1 228.0,580.1 225.8,580.1 223.5,580.2 221.4,580.5 219.2,581.0 218.7,583.4 217.4,585.5 215.3,586.1 213.2,586.8 210.8,586.7 208.8,587.7 206.9,589.2 204.6,589.2 202.9,591.2 200.2,591.3 197.8,592.0 195.8,593.4 193.7,594.6 191.1,595.5 188.9,597.3 186.4,598.3 187.2,600.5 186.5,602.9 187.0,605.1 187.3,607.4 187.6,609.9 189.1,612.0 189.1,614.6 187.2,617.3 185.5,620.1 182.3,620.4 179.1,620.1 176.2,621.1 173.7,622.8"/><path d="M265.8,560.0 265.8,562.9 265.5,565.8 264.9,568.6 264.6,571.0 263.2,573.1 263.2,575.5 262.7,578.1 262.6,580.8 262.3,583.4 261.4,585.9 261.9,588.2 260.7,590.5 262.2,592.8 261.8,595.1 261.1,597.4 261.4,599.7 262.2,602.5 264.0,604.9 263.8,607.2 263.1,609.5 263.2,611.8 260.8,611.9 258.4,612.2 256.1,613.1 253.7,613.5 252.1,615.9 251.9,618.7 252.0,621.3 251.7,624.0 253.1,626.5 252.8,629.1 250.8,630.5 249.7,632.9 247.6,634.2 247.7,636.7 246.2,638.7 245.9,641.1 246.8,643.3 246.8,645.8 247.6,648.1 249.3,650.4 250.2,653.2 252.4,653.9 254.7,653.2 256.9,652.7 259.2,653.3 261.4,653.2 260.6,655.3 260.9,657.6 259.9,659.7 259.7,661.9 257.2,661.6 255.0,662.6 252.8,663.6 254.5,665.3 256.3,667.0 258.5,666.2 261.0,666.1 263.2,665.3 265.3,664.1 267.5,662.9 270.1,663.6 272.5,663.9 274.8,664.3 277.0,665.3 278.0,668.3 280.4,670.5 282.1,672.3 283.9,674.0 285.9,676.3 287.3,679.1 286.0,681.2 283.7,682.4 282.2,684.3 279.8,686.3 277.0,687.8 274.8,688.6 272.4,688.9 270.1,689.5 268.9,691.8 267.7,694.1 266.6,696.4"/><path d="M263.2,611.8 266.1,612.4 268.8,613.5 271.8,613.5 274.2,613.4 275.8,611.1 278.7,612.1 280.4,610.1 282.8,609.8 285.3,610.0 287.6,608.7 290.1,608.8 292.5,608.3 295.1,607.6 297.7,606.7 300.4,606.1 302.9,604.9 304.1,601.9 304.6,598.8 306.6,597.8 308.9,597.5 311.2,597.3 313.2,596.3 315.9,595.7 318.4,594.4 321.0,593.6 323.6,592.8 324.4,590.2 325.3,587.6 327.4,586.7 329.5,586.2 332.0,587.1 334.0,585.9 337.0,586.6 340.0,587.6"/><path d="M287.3,679.1 289.5,679.6 291.7,679.7 293.7,681.1 296.0,680.9 298.6,681.7 301.1,680.8 303.7,681.2 306.3,680.9 308.6,679.6 311.5,679.6 313.7,678.2 315.8,676.4 318.4,675.7 321.1,674.4 323.1,672.4 325.3,670.5 327.9,670.7 330.5,670.5"/><path d="M201.5,689.4 203.5,691.3 206.0,692.7 208.0,694.6 210.7,696.4 213.2,698.5 214.6,700.3 216.4,701.8 218.4,703.1 219.7,705.0"/><path d="M266.6,696.4 268.6,694.7 268.8,692.1 270.0,690.0"/><path d="M210.0,696.2 211.8,698.1 213.5,700.0 214.6,702.4 216.5,704.2 218.3,705.8 220.4,706.8 222.3,708.2 224.5,709.1 227.0,709.6 228.9,711.1 231.0,712.3 233.0,714.1 234.8,716.1 236.7,718.0 238.6,719.4 241.2,719.6 242.0,722.8 244.7,722.8 245.1,725.0 244.5,727.2 244.3,729.5 244.7,731.7 245.4,734.1 246.8,736.1 248.0,738.2 249.5,740.5 248.9,743.0 248.2,745.5 248.8,747.9 251.0,749.2 253.1,750.7 255.4,751.9 256.8,754.3 256.7,756.8 257.4,759.2 258.5,761.5 258.5,764.0 258.0,766.7 257.4,769.4 256.8,772.1 256.5,775.4 255.2,778.5 255.6,781.2 255.6,783.9 256.0,786.6 255.9,789.0 255.8,791.5 256.6,793.9 256.8,796.3 257.6,798.4 257.7,800.7 258.5,802.8"/><path d="M236.7,718.0 239.0,717.1 241.4,716.1 244.1,716.5 246.3,715.2 248.8,714.7 251.2,714.4 253.7,714.2 256.0,713.0 258.5,713.1 260.6,712.4 262.6,711.3 264.5,710.1 266.5,709.1 267.8,706.5 268.4,703.6 269.8,701.0 270.2,698.5 272.1,696.9 273.1,694.7 274.6,692.9 277.4,692.2 280.0,690.9 282.7,689.7 284.2,687.9 286.0,686.5 288.0,685.3 289.2,683.2 292.1,682.6 294.6,681.2 297.2,680.0"/><path d="M610.6,332.7 613.2,332.7 615.8,332.3 618.4,332.2 621.0,332.3 623.6,331.9 626.2,331.5 628.8,331.3 631.3,330.3 633.9,329.7 636.6,330.1 638.4,328.5 640.7,328.0 643.1,327.8 645.1,326.8 647.0,325.4 648.8,323.6 650.8,321.9 653.4,321.3 655.4,319.7 657.4,318.1 659.4,316.5 662.2,316.3 664.3,314.9 666.5,313.7 669.0,313.8 671.2,312.9 673.6,312.7 675.9,312.0 678.2,311.4 680.3,310.3 682.7,309.9 684.9,308.9 687.3,308.5 689.7,308.2 691.7,306.8 693.9,305.9 696.4,305.9 698.9,305.8 701.4,305.5 703.7,304.6 702.8,307.1 702.8,309.8 703.8,312.5 702.9,315.0 703.6,317.1 704.0,319.3 704.2,321.5"/><path d="M687.3,331.9 685.0,332.9 683.1,334.7 680.5,334.8 678.2,335.8 676.0,337.3 674.3,339.3 671.9,340.4 669.6,341.6 667.8,343.6 666.2,345.1 664.3,346.4 662.8,348.0 661.4,349.7 660.0,351.4 658.3,352.8 657.0,354.6 654.9,355.7 653.9,357.8 652.2,359.2 650.7,361.2 648.5,362.4 647.0,364.4 646.0,366.5 644.2,368.2 642.7,370.0 641.8,372.2 641.3,374.4 640.9,376.5 640.5,378.7"/><path d="M640.5,378.7 642.7,377.5 644.6,375.9 645.9,373.6 647.9,372.2 650.6,371.6 652.2,369.6 654.8,369.5 657.3,368.0 659.9,368.0 662.6,368.3 664.9,368.3 667.2,367.9 669.4,368.5 671.7,368.3 674.1,367.5 676.6,366.9 678.8,365.3 681.4,365.0"/><path d="M640.5,378.7 639.3,380.9 637.7,382.9 637.9,385.7 636.6,387.8 635.6,389.8 635.3,392.0 635.0,394.2 634.9,396.5 634.9,398.7 634.0,400.8 635.2,403.3 635.4,406.1 636.6,408.6 639.1,409.4 641.7,409.8 644.3,410.0 647.0,409.9 649.2,410.8 651.7,410.8 654.1,410.9 656.3,412.1 658.7,412.5"/><path d="M558.0,358.0 560.4,358.0 562.7,357.5 565.0,356.6 567.4,357.0 569.9,357.2 572.5,357.2 574.9,358.3 577.5,358.2 579.9,359.1 582.5,359.8 585.1,360.8 587.7,361.5 590.3,362.2 592.6,362.0 594.3,360.2 596.2,359.0 598.6,359.1 601.0,357.3 602.8,354.9 605.5,355.9 608.3,356.2 611.1,355.9 615.2,354.9 615.8,357.7 616.4,360.5 617.3,363.2 618.8,364.8 620.9,365.9 622.2,367.8 623.6,369.5 624.8,372.0 626.5,374.2 627.7,376.8"/><path d="M514.3,326.8 516.5,327.9 519.1,326.7 521.4,327.4 523.7,327.9 526.4,327.9 528.8,326.6 531.4,325.8 534.1,325.8"/><path d="M557.0,337.2 557.8,339.4 557.6,341.7 556.8,344.0 557.5,346.2 557.6,348.5 558.0,350.7 557.7,353.2 556.6,355.5 556.5,358.0"/><path d="M615.8,401.4 616.1,399.2 615.9,397.0 616.4,394.8 616.9,392.6 617.1,390.4 619.5,388.1 621.0,385.2 622.9,383.5 625.0,381.9 626.7,380.0"/><path d="M618.4,401.4 620.5,402.6 622.9,401.6 625.2,401.7 627.3,403.0 629.5,403.0 631.8,403.1 634.0,403.4"/></g>
<path d="M143.5,76.4 144.4,74.1 145.1,71.7 147.6,70.3 150.3,69.1 152.7,67.1 154.7,64.7 156.3,62.0 158.1,59.5 160.4,59.5 162.5,58.7 165.6,58.6 168.5,59.5 170.6,58.3 172.9,57.7 174.7,55.6 176.3,53.5 178.9,53.1 181.5,53.0 184.4,52.4 187.0,51.3 189.8,50.4 192.6,49.3 195.5,48.6 199.7,49.9 202.8,49.8 205.9,49.4 208.0,47.8 210.5,49.2 212.7,50.9 214.9,52.1 216.5,53.9 218.2,55.8 219.7,57.7 221.9,58.8 223.8,60.4 225.7,62.0 227.9,63.1 230.1,64.2 231.9,66.2 234.3,67.3 236.9,68.0 238.7,70.1 241.3,70.7 242.3,72.9 244.4,74.4 245.7,76.4 246.9,78.6 247.9,80.8 249.5,82.7 250.9,84.7 253.8,86.0 256.9,86.3 260.0,88.1 260.6,92.0 262.1,93.7 263.9,95.1 266.8,94.8 269.6,93.8 272.5,93.3 274.9,91.7 277.1,89.7 279.5,88.1 281.8,87.3 283.5,85.2 286.0,84.7 288.6,84.4 291.3,84.4 293.8,83.6 296.4,82.9 299.1,81.2 301.7,79.5 304.2,80.5 307.0,80.6 309.5,81.6 312.2,81.9 314.7,82.8 317.3,83.5 319.9,84.2 321.5,85.9 323.9,86.5 325.6,88.1 326.0,90.8 328.0,93.1 328.2,95.9 328.1,98.2 327.3,100.4 326.3,102.6 326.4,105.0 326.2,107.6 326.4,110.4 324.8,112.8 324.5,115.4 322.7,117.2 321.2,119.4 319.4,121.2 317.3,122.7 314.8,124.3 312.1,125.3 310.7,127.6 309.2,129.8 308.2,132.3 305.9,134.0 302.6,133.6 300.4,135.7 298.1,137.0 295.9,138.3 294.9,140.3 293.4,141.9 292.5,144.0 293.7,146.2 294.2,148.9 296.4,150.5 297.8,152.6 300.0,153.9 301.7,155.7 304.4,157.3 306.9,159.1 307.8,161.8 308.4,164.6 308.9,167.4 309.3,169.7 310.7,171.7 310.4,174.2 311.9,176.1 309.8,177.6 307.6,179.0 305.1,180.2 302.6,181.3 300.4,182.2 298.7,183.9 296.3,182.5 295.3,180.0 293.1,178.9 291.4,177.1 287.5,179.0 285.2,181.0 286.1,184.0 287.5,186.8 289.0,188.8 290.5,190.7 291.2,193.7 292.0,196.6 292.3,199.2 293.2,201.8 293.4,204.4 293.8,206.8 294.0,209.2 296.3,209.3 298.3,210.6 300.6,210.2 302.8,212.0 303.1,215.1 305.1,217.0 307.6,218.3 309.8,220.0 311.9,221.9 314.3,223.3 317.0,224.0 319.7,224.3 321.7,225.4 323.5,226.6 325.3,228.0 327.1,229.3 328.8,231.2 329.9,233.6 331.9,235.1 334.1,236.3 336.3,237.5 338.4,238.5 340.4,239.8 342.6,240.8 344.5,242.2 347.0,242.4 344.0,243.2 341.6,245.3 340.6,247.7 338.1,249.0 336.9,251.2 336.0,253.4 334.8,255.4 333.0,257.0 331.8,259.5 331.6,262.3 330.4,264.8 329.6,268.0 328.5,271.1 327.0,273.0 326.5,275.5 325.2,277.5 324.8,280.1 323.6,282.4 326.0,283.7 328.5,284.7 331.2,286.2 334.3,286.7 332.3,285.5 330.0,284.7 332.9,285.4 335.3,287.1 337.8,288.6 339.8,289.9 341.2,291.9 343.4,292.8 345.6,293.8 347.3,295.4 349.2,296.9 351.5,297.6 353.4,299.0 355.9,300.5 358.5,301.8 361.2,302.9 363.4,303.3 365.4,304.5 367.3,305.5 369.7,305.6 371.6,306.8 373.5,307.9 375.6,308.7 377.7,309.6 380.0,309.6 382.0,310.7 384.1,312.5 385.9,314.7 388.5,315.9 390.7,316.9 393.1,316.9 395.3,318.0 397.6,318.5 400.2,319.2 402.8,318.5 405.4,318.7 408.0,318.5 410.8,319.2 413.2,317.6 415.8,317.2 418.0,317.6 420.2,317.6 422.3,318.5 425.0,319.1 427.3,320.9 430.1,321.1 432.1,322.4 434.0,323.7 435.8,326.5 436.6,329.7 439.3,330.4 441.8,331.8 444.4,332.8 446.9,334.0 449.7,334.2 452.2,335.4 454.3,336.2 456.6,336.1 458.7,336.7 460.8,337.7 462.9,338.7 465.2,339.3 467.8,340.0 470.4,340.0 473.0,340.6 475.6,341.1 478.2,341.7 480.9,341.3 483.4,342.4 486.0,342.7 488.1,343.5 490.2,344.4 492.5,344.5 494.7,344.8 496.9,345.0 499.1,345.3 502.3,345.4 505.6,345.4 507.8,344.3 510.3,343.8 513.4,345.4 515.7,343.1 516.2,340.7 516.9,338.4 517.3,336.1 517.3,333.7 516.6,331.3 515.7,329.0 513.4,327.5 513.8,323.5 514.6,319.6 515.0,315.7 516.9,312.6 517.7,308.7 516.1,306.8 515.7,304.8 518.3,303.6 521.2,303.3 525.1,302.5 528.2,300.1 530.6,301.2 532.9,302.5 534.1,305.6 534.5,309.5 534.4,312.9 532.5,315.7 532.7,318.5 533.7,321.2 535.3,322.8 532.9,325.1 533.7,327.5 535.4,329.7 536.8,332.1 538.7,333.8 540.7,335.3 544.6,334.5 547.4,334.8 550.0,336.0 552.3,336.4 554.6,337.1 557.0,337.4 559.9,337.1 562.4,335.4 565.3,335.3 567.5,335.0 569.5,333.8 571.6,333.2 574.5,333.6 577.1,334.8 579.9,335.3 582.5,334.9 585.1,334.7 587.7,334.2 590.3,334.3 592.8,334.4 595.3,334.3 597.8,334.2 600.3,333.9 602.8,334.3 605.5,333.4 608.4,333.1 611.1,332.2 611.5,329.9 610.7,327.7 610.6,325.4 610.9,323.0 609.9,320.9 609.1,318.6 609.3,316.3 607.2,315.2 604.8,315.0 602.8,313.7 601.4,311.9 600.0,309.9 598.1,308.5 600.4,307.7 602.8,307.2 605.1,306.6 607.7,307.2 609.8,305.7 612.2,305.2 614.5,304.6 616.9,303.9 619.0,302.6 621.3,301.6 623.6,300.7 626.3,299.5 628.3,297.1 631.4,296.8 634.0,295.6 635.4,293.0 637.9,291.6 638.8,289.4 640.5,287.7 642.8,287.1 644.8,286.0 647.0,285.1 649.5,284.1 652.2,284.3 654.8,283.8 656.4,281.5 658.7,279.9 660.2,277.9 661.7,276.0 663.9,274.7 665.6,272.2 667.8,270.3 669.8,269.1 671.7,267.7 673.8,268.8 676.0,269.9 678.2,270.8 680.2,272.0 682.5,272.5 684.7,273.4 686.8,272.3 689.0,271.5 691.2,270.8 694.1,270.2 696.4,268.2 699.0,266.9 701.7,265.7 704.2,264.3 706.8,264.9 709.4,265.6 710.7,269.5 708.7,272.0 706.8,274.7 708.9,275.3 711.1,275.6 713.3,276.0 717.2,276.0 717.5,278.6 718.0,281.2 717.8,283.8 717.0,285.9 715.4,287.6 714.1,289.5 713.3,291.6 715.8,292.4 718.5,292.5 721.1,292.9 723.5,293.9 725.3,295.7 727.6,296.8 729.7,297.5 732.1,297.0 734.1,298.1 735.9,300.3 738.1,302.0 737.2,304.5 736.8,307.2 734.5,307.9 733.4,310.2 731.6,311.6 729.2,312.1 727.6,313.7 727.7,316.5 726.3,318.9 727.9,320.7 729.3,322.5 730.6,324.5 731.5,326.7 727.6,325.4 725.2,324.8 723.7,322.8 721.5,321.6 719.6,319.8 717.2,318.9 715.1,318.3 712.9,317.8 710.7,317.6 708.6,319.0 706.0,319.6 704.2,321.5 701.5,323.3 699.0,325.4 696.7,325.8 694.9,327.8 692.5,328.0 689.8,329.8 687.3,331.9 686.4,334.1 684.7,335.8 684.1,338.4 683.7,341.0 683.4,343.6 683.6,346.3 682.7,348.8 681.9,351.3 682.1,354.0 681.7,356.6 681.5,359.2 681.6,361.8 680.3,364.8 678.3,367.3 675.9,367.9 673.6,368.4 671.1,368.2 669.2,370.0 670.4,372.3 671.3,374.8 672.9,376.9 674.3,379.1 673.5,381.8 673.3,384.7 672.0,387.3 671.0,389.5 670.6,391.9 670.5,394.4 668.9,396.4 668.6,399.0 666.9,401.0 666.1,403.4 664.7,405.5 662.9,407.2 662.4,409.6 661.7,411.9 660.1,413.7 657.9,412.9 656.2,411.0 653.8,410.6 651.2,410.6 648.8,409.4 646.3,409.1 643.7,408.8 642.8,412.8 642.4,415.6 643.4,418.3 643.0,421.0 643.3,423.8 642.7,426.5 642.8,429.2 641.4,431.9 640.1,434.6 636.1,434.6 636.0,436.9 636.8,439.1 636.2,441.6 637.4,443.7 637.5,445.9 637.4,448.1 638.0,450.3 637.7,452.5 637.9,454.7 635.6,458.3 632.8,461.0 630.1,463.4 627.8,461.3 625.5,459.2 622.8,461.9 622.9,459.5 623.2,457.1 622.8,454.7 622.0,452.6 621.4,450.4 621.7,448.0 620.5,445.9 620.1,443.7 619.1,441.4 619.1,438.7 617.9,436.5 618.0,434.3 616.1,432.3 616.8,429.9 617.1,427.7 616.4,425.5 616.3,423.2 615.3,421.0 615.7,418.5 614.6,416.4 612.1,418.5 609.2,420.1 608.8,422.4 608.2,424.6 607.8,426.9 607.3,429.2 605.2,430.7 603.7,432.8 601.1,434.3 599.1,436.5 597.3,435.1 595.5,433.7 595.2,431.2 593.7,429.2 592.2,427.2 591.2,425.0 590.0,422.8 590.2,420.5 588.9,418.5 588.2,416.4 589.3,414.1 589.2,411.6 590.0,409.2 592.2,407.7 594.6,406.4 596.8,405.0 599.1,403.7 601.4,403.3 603.7,402.8 605.5,401.5 607.4,400.4 609.2,399.1 611.6,398.5 613.7,397.3 614.7,395.2 614.6,392.8 614.7,389.6 614.6,386.4 617.3,383.7 619.8,382.6 621.9,380.9 624.0,379.9 625.5,378.2 621.9,377.3 619.5,378.1 617.1,378.6 614.6,378.2 612.3,377.6 610.0,377.8 607.8,378.5 605.5,378.6 603.2,378.3 600.9,378.8 598.6,378.9 596.4,378.2 594.1,378.0 591.8,378.9 589.6,377.8 587.3,378.2 585.0,378.5 582.8,378.1 580.5,377.3 578.2,378.2 576.0,377.1 573.6,377.9 571.4,377.0 569.1,377.3 566.7,377.3 564.5,376.6 562.3,375.8 560.0,375.5 556.6,375.8 557.7,372.7 557.6,369.5 557.4,366.7 557.9,364.0 557.6,361.2 557.3,358.8 556.4,356.4 556.6,353.9 554.5,350.8 553.5,353.4 552.4,356.0 550.3,358.1 548.0,356.4 545.1,356.0 543.0,354.5 541.0,352.9 538.9,349.8 534.7,350.8 531.6,348.7 528.5,346.6 524.3,345.6 522.1,347.0 520.2,348.7 518.3,350.6 517.0,352.9 516.6,355.6 515.5,358.1 516.5,362.2 518.5,364.3 521.2,365.4 522.8,367.9 525.4,369.5 528.5,370.2 531.6,369.5 533.7,372.7 534.7,374.7 537.3,375.8 535.8,378.9 532.7,377.8 529.5,377.9 526.9,378.6 524.3,378.9 523.5,381.4 522.5,383.9 521.2,386.2 518.1,385.1 516.9,387.4 515.0,389.3 513.4,392.4 515.5,394.3 517.0,396.6 518.9,398.0 520.9,399.3 523.3,399.7 525.6,400.1 527.7,401.5 530.0,401.8 531.3,403.7 531.6,406.0 531.0,409.2 530.2,411.9 529.2,414.6 527.4,418.3 529.2,421.9 531.9,424.6 533.6,426.7 534.6,429.2 537.4,430.1 535.0,432.8 536.0,435.5 535.6,438.3 535.9,440.7 536.2,443.2 536.5,445.6 537.3,448.0 537.9,450.3 538.3,452.8 539.2,455.5 539.2,458.3 539.5,461.0 539.9,463.7 539.8,466.5 540.1,469.2 536.5,471.1 532.8,472.0 530.0,472.2 527.4,471.4 524.6,471.6 521.9,472.0 519.2,470.8 516.4,470.1 514.6,467.4 512.8,463.8 510.6,464.7 508.9,466.1 507.3,467.8 505.5,469.2 502.9,470.4 500.1,471.1 498.8,473.5 496.4,474.7 494.6,476.5 492.4,477.2 490.5,478.3 489.1,480.2 489.3,483.3 487.3,485.6 487.2,488.4 486.4,491.1 488.3,492.3 490.0,493.8 488.0,495.5 485.5,496.5 484.4,499.4 483.4,502.4 481.7,504.1 480.1,506.0 478.2,507.6 475.6,509.6 473.0,511.5 470.7,513.4 468.0,514.5 465.2,515.4 462.8,517.1 459.8,517.6 457.4,519.3 455.1,521.3 452.2,522.0 449.6,523.2 447.5,524.2 445.7,525.8 443.5,526.8 441.8,528.4 440.0,529.9 437.8,530.8 435.7,532.0 434.0,533.6 430.8,534.7 428.8,537.5 426.7,538.5 424.5,539.6 422.9,541.4 421.0,542.7 419.0,544.3 416.6,545.4 415.0,547.4 413.2,549.2 412.2,551.6 412.2,554.1 411.3,556.5 411.9,559.1 409.5,559.4 408.4,561.9 406.4,562.8 403.9,564.5 402.8,567.3 400.8,569.5 399.1,571.9 396.7,573.1 394.6,574.6 392.2,575.8 389.6,576.7 387.3,578.2 385.7,579.8 383.8,580.9 381.8,581.9 380.2,583.9 378.2,585.5 376.4,588.3 378.2,591.0 376.4,593.7 373.7,595.5 371.9,596.7 369.9,597.8 368.2,599.2 366.6,600.6 364.9,602.1 361.9,603.1 358.7,603.7 355.5,602.1 354.5,604.2 352.4,605.3 350.7,607.5 349.3,609.9 348.2,612.5 347.1,615.0 346.2,617.7 343.1,617.7 341.5,613.8 339.0,613.6 336.8,614.6 334.5,615.5 332.1,616.2 330.6,618.6 329.0,620.9 328.9,623.4 326.7,624.9 325.9,627.1 325.1,630.2 324.3,633.3 325.0,636.4 325.1,639.6 325.7,642.7 326.7,645.8 327.4,648.4 327.5,651.0 327.5,653.6 326.2,656.6 326.7,659.9 326.8,663.0 327.5,666.1 329.0,669.2 329.0,671.6 329.8,673.9 329.9,677.0 330.6,680.0 330.0,682.9 330.1,685.8 329.2,687.8 327.6,689.6 327.8,692.0 326.7,694.0 326.2,696.2 325.0,698.2 323.7,700.2 323.2,702.7 321.0,704.0 321.2,706.8 319.0,709.0 318.4,711.6 318.4,714.4 318.4,716.7 318.1,719.0 317.7,721.3 318.3,723.7 316.9,725.9 318.0,728.3 317.7,730.6 318.5,733.0 317.1,735.2 316.9,737.8 318.1,740.2 317.9,742.8 319.6,745.0 319.5,747.6 320.2,750.1 317.9,751.0 315.6,751.8 313.0,752.0 310.7,752.8 308.5,754.1 306.5,755.7 304.0,756.1 301.9,757.4 300.7,759.3 300.5,761.6 299.8,763.7 299.3,765.8 299.3,768.1 298.3,770.1 300.4,771.3 302.3,772.9 305.0,773.0 307.0,774.5 309.2,775.6 306.7,775.5 304.4,776.8 302.0,776.6 299.6,777.6 297.1,777.4 294.7,777.4 292.9,779.2 290.7,780.3 288.6,781.5 286.4,782.7 284.3,784.0 282.8,786.1 280.1,786.5 278.8,788.8 279.0,791.4 278.3,793.8 276.8,795.6 274.8,796.9 272.8,798.1 271.3,800.0 269.2,801.1 266.5,802.2 263.7,802.9 261.3,802.2 259.2,800.8 256.7,800.4 254.6,799.2 252.4,797.7 250.1,796.4 247.7,795.2 245.5,793.8 244.5,791.6 242.6,790.2 240.7,788.7 239.8,786.4 238.2,784.7 237.7,782.6 237.0,780.4 236.5,778.3 236.8,775.9 235.3,774.0 234.6,771.9 234.2,769.7 233.3,767.7 233.3,765.4 232.1,763.4 231.2,761.4 230.9,759.2 229.8,756.9 229.9,754.3 229.4,751.8 227.8,749.6 227.6,747.1 227.3,744.6 227.0,742.1 226.5,739.7 224.9,737.5 224.7,735.0 224.7,732.4 223.7,730.1 222.6,728.1 221.7,725.9 220.7,723.8 219.5,721.8 219.1,719.4 218.2,717.3 216.9,715.0 214.8,713.3 213.9,710.7 212.8,708.3 210.9,706.4 209.5,704.2 208.3,701.8 206.3,700.0 205.6,697.3 203.6,695.5 201.5,692.9 200.0,690.0 200.9,687.5 199.9,685.0 199.8,682.5 200.2,680.0 199.3,677.5 199.0,675.0 198.4,672.4 197.8,669.9 197.6,667.3 196.7,665.3 196.3,663.0 195.6,660.9 194.3,659.0 193.7,656.9 192.9,654.1 190.7,651.9 189.8,649.1 188.4,647.3 187.4,645.4 187.1,643.1 185.9,641.2 184.4,638.8 183.6,636.2 183.3,633.4 183.0,630.6 182.3,628.0 180.7,625.6 179.9,622.7 177.5,620.7 176.8,617.8 175.5,615.2 174.5,612.4 172.9,610.0 172.2,607.9 170.7,606.1 170.4,603.8 169.1,601.9 169.0,599.6 167.8,597.1 168.6,594.2 167.3,591.7 166.4,589.2 164.9,586.8 164.0,584.2 163.8,581.4 163.3,578.8 162.2,576.3 162.1,573.5 161.2,571.0 160.1,568.5 159.4,565.8 158.6,563.2 157.8,560.6 156.4,558.1 156.0,555.4 154.7,552.9 154.6,550.3 154.7,547.6 154.1,545.0 154.0,542.4 153.7,539.8 153.4,537.2 152.1,534.6 150.8,532.0 150.7,529.4 149.7,526.9 150.4,524.1 149.5,521.6 149.9,518.9 148.8,516.4 148.2,513.8 148.9,511.2 149.5,508.6 151.9,506.3 153.4,503.4 152.8,500.7 151.7,498.2 150.8,495.6 150.3,493.0 149.6,490.5 149.5,487.8 148.1,485.4 148.0,482.5 146.9,480.0 147.5,477.2 147.0,474.4 146.2,471.9 146.3,469.2 146.1,466.6 145.7,464.0 145.2,461.8 144.7,459.5 144.5,457.2 144.4,454.9 141.8,452.3 141.8,454.8 140.1,456.6 139.2,458.8 139.0,461.4 137.6,463.9 137.8,466.5 137.9,469.2 137.7,471.8 137.3,474.4 136.2,476.9 136.6,479.6 134.3,480.3 132.7,482.1 130.8,483.6 128.8,484.8 127.2,486.6 125.0,487.5 123.0,488.8 121.0,490.0 118.5,491.1 115.6,490.9 113.5,493.2 110.6,493.2 108.0,493.5 105.4,493.5 102.8,493.9 100.8,492.4 99.0,490.7 96.2,490.5 94.3,489.0 92.4,487.4 90.7,485.6 89.0,483.9 87.1,482.3 85.2,480.7 84.1,478.4 82.0,477.0 79.9,475.6 78.3,473.7 77.3,471.3 75.6,469.5 73.6,468.1 71.6,466.6 69.8,465.3 68.2,463.8 66.6,462.2 65.0,460.7 63.8,458.8 62.3,456.7 61.7,454.2 59.9,452.3 62.5,448.9 64.4,450.0 66.4,451.0 69.0,450.7 71.6,450.6 74.2,451.0 76.2,449.6 78.7,449.8 80.7,448.4 82.5,446.3 85.3,445.9 87.2,443.9 89.8,443.2 91.2,441.1 92.8,439.3 95.0,438.0 96.3,434.1 92.4,435.4 89.6,436.3 87.2,438.0 84.6,438.9 81.6,438.6 79.4,440.6 76.7,440.4 74.1,439.8 71.7,438.4 69.0,438.0 67.2,436.7 65.0,436.0 62.7,435.6 61.5,433.1 59.4,432.4 57.3,431.5 55.5,429.7 53.2,428.5 51.6,426.4 49.5,425.0 48.4,422.9 47.8,420.7 46.9,418.5 44.3,418.6 41.7,418.5 42.6,416.0 42.5,413.3 44.6,411.8 46.9,410.7 49.5,410.1 52.2,410.3 54.7,409.4 55.2,406.8 55.5,404.2 56.0,401.6 58.6,401.8 61.1,402.7 63.8,402.3 66.4,402.9 69.0,403.4 71.5,404.4 74.2,404.0 76.8,404.2 79.4,403.6 81.9,403.1 84.6,403.5 87.1,402.6 89.8,402.9 91.8,401.7 94.1,401.7 96.3,401.6 98.9,399.0 102.2,398.5 105.4,399.0 107.3,397.6 108.2,395.3 110.8,394.6 111.9,392.5 109.7,390.1 108.0,387.3 109.5,390.1 111.0,392.8 110.2,390.6 108.9,388.7 108.2,386.6 107.6,384.4 106.1,382.6 105.8,380.3 103.4,378.5 102.6,375.6 101.1,373.1 100.1,370.6 100.6,367.9 98.5,365.3 96.0,365.4 93.7,364.5 91.2,364.7 89.3,362.7 87.6,360.6 86.8,358.1 86.5,355.4 86.8,353.1 88.1,351.2 88.4,348.1 89.1,345.0 87.6,342.4 85.0,342.3 82.3,342.7 79.8,341.8 77.7,340.5 75.3,339.9 73.5,338.2 72.0,335.6 72.4,333.2 72.4,330.7 73.0,328.3 74.6,326.5 75.6,324.2 77.6,323.1 79.0,321.4 80.8,320.0 79.6,323.0 78.2,326.0 79.6,324.0 81.3,322.2 82.5,320.0 83.4,317.7 84.7,315.6 86.1,313.7 87.9,312.1 88.0,309.3 89.9,307.8 92.6,306.0 95.1,303.9 99.0,305.2 100.7,307.1 101.1,309.8 102.9,311.7 105.1,310.8 107.4,310.3 109.6,309.3 112.0,309.1 114.2,308.4 116.4,308.1 118.7,307.9 120.5,305.9 122.8,305.6 125.0,305.2 128.4,305.5 130.2,302.6 131.6,300.7 132.3,298.4 133.5,296.5 133.3,293.7 135.4,292.2 137.3,290.7 138.1,288.3 138.8,286.0 140.6,284.4 142.8,283.5 144.3,281.6 146.2,280.1 148.4,279.2 150.1,277.3 151.7,275.1 152.9,272.8 154.6,270.9 156.2,268.8 157.0,266.5 158.3,264.5 160.4,263.2 161.4,261.0 163.0,259.2 163.7,256.9 164.7,254.8 165.4,252.6 166.6,250.6 169.2,249.2 171.8,248.0 173.9,247.2 176.3,247.9 178.3,246.7 177.6,244.6 177.6,242.3 177.0,240.2 178.3,238.3 179.1,236.0 181.6,234.8 182.2,232.4 184.1,231.0 185.9,229.5 188.1,228.5 190.0,227.2 190.9,224.4 192.6,222.0 195.2,219.4 193.9,216.8 192.2,214.4 191.3,211.6 191.9,209.0 192.0,206.4 191.7,203.7 192.6,201.2 193.9,198.7 194.4,196.0 195.2,193.4 194.9,196.1 193.7,198.6 196.0,197.0 198.2,195.3 200.2,193.4 202.6,193.6 204.4,191.7 206.8,191.8 208.9,190.8 211.1,190.4 213.2,189.5 211.8,187.0 210.6,184.3 208.5,183.5 206.5,182.5 204.2,182.5 201.9,182.1 200.2,180.4 198.9,178.5 197.4,176.6 196.3,174.5 195.0,172.6 193.0,171.6 190.7,171.3 188.8,170.0 186.5,169.8 184.4,169.0 182.4,168.0 180.2,167.4 178.0,167.0 175.9,166.2 173.6,165.8 171.6,164.8 170.9,162.7 170.8,160.5 170.7,158.2 169.7,156.2 169.8,153.9 169.0,151.8 169.4,149.5 169.1,147.3 167.7,145.3 167.8,143.0 167.1,140.9 166.4,138.8 166.8,136.6 166.8,134.3 166.7,132.1 166.8,129.9 166.5,127.7 166.3,125.4 166.4,123.2 167.8,121.3 169.2,119.4 170.8,117.7 171.6,115.4 173.7,114.3 175.7,113.1 177.8,112.1 179.4,110.2 178.2,107.7 177.6,105.0 176.8,102.4 176.2,99.6 175.2,97.0 174.3,94.3 173.3,91.7 170.4,91.9 167.6,91.2 165.1,90.2 162.4,90.2 159.8,88.6 158.2,86.0 157.7,82.9 154.6,82.9 151.4,82.9 147.8,83.9 145.7,82.7 144.2,80.8 144.7,78.5 143.5,76.4Z" fill="none" stroke="#7f7f7f" stroke-width="1.6" stroke-linejoin="round"/>
<g fill="#7f7f7f" stroke="#7f7f7f" stroke-width="0.8" stroke-linejoin="round">
<path d="M533.7,443.7 L536.5,445.6 L539.2,458.3 L540.1,469.2 L536.5,471.4 L531,472.9 L523.7,472 L518.3,470.1 L520.1,465.6 L527.4,462 L531.9,454.7Z"/>
<path d="M43.5,411.5 L47,410.5 L51,411.2 L53.2,413.5 L51.5,416.5 L47.5,418.5 L44,419 L42.2,416.8 L42.6,413.5Z"/>
</g>
<g fill="#cfcfcf" stroke="#7f7f7f" stroke-width="1.7" stroke-linejoin="round">
<path d="M632.4,668.2 L634.7,676.5 L632.4,685.9 L631.2,695.3 L628.8,702.4 L626.5,711.8 L625.3,721.2 L624.1,724.7 L621.8,721.2 L622.9,709.4 L625.3,700 L625.3,688.2 L628.8,676.5 L630,669.4Z"/>
<path d="M633.5,701.5 L635,703 L634.6,710 L633.2,713 L632.5,708Z"/>
<path d="M619.5,735.5 L622.5,737 L623,742 L620.5,745 L617.5,743.5 L617.5,738Z"/>
<path d="M625.8,775.5 L627.8,776 L627.5,778 L625.5,778Z"/>
<path d="M634.5,792 L637,793.5 L636.5,795.5 L634,794.5Z"/>
<path d="M640.5,800 L643.5,799 L645,803 L643,807 L640,806Z"/>
<path d="M646.5,793 L647.5,793.5 L647,795 Z"/>
</g>
<g fill="#7f7f7f">
<circle cx="647.2" cy="638.8" r="0.9"/><circle cx="652.4" cy="701.9" r="1.1"/><circle cx="614.2" cy="719.3" r="1.1"/>
<circle cx="146.9" cy="743.3" r="0.9"/><circle cx="171.1" cy="738" r="0.9"/><circle cx="157.1" cy="798.4" r="0.9"/>
</g>

</svg>
</body></html>
